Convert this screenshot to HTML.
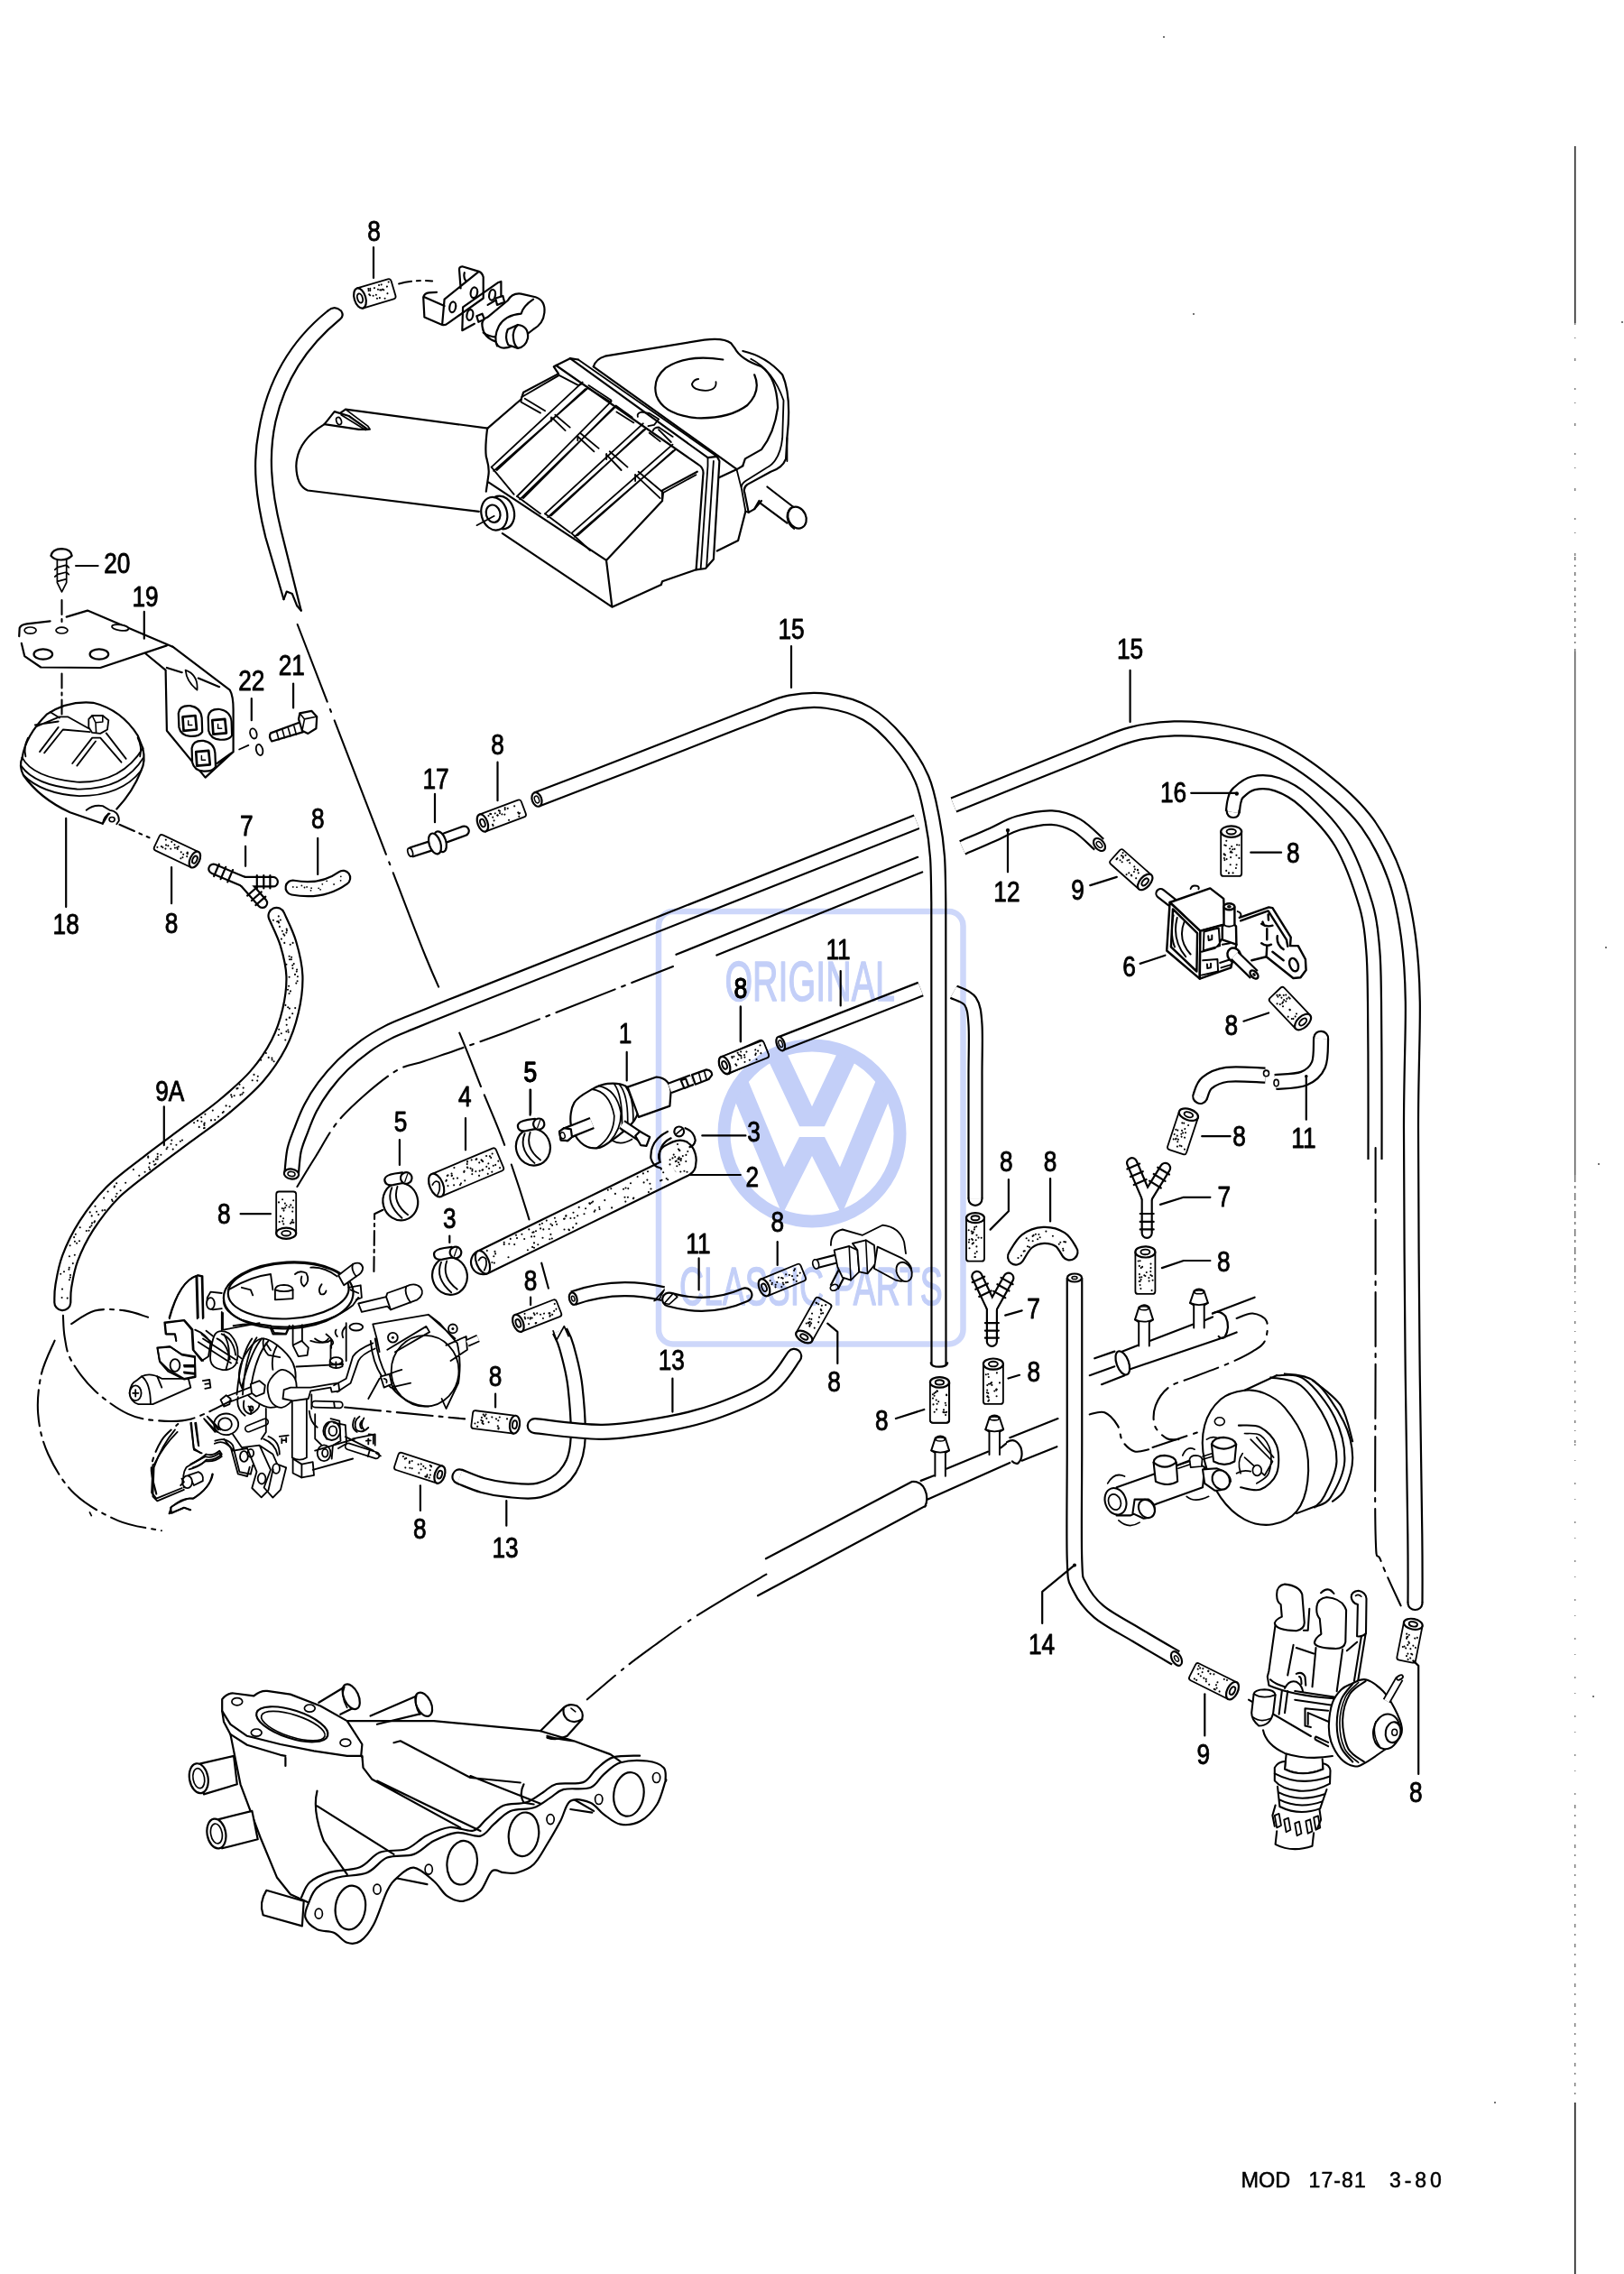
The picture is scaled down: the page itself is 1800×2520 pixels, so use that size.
<!DOCTYPE html>
<html><head><meta charset="utf-8"><title>diagram</title>
<style>
html,body{margin:0;padding:0;background:#fff;}
body{width:1800px;height:2520px;overflow:hidden;font-family:"Liberation Sans",sans-serif;}
svg{display:block;}
svg text{font-family:"Liberation Sans",sans-serif;fill:#000;}
</style></head><body>
<svg width="1800" height="2520" viewBox="0 0 1800 2520" stroke-linecap="round" stroke-linejoin="round">
<text transform="translate(414.5 267) scale(0.82 1)" font-size="32" text-anchor="middle" stroke="#000" stroke-width="0.9">8</text>
<path d="M414 274 L414 308" fill="none" stroke="#000" stroke-width="2.20" />
<g transform="translate(399 330.5) rotate(-16.6)">
<path d="M0 -11.5 L35.600518131237564 -11.5 Q38.600518131237564 -11.5 38.600518131237564 -8.5 L38.600518131237564 8.5 Q38.600518131237564 11.5 35.600518131237564 11.5 L0 11.5 Z" fill="#fff" stroke="#000" stroke-width="1.8"/>
<circle cx="18.5" cy="-6.3" r="1.05" fill="#000"/>
<circle cx="27.0" cy="-7.7" r="1.05" fill="#000"/>
<circle cx="24.0" cy="-2.4" r="1.05" fill="#000"/>
<circle cx="11.6" cy="0.1" r="1.05" fill="#000"/>
<circle cx="11.0" cy="-1.2" r="1.05" fill="#000"/>
<circle cx="11.9" cy="-7.4" r="1.05" fill="#000"/>
<circle cx="21.1" cy="5.9" r="1.05" fill="#000"/>
<circle cx="13.3" cy="-5.0" r="1.05" fill="#000"/>
<circle cx="26.4" cy="8.1" r="1.05" fill="#000"/>
<circle cx="25.1" cy="-1.9" r="1.05" fill="#000"/>
<circle cx="35.5" cy="-8.2" r="1.05" fill="#000"/>
<circle cx="32.4" cy="-3.8" r="1.05" fill="#000"/>
<circle cx="13.8" cy="-6.9" r="1.05" fill="#000"/>
<circle cx="18.1" cy="5.7" r="1.05" fill="#000"/>
<circle cx="14.8" cy="1.5" r="1.05" fill="#000"/>
<circle cx="26.7" cy="-2.3" r="1.05" fill="#000"/>
<circle cx="24.3" cy="-7.9" r="1.05" fill="#000"/>
<circle cx="11.6" cy="-5.3" r="1.05" fill="#000"/>
<circle cx="27.8" cy="-1.3" r="1.05" fill="#000"/>
<circle cx="18.2" cy="1.5" r="1.05" fill="#000"/>
<circle cx="21.9" cy="-3.6" r="1.05" fill="#000"/>
<circle cx="30.7" cy="3.6" r="1.05" fill="#000"/>
<ellipse cx="0" cy="0" rx="6.3" ry="11.5" fill="#fff" stroke="#000" stroke-width="2.20"/>
<ellipse cx="0" cy="0" rx="2.9" ry="5.2" fill="none" stroke="#000" stroke-width="1.9"/>
</g>
<path d="M 442.1 314.5 Q 461.8 309.6 479.1 311.5" fill="none" stroke="#000" stroke-width="2.07" stroke-dasharray="14 6 4 6"/>
<path d="M 363.3 344.5 Q 370.7 337.9 378.1 344.5 Q 381.8 350.2 376.8 353.9 C 343.6 381.0 316.5 417.9 305.4 467.2 C 298.0 501.7 299.3 538.6 311.6 587.9 L 333.7 676.6" fill="none" stroke="#000" stroke-width="2.20" />
<path d="M 363.3 344.5 C 323.9 376.1 296.8 417.9 286.9 477.0 C 279.6 514.0 283.3 550.9 294.3 595.3 L 314.5 664.2" fill="none" stroke="#000" stroke-width="2.20" />
<path d="M 314.5 664.2 L 317.7 655.6 L 323.9 658.1 L 329.3 671.6 L 333.7 676.6" fill="none" stroke="#000" stroke-width="2.20" />
<path d="M 470.4 351.4 L 469.2 329.3 Q 470.4 324.8 475.4 324.3 L 484.0 323.8 M 470.4 351.4 L 490.1 360.0 Q 493.8 360.8 496.3 358.3 L 535.7 330.5 L 535.7 307.1 Q 534.5 302.2 530.8 300.9 L 512.3 295.3 Q 508.6 295.3 509.1 299.7 L 510.6 319.4 M 530.8 300.9 L 492.6 331.7 L 490.1 360.0 M 470.4 329.3 L 492.6 339.1 M 514.8 302.2 Q 513.5 307.1 516.0 310.8" fill="none" stroke="#000" stroke-width="2.20" />
<ellipse cx="501.7" cy="340.3" rx="3.4" ry="5.9" transform="rotate(10 501.7 340.3)" fill="#fff" stroke="#000" stroke-width="2.20"/>
<ellipse cx="525.4" cy="324.3" rx="3.7" ry="5.9" transform="rotate(10 525.4 324.3)" fill="#fff" stroke="#000" stroke-width="2.20"/>
<path d="M 512.3 366.2 L 513.1 340.3 L 551.7 313.3 L 555.4 312.0 L 555.4 329.3 L 540.6 337.9 M 512.3 366.2 L 525.9 358.8" fill="none" stroke="#000" stroke-width="2.20" />
<ellipse cx="520.9" cy="349.0" rx="3.4" ry="5.9" transform="rotate(10 520.9 349.0)" fill="#fff" stroke="#000" stroke-width="2.20"/>
<ellipse cx="545.6" cy="326.8" rx="3.4" ry="5.9" transform="rotate(10 545.6 326.8)" fill="#fff" stroke="#000" stroke-width="2.20"/>
<path d="M 528.3 350.2 L 534.5 347.7 L 536.9 353.9 L 530.3 356.8 Z" fill="#fff" stroke="#000" stroke-width="2.20" />
<path d="M 549.3 330.5 L 557.4 328.0 L 559.1 334.7 L 551.0 337.9 Z" fill="#fff" stroke="#000" stroke-width="2.20" />
<path d="M 534.5 361.3 Q 533.3 353.9 540.6 351.4 L 562.8 333.0 Q 567.7 324.3 577.6 325.6 L 593.6 329.3 Q 604.7 333.0 603.4 346.5 Q 602.2 358.8 591.1 365.0 L 567.7 383.4 Q 553.0 389.6 549.3 378.5 Q 535.7 373.6 534.5 361.3 Z" fill="#fff" stroke="#000" stroke-width="2.20" />
<path d="M 591.1 331.7 Q 580.0 339.1 577.6 347.7 Q 560.3 349.0 553.0 361.3 Q 546.8 373.6 551.0 383.4 M 549.3 373.6 Q 541.9 373.1 535.7 368.7" fill="none" stroke="#000" stroke-width="2.20" />
<path d="M 562.8 365.0 L 573.9 360.0 Q 586.2 361.3 585.0 374.8 Q 582.5 384.7 573.9 385.9 L 563.3 382.2 Q 559.1 373.6 562.8 365.0 Z" fill="#fff" stroke="#000" stroke-width="2.20" />
<path d="M 573.9 360.0 Q 567.7 366.2 569.0 374.8 Q 569.7 382.2 573.9 385.9" fill="none" stroke="#000" stroke-width="2.20" />
<path d="M 540.6 474.6 L 383.0 453.6 L 358.4 470.9 Q 328.8 489.4 328.3 516.5 Q 328.8 538.6 341.1 543.5 L 530.8 566.9" fill="none" stroke="#000" stroke-width="2.20" />
<path d="M 359.6 470.1 L 370.7 456.1 L 386.7 461.0 L 407.6 475.8 L 397.8 475.8 Z" fill="#fff" stroke="#000" stroke-width="2.20" />
<path d="M 383.0 453.6 L 407.6 472.1 L 410.1 475.8 L 407.6 475.8 M 378.1 459.8 L 405.2 476.6" fill="none" stroke="#000" stroke-width="1.71" />
<ellipse cx="375.6" cy="466.5" rx="2.7" ry="4.2" transform="rotate(-20 375.6 466.5)" fill="#fff" stroke="#000" stroke-width="1.71"/>
<ellipse cx="555.6" cy="567.9" rx="14.2" ry="18.6" transform="rotate(-15 555.6 567.9)" fill="#fff" stroke="#000" stroke-width="2.20"/>
<ellipse cx="547.8" cy="569.2" rx="14.2" ry="18.6" transform="rotate(-15 547.8 569.2)" fill="#fff" stroke="#000" stroke-width="2.20"/>
<ellipse cx="546.6" cy="569.2" rx="7.8" ry="9.8" transform="rotate(-15 546.6 569.2)" fill="#fff" stroke="#000" stroke-width="2.20"/>
<path d="M 528.4 582.2 L 547.8 571.8" fill="none" stroke="#000" stroke-width="1.71" />
<path d="M 540.1 474.8 L 577.6 442.5 L 580.2 434.7 L 619.0 414.1 L 613.8 406.3 L 631.9 397.2 L 640.9 398.5 M 540.1 474.8 Q 537.5 495.5 538.8 505.9 Q 542.7 518.8 541.4 526.6 L 538.8 544.7 M 556.9 591.2 L 678.4 672.7 L 732.8 648.1 L 734.1 644.2 L 771.6 631.3 M 678.4 672.7 L 672.0 620.9 L 734.1 555.0 L 734.1 543.4 L 772.8 522.7 M 541.4 534.3 L 672.0 620.9" fill="none" stroke="#000" stroke-width="2.20" />
<path d="M 645.5 423.6 L 544.7 517.6 M 651.6 430.0 L 547.2 521.9 M 649.0 431.0 L 550.7 521.0" fill="none" stroke="#000" stroke-width="1.83" />
<path d="M 677.4 444.8 L 573.1 550.0 M 682.6 450.3 L 576.2 553.4 M 680.0 451.7 L 580.0 552.1" fill="none" stroke="#000" stroke-width="1.83" />
<path d="M 712.8 469.3 L 604.1 569.3 M 716.2 474.8 L 607.2 573.1 M 713.6 476.2 L 611.0 571.4" fill="none" stroke="#000" stroke-width="1.83" />
<path d="M 745.5 492.6 L 633.4 590.9 M 748.6 498.3 L 636.9 594.8 M 746.4 499.5 L 640.3 593.4" fill="none" stroke="#000" stroke-width="1.83" />
<path d="M 619.7 415.9 L 640.3 426.6 Q 644.7 427.1 645.5 423.6 M 652.4 427.1 L 674.8 441.7 Q 678.3 443.4 677.4 444.8 M 682.6 449.5 L 700.7 462.4 M 683.4 456.4 L 702.4 468.4 M 719.7 479.7 L 731.7 489.1 M 730.0 476.2 L 743.8 490.0" fill="none" stroke="#000" stroke-width="1.83" />
<path d="M 578.3 440.0 L 619.7 415.9 M 578.3 440.0 L 577.4 445.5 L 599.0 457.6 M 581.7 441.7 L 604.1 455.2 M 651.6 430.0 L 676.6 445.2" fill="none" stroke="#000" stroke-width="1.83" />
<path d="M 612.4 463.3 L 626.6 477.1 M 615.3 459.8 L 631.7 473.6 M 640.7 484.0 L 658.4 500.3 M 643.8 480.5 L 663.6 496.9 M 672.2 503.8 L 688.6 521.0 M 675.7 500.3 L 695.5 517.6 M 704.1 526.2 L 731.7 552.1 M 707.6 522.8 L 735.2 546.0 L 771.4 526.2" fill="none" stroke="#000" stroke-width="1.83" />
<path d="M 544.7 517.6 L 569.7 547.8 M 573.1 550.0 L 599.0 569.3 M 604.1 569.3 L 631.7 590.0 M 633.4 590.9 L 654.1 610.0" fill="none" stroke="#000" stroke-width="1.83" />
<path d="M 611.0 462.4 L 611.0 466.7 M 640.3 484.0 L 640.3 488.3 M 672.2 502.9 L 672.2 509.0 M 704.1 526.2 L 704.1 533.1 M 735.2 546.0 L 734.3 552.9" fill="none" stroke="#000" stroke-width="1.83" />
<path d="M 631.9 397.2 L 784.5 507.2 L 794.8 505.9 L 797.4 511.0 L 790.9 619.7 L 781.9 630.0 L 771.6 631.3 L 779.3 526.6 Q 780.6 518.8 774.1 514.9 L 616.4 405.0" fill="none" stroke="#000" stroke-width="2.20" />
<path d="M 640.9 398.5 L 794.8 505.9 M 784.5 507.2 L 784.5 516.2 L 776.7 630.0 M 790.9 511.0 L 783.2 627.4" fill="none" stroke="#000" stroke-width="1.83" />
<path d="M 657.8 406.3 L 816.8 520.1 L 797.4 529.1 M 816.8 520.1 L 823.3 516.2" fill="none" stroke="#000" stroke-width="2.20" />
<path d="M 706.9 461.9 Q 705.6 458.0 710.8 456.7 L 719.8 458.0 L 730.2 464.5 L 725.0 470.9 L 718.5 472.2 M 723.7 477.4 Q 725.0 473.5 730.2 473.5 L 745.7 483.9" fill="none" stroke="#000" stroke-width="1.83" />
<path d="M 657.8 406.3 Q 660.3 397.8 670.7 394.7 L 780.6 376.6 Q 802.6 374.0 810.3 380.4 L 814.2 385.6 Q 820.7 398.5 844.0 406.3 Q 860.8 417.9 862.1 451.6 Q 858.2 480.0 844.0 498.1 L 825.9 508.4 L 823.3 516.2" fill="none" stroke="#000" stroke-width="2.20" />
<path d="M 823.3 389.0 Q 849.1 394.7 867.2 415.3 Q 877.6 438.6 872.4 485.2 L 871.1 508.4 Q 867.2 518.8 854.3 522.7 L 828.4 536.9 Q 823.3 540.8 825.3 545.9 L 829.7 567.9 L 836.2 564.1 L 841.4 555.0" fill="none" stroke="#000" stroke-width="2.20" />
<path d="M 832.3 397.8 Q 856.9 410.2 868.5 443.8 L 867.2 485.2 Q 864.7 511.0 849.1 518.8 L 826.4 533.0 Q 820.7 536.9 822.0 542.1 L 826.4 566.6 L 829.7 567.9 M 816.8 521.4 L 822.0 542.1 M 872.4 485.2 L 872.4 511.0" fill="none" stroke="#000" stroke-width="1.83" />
<path d="M 794.8 610.6 L 818.1 599.0 L 826.4 566.6 M 836.2 564.1 L 844.0 555.0" fill="none" stroke="#000" stroke-width="2.20" />
<path d="M 801.3 398.5 Q 761.2 392.1 737.9 407.6 Q 722.4 420.5 727.6 438.6 Q 735.3 459.3 771.6 463.2 Q 807.8 464.5 828.4 449.0 Q 844.0 433.4 836.2 415.3" fill="none" stroke="#000" stroke-width="2.20" />
<path d="M 793.5 423.1 Q 794.8 432.2 781.9 432.9 Q 767.7 432.2 766.9 425.7 Q 769.0 420.5 774.1 420.0" fill="none" stroke="#000" stroke-width="1.83" />
<path d="M 850.4 539.5 L 878.9 561.5 M 842.7 557.6 L 872.4 579.6" fill="none" stroke="#000" stroke-width="2.20" />
<ellipse cx="883.5" cy="573.6" rx="9.8" ry="12.4" transform="rotate(-25 883.5 573.6)" fill="#fff" stroke="#000" stroke-width="2.20"/>
<path d="M 878.9 561.5 Q 872.4 564.1 872.4 573.1 Q 873.7 582.2 880.2 586.0" fill="none" stroke="#000" stroke-width="1.83" />
<text transform="translate(877 708) scale(0.82 1)" font-size="32" text-anchor="middle" stroke="#000" stroke-width="0.9">15</text>
<path d="M877 716 L877 762" fill="none" stroke="#000" stroke-width="2.20" />
<text transform="translate(129.8 635.3) scale(0.82 1)" font-size="32" text-anchor="middle" stroke="#000" stroke-width="0.9">20</text>
<text transform="translate(161.1 672.2) scale(0.82 1)" font-size="32" text-anchor="middle" stroke="#000" stroke-width="0.9">19</text>
<text transform="translate(278.8 764.6) scale(0.82 1)" font-size="32" text-anchor="middle" stroke="#000" stroke-width="0.9">22</text>
<text transform="translate(323.3 747.8) scale(0.82 1)" font-size="32" text-anchor="middle" stroke="#000" stroke-width="0.9">21</text>
<text transform="translate(273.4 926.2) scale(0.82 1)" font-size="32" text-anchor="middle" stroke="#000" stroke-width="0.9">7</text>
<text transform="translate(352.2 918.4) scale(0.82 1)" font-size="32" text-anchor="middle" stroke="#000" stroke-width="0.9">8</text>
<text transform="translate(73.2 1034.8) scale(0.82 1)" font-size="32" text-anchor="middle" stroke="#000" stroke-width="0.9">18</text>
<text transform="translate(190.1 1033.5) scale(0.82 1)" font-size="32" text-anchor="middle" stroke="#000" stroke-width="0.9">8</text>
<path d="M 84.1 627.0 L 108.6 627.0 M 159.8 677.9 L 159.8 707.7 M 278.8 774.1 L 278.8 798.2 M 325.1 757.6 L 325.1 784.5 M 73.2 906.8 L 73.2 1005.1 M 190.1 961.1 L 190.1 1001.2 M 272.1 937.8 L 272.1 959.8 M 352.2 928.8 L 352.2 968.9" fill="none" stroke="#000" stroke-width="2.20" />
<path d="M 56.4 615.9 Q 58.2 608.1 68.5 608.1 Q 78.9 608.6 79.7 615.9 Q 75.0 620.5 67.8 620.5 Q 60.0 620.5 56.4 615.9 Z" fill="#fff" stroke="#000" stroke-width="2.20" />
<path d="M 63.4 620.5 L 63.4 645.6 L 68.5 655.9 L 73.7 645.6 L 73.7 620.5 M 63.4 628.8 L 73.7 626.2 M 63.4 636.6 L 73.7 634.0 M 63.4 644.3 L 73.7 641.7 M 60.8 631.4 L 63.4 628.8 M 73.7 626.2 L 76.3 628.8 M 60.8 639.1 L 63.4 636.6 M 73.7 634.0 L 76.3 636.6" fill="none" stroke="#000" stroke-width="1.71" />
<path d="M 68.5 665.0 L 68.5 693.4" fill="none" stroke="#000" stroke-width="2.07" stroke-dasharray="16 5 3 5"/>
<path d="M 68.5 746.5 L 68.5 794.3" fill="none" stroke="#000" stroke-width="2.07" stroke-dasharray="16 5 3 5"/>
<path d="M 21.2 705.1 L 21.7 696.0 Q 23.3 692.2 29.7 691.4 L 55.6 688.3 M 73.7 683.6 L 97.0 676.6 L 191.4 716.7 M 184.9 715.4 L 111.2 740.0 L 45.3 739.5 L 27.2 727.1 L 23.8 712.8" fill="none" stroke="#000" stroke-width="2.20" />
<ellipse cx="33.6" cy="698.6" rx="6.5" ry="3.6" transform="rotate(0 33.6 698.6)" fill="#fff" stroke="#000" stroke-width="1.71"/>
<ellipse cx="68.5" cy="698.6" rx="6.5" ry="3.4" transform="rotate(0 68.5 698.6)" fill="#fff" stroke="#000" stroke-width="1.71"/>
<ellipse cx="47.8" cy="725.0" rx="10.3" ry="5.7" transform="rotate(0 47.8 725.0)" fill="#fff" stroke="#000" stroke-width="2.20"/>
<ellipse cx="109.9" cy="725.0" rx="10.3" ry="5.7" transform="rotate(0 109.9 725.0)" fill="#fff" stroke="#000" stroke-width="2.20"/>
<ellipse cx="133.2" cy="695.5" rx="9.3" ry="3.1" transform="rotate(8 133.2 695.5)" fill="#fff" stroke="#000" stroke-width="1.71"/>
<path d="M 191.4 716.7 L 254.7 764.6 Q 258.6 771.0 258.6 786.6 L 258.6 833.1 L 227.6 861.6 L 184.9 809.8 L 183.6 742.6 L 161.6 724.5 M 184.9 740.0 L 201.7 745.2 M 219.8 751.6 L 243.1 761.2 M 240.5 846.0 L 258.6 833.1" fill="none" stroke="#000" stroke-width="2.20" />
<path d="M 205.6 742.6 Q 206.9 755.5 218.5 764.6 Q 219.8 747.8 205.6 742.6" fill="none" stroke="#000" stroke-width="1.71" />
<path d="M 197.8 790.4 Q 199.1 781.4 210.8 782.2 Q 222.4 784.0 223.7 795.6 L 224.2 811.1 Q 221.1 816.3 210.8 815.8 Q 200.4 815.0 198.4 805.9 Z" fill="#fff" stroke="#000" stroke-width="2.20" />
<path d="M 202.5 794.3 L 216.5 793.0 L 218.0 808.5 L 203.5 809.8 Z" fill="#fff" stroke="#000" stroke-width="2.68" />
<path d="M 208.7 798.7 L 208.7 803.4 L 212.8 803.4" fill="none" stroke="#000" stroke-width="1.46" />
<path d="M 230.7 794.3 Q 232.0 785.3 243.6 786.0 Q 255.3 787.8 256.6 799.5 L 257.1 815.0 Q 254.0 820.2 243.6 819.7 Q 233.3 818.9 231.2 809.8 Z" fill="#fff" stroke="#000" stroke-width="2.20" />
<path d="M 235.3 798.2 L 249.3 796.9 L 250.9 812.4 L 236.4 813.7 Z" fill="#fff" stroke="#000" stroke-width="2.68" />
<path d="M 241.6 802.6 L 241.6 807.2 L 245.7 807.2" fill="none" stroke="#000" stroke-width="1.46" />
<path d="M 212.6 829.2 Q 213.9 820.2 225.5 820.9 Q 237.2 822.8 238.4 834.4 L 239.0 849.9 Q 235.9 855.1 225.5 854.6 Q 215.2 853.8 213.1 844.7 Z" fill="#fff" stroke="#000" stroke-width="2.20" />
<path d="M 217.2 833.1 L 231.2 831.8 L 232.8 847.3 L 218.3 848.6 Z" fill="#fff" stroke="#000" stroke-width="2.68" />
<path d="M 223.4 837.5 L 223.4 842.2 L 227.6 842.2" fill="none" stroke="#000" stroke-width="1.46" />
<ellipse cx="280.9" cy="812.9" rx="3.6" ry="5.7" transform="rotate(-15 280.9 812.9)" fill="#fff" stroke="#000" stroke-width="1.83"/>
<ellipse cx="287.6" cy="831.0" rx="3.6" ry="6.2" transform="rotate(-15 287.6 831.0)" fill="#fff" stroke="#000" stroke-width="1.83"/>
<path d="M 265.1 830.5 L 275.4 825.9" fill="none" stroke="#000" stroke-width="1.71" />
<path d="M 300.0 812.4 Q 297.4 816.3 301.3 821.5 L 336.2 811.1 L 333.6 800.0 Z" fill="#fff" stroke="#000" stroke-width="2.20" />
<path d="M 306.5 810.3 L 309.1 819.7 M 312.9 808.5 L 315.5 817.6 M 319.4 806.7 L 322.0 815.8 M 325.9 804.7 L 328.4 814.0" fill="none" stroke="#000" stroke-width="1.59" />
<path d="M 332.3 790.4 L 345.3 787.8 L 351.2 794.3 L 350.4 807.2 L 341.4 812.9 L 334.9 809.8 L 331.0 796.9 Z" fill="#fff" stroke="#000" stroke-width="2.20" />
<path d="M 334.9 809.8 L 337.5 796.9 L 332.3 790.4 M 337.5 796.9 L 350.4 794.3" fill="none" stroke="#000" stroke-width="1.59" />
<path d="M 24.6 839.6 Q 28.4 815.0 51.7 791.7 Q 75.0 776.2 103.4 778.8 Q 134.5 786.6 152.6 815.0 L 158.3 829.2" fill="none" stroke="#000" stroke-width="2.20" />
<path d="M 24.6 839.6 Q 20.7 848.6 25.9 859.0 Q 44.0 884.8 77.6 900.3 L 113.8 912.8 L 120.3 901.6 M 158.3 829.2 Q 161.6 843.4 156.5 853.8 Q 147.4 877.1 129.3 896.5" fill="none" stroke="#000" stroke-width="2.20" />
<path d="M 24.6 839.6 Q 36.2 861.6 85.3 866.7 Q 134.5 868.0 158.3 829.2 M 23.3 848.6 Q 38.8 870.6 85.3 874.5 Q 137.1 875.8 159.1 839.6 M 31.0 817.6 Q 25.9 827.9 28.4 838.3 M 152.6 817.6 Q 157.8 827.9 155.2 838.3" fill="none" stroke="#000" stroke-width="1.83" />
<path d="M 25.9 859.0 Q 46.6 879.7 87.9 882.2 Q 134.5 882.2 156.5 853.8" fill="none" stroke="#000" stroke-width="1.83" />
<path d="M 41.4 804.7 L 65.9 794.3 L 75.0 794.3 L 98.3 807.2 M 44.0 833.1 L 64.7 805.9 M 49.1 834.4 L 69.8 808.5 L 99.6 811.1 M 80.2 846.0 L 102.2 817.6 L 111.2 817.6 L 134.5 844.7 M 85.3 848.6 L 106.0 821.5 M 139.7 840.9 L 117.7 812.4 M 38.8 803.4 L 64.7 799.5 M 55.6 789.1 L 65.9 795.6" fill="none" stroke="#000" stroke-width="1.83" />
<path d="M 98.3 796.9 L 102.2 793.0 L 113.8 793.0 L 120.3 798.2 L 119.0 808.5 L 111.2 812.9 L 102.2 811.9 L 98.3 805.9 Z" fill="#fff" stroke="#000" stroke-width="1.83" />
<path d="M 102.2 793.0 L 106.0 800.8 L 113.8 800.0 L 113.8 793.0 M 106.0 800.8 L 106.6 811.9" fill="none" stroke="#000" stroke-width="1.59" />
<path d="M 95.7 897.8 Q 103.4 891.3 113.8 893.1 L 121.6 897.8 Q 131.9 899.1 131.9 909.4 L 129.3 913.3 M 113.8 912.8 Q 115.1 904.2 121.6 901.6" fill="none" stroke="#000" stroke-width="1.83" />
<ellipse cx="124.1" cy="908.1" rx="3.1" ry="2.6" transform="rotate(0 124.1 908.1)" fill="#fff" stroke="#000" stroke-width="1.59"/>
<path d="M 132.4 913.8 L 165.5 928.3" fill="none" stroke="#000" stroke-width="2.07" stroke-dasharray="18 6 3 6"/>
<g transform="translate(215.9 952.6) rotate(-154.7)">
<path d="M0 -9.5 L43.566296825064356 -9.5 Q46.566296825064356 -9.5 46.566296825064356 -6.5 L46.566296825064356 6.5 Q46.566296825064356 9.5 43.566296825064356 9.5 L0 9.5 Z" fill="#fff" stroke="#000" stroke-width="1.8"/>
<circle cx="17.3" cy="1.0" r="1.05" fill="#000"/>
<circle cx="27.3" cy="5.3" r="1.05" fill="#000"/>
<circle cx="34.5" cy="-3.0" r="1.05" fill="#000"/>
<circle cx="43.4" cy="-5.3" r="1.05" fill="#000"/>
<circle cx="23.5" cy="3.6" r="1.05" fill="#000"/>
<circle cx="14.0" cy="-0.2" r="1.05" fill="#000"/>
<circle cx="10.0" cy="2.4" r="1.05" fill="#000"/>
<circle cx="35.7" cy="1.0" r="1.05" fill="#000"/>
<circle cx="39.7" cy="-2.6" r="1.05" fill="#000"/>
<circle cx="33.3" cy="1.3" r="1.05" fill="#000"/>
<circle cx="29.2" cy="-0.6" r="1.05" fill="#000"/>
<circle cx="38.4" cy="6.2" r="1.05" fill="#000"/>
<circle cx="25.4" cy="2.3" r="1.05" fill="#000"/>
<circle cx="10.8" cy="2.8" r="1.05" fill="#000"/>
<circle cx="31.6" cy="6.9" r="1.05" fill="#000"/>
<circle cx="37.8" cy="-3.0" r="1.05" fill="#000"/>
<circle cx="22.3" cy="2.4" r="1.05" fill="#000"/>
<circle cx="9.4" cy="-0.5" r="1.05" fill="#000"/>
<circle cx="14.6" cy="-5.4" r="1.05" fill="#000"/>
<circle cx="10.7" cy="3.8" r="1.05" fill="#000"/>
<circle cx="13.2" cy="-3.5" r="1.05" fill="#000"/>
<circle cx="22.5" cy="5.2" r="1.05" fill="#000"/>
<ellipse cx="0" cy="0" rx="5.2" ry="9.5" fill="#fff" stroke="#000" stroke-width="2.20"/>
<ellipse cx="0" cy="0" rx="2.4" ry="4.3" fill="none" stroke="#000" stroke-width="1.9"/>
</g>
<path d="M270.3 977.2 L236.6 962.9" fill="none" stroke="#000" stroke-width="12.7" stroke-linecap="round"/>
<path d="M270.3 977.2 L302.6 977.2" fill="none" stroke="#000" stroke-width="12.7" stroke-linecap="round"/>
<path d="M270.3 977.2 L290.9 1000.7" fill="none" stroke="#000" stroke-width="12.7" stroke-linecap="round"/>
<path d="M270.3 977.2 L236.6 962.9" fill="none" stroke="#fff" stroke-width="8.33" stroke-linecap="round"/>
<path d="M270.3 977.2 L302.6 977.2" fill="none" stroke="#fff" stroke-width="8.33" stroke-linecap="round"/>
<path d="M270.3 977.2 L290.9 1000.7" fill="none" stroke="#fff" stroke-width="8.33" stroke-linecap="round"/>
<path d="M258.0 964.1 L252.3 977.4" stroke="#000" stroke-width="2.1849999999999996" fill="none"/>
<path d="M250.2 960.8 L244.6 974.2" stroke="#000" stroke-width="2.1849999999999996" fill="none"/>
<path d="M242.8 957.7 L237.1 971.0" stroke="#000" stroke-width="2.1849999999999996" fill="none"/>
<path d="M284.8 984.5 L284.8 970.0" stroke="#000" stroke-width="2.1849999999999996" fill="none"/>
<path d="M292.3 984.5 L292.3 970.0" stroke="#000" stroke-width="2.1849999999999996" fill="none"/>
<path d="M299.4 984.5 L299.4 970.0" stroke="#000" stroke-width="2.1849999999999996" fill="none"/>
<path d="M274.1 992.6 L285.0 983.0" stroke="#000" stroke-width="2.1849999999999996" fill="none"/>
<path d="M278.9 998.0 L289.8 988.4" stroke="#000" stroke-width="2.1849999999999996" fill="none"/>
<path d="M283.4 1003.1 L294.3 993.6" stroke="#000" stroke-width="2.1849999999999996" fill="none"/>
<path d="M 324.6 983.6 Q 356.9 989.6 380.2 972.8" fill="none" stroke="#000" stroke-width="18.20" stroke-linecap="round" stroke-linejoin="round"/>
<path d="M 324.6 983.6 Q 356.9 989.6 380.2 972.8" fill="none" stroke="#fff" stroke-width="13.80" stroke-linecap="round" stroke-linejoin="round"/>
<circle cx="329.0" cy="983.2" r="0.9"/>
<circle cx="355.1" cy="985.8" r="0.9"/>
<circle cx="370.1" cy="980.0" r="0.9"/>
<circle cx="340.1" cy="982.9" r="0.9"/>
<circle cx="344.5" cy="986.8" r="0.9"/>
<circle cx="377.8" cy="971.3" r="0.9"/>
<circle cx="334.4" cy="981.4" r="0.9"/>
<circle cx="337.5" cy="983.5" r="0.9"/>
<circle cx="357.3" cy="979.8" r="0.9"/>
<circle cx="324.8" cy="982.9" r="0.9"/>
<circle cx="345.1" cy="984.2" r="0.9"/>
<circle cx="377.6" cy="975.8" r="0.9"/>
<circle cx="353.2" cy="984.3" r="0.9"/>
<circle cx="362.2" cy="976.3" r="0.9"/>
<path d="M329.7 692.0 C344.6 730.6 395.3 862.3 419.0 923.6 C442.7 984.9 456.8 1023.4 471.7 1060.0 C486.6 1096.6 498.1 1118.5 508.6 1143.1 C519.1 1167.7 526.2 1187.2 534.5 1207.8 C542.8 1228.4 550.2 1244.1 558.5 1266.9 C566.8 1289.7 576.1 1317.4 584.4 1344.5 C592.7 1371.6 603.0 1409.9 608.4 1429.5 C613.8 1449.1 615.6 1456.6 617.0 1462.0" fill="none" stroke="#000" stroke-width="2.07" stroke-dasharray="92 9 3 10 159 9 3 10 136 56 64 10 60 23 64 50 29 200"/>
<path d="M323.2 1300.0 C323.7 1295.8 324.4 1282.7 326.0 1275.0 C327.6 1267.3 330.1 1261.8 333.1 1254.0 C336.1 1246.2 339.7 1236.3 344.0 1228.0 C348.3 1219.7 353.0 1212.1 359.0 1204.1 C365.0 1196.1 372.3 1187.5 380.0 1180.0 C387.7 1172.5 396.9 1165.0 405.2 1159.0 C413.5 1153.0 421.7 1148.3 430.0 1144.0 C438.3 1139.7 443.3 1138.0 455.0 1133.2 C466.7 1128.4 492.5 1118.0 500.0 1115.0 L1016 910.8" fill="none" stroke="#000" stroke-width="17.70" stroke-linecap="butt" stroke-linejoin="round"/>
<path d="M323.2 1300.0 C323.7 1295.8 324.4 1282.7 326.0 1275.0 C327.6 1267.3 330.1 1261.8 333.1 1254.0 C336.1 1246.2 339.7 1236.3 344.0 1228.0 C348.3 1219.7 353.0 1212.1 359.0 1204.1 C365.0 1196.1 372.3 1187.5 380.0 1180.0 C387.7 1172.5 396.9 1165.0 405.2 1159.0 C413.5 1153.0 421.7 1148.3 430.0 1144.0 C438.3 1139.7 443.3 1138.0 455.0 1133.2 C466.7 1128.4 492.5 1118.0 500.0 1115.0 L1016 910.8" fill="none" stroke="#fff" stroke-width="13.30" stroke-linecap="butt" stroke-linejoin="round"/>
<ellipse cx="323" cy="1301" rx="8.2" ry="5.5" transform="rotate(8 323 1301)" fill="#fff" stroke="#000" stroke-width="2.20"/>
<ellipse cx="323" cy="1301" rx="4" ry="2.5" transform="rotate(8 323 1301)" fill="#fff" stroke="#000" stroke-width="1.59"/>
<path d="M1057.0 892.0 C1080.8 882.4 1167.2 847.5 1200.0 834.5 C1232.8 821.5 1237.0 818.4 1253.9 813.9 C1270.8 809.4 1285.4 807.9 1301.6 807.4 C1317.8 806.9 1332.4 807.5 1350.9 811.1 C1369.4 814.8 1392.4 819.8 1412.4 829.3 C1432.4 838.8 1453.7 853.9 1470.9 867.8 C1488.1 881.6 1503.0 895.0 1515.6 912.4 C1528.2 929.8 1538.9 951.6 1546.4 972.4 C1553.9 993.2 1557.6 1014.2 1560.8 1037.1 C1564.0 1060.0 1565.3 1074.5 1565.8 1110.0 C1566.3 1145.5 1564.0 1185.0 1564.0 1250.0 C1564.0 1315.0 1564.8 1425.0 1565.5 1500.0 C1566.2 1575.0 1567.8 1654.0 1568.3 1700.0 C1568.8 1746.0 1568.5 1763.3 1568.5 1776.0" fill="none" stroke="#000" stroke-width="18.20" stroke-linecap="butt" stroke-linejoin="round"/>
<path d="M1057.0 892.0 C1080.8 882.4 1167.2 847.5 1200.0 834.5 C1232.8 821.5 1237.0 818.4 1253.9 813.9 C1270.8 809.4 1285.4 807.9 1301.6 807.4 C1317.8 806.9 1332.4 807.5 1350.9 811.1 C1369.4 814.8 1392.4 819.8 1412.4 829.3 C1432.4 838.8 1453.7 853.9 1470.9 867.8 C1488.1 881.6 1503.0 895.0 1515.6 912.4 C1528.2 929.8 1538.9 951.6 1546.4 972.4 C1553.9 993.2 1557.6 1014.2 1560.8 1037.1 C1564.0 1060.0 1565.3 1074.5 1565.8 1110.0 C1566.3 1145.5 1564.0 1185.0 1564.0 1250.0 C1564.0 1315.0 1564.8 1425.0 1565.5 1500.0 C1566.2 1575.0 1567.8 1654.0 1568.3 1700.0 C1568.8 1746.0 1568.5 1763.3 1568.5 1776.0" fill="none" stroke="#fff" stroke-width="13.80" stroke-linecap="butt" stroke-linejoin="round"/>
<path d="M1560.5 1776.0 C1560.5 1786.7 1576.5 1786.6 1576.5 1776.0" fill="#fff" stroke="#000" stroke-width="2.196"/>
<path d="M 749.5 1057.8 L 1017.2 949.8 M 794.4 1058.5 L 1022.2 966.4" fill="none" stroke="#000" stroke-width="2.20" />
<path d="M329.4 1315.0 C332.8 1309.5 341.5 1294.7 349.8 1281.7 C358.1 1268.8 365.2 1252.7 379.3 1237.3 C393.4 1221.9 419.6 1199.5 434.7 1189.3 C449.8 1179.1 458.3 1180.2 470.0 1176.0 C481.7 1171.8 489.9 1169.3 504.9 1164.0 C519.9 1158.7 550.8 1147.6 560.0 1144.3 L746 1071" fill="none" stroke="#000" stroke-width="2.07" stroke-dasharray="70 8 4 8"/>
<path d="M1066.7 939.4 C1072.2 937.0 1089.7 929.6 1100.0 925.0 C1110.3 920.4 1117.8 915.1 1128.8 912.0 C1139.8 908.9 1155.0 905.7 1165.8 906.1 C1176.6 906.5 1184.8 909.7 1193.5 914.6 C1202.2 919.5 1214.1 932.2 1218.2 935.7" fill="none" stroke="#000" stroke-width="17.70" stroke-linecap="butt" stroke-linejoin="round"/>
<path d="M1066.7 939.4 C1072.2 937.0 1089.7 929.6 1100.0 925.0 C1110.3 920.4 1117.8 915.1 1128.8 912.0 C1139.8 908.9 1155.0 905.7 1165.8 906.1 C1176.6 906.5 1184.8 909.7 1193.5 914.6 C1202.2 919.5 1214.1 932.2 1218.2 935.7" fill="none" stroke="#fff" stroke-width="13.30" stroke-linecap="butt" stroke-linejoin="round"/>
<ellipse cx="1218.5" cy="936" rx="5.2" ry="8" transform="rotate(-40 1218.5 936)" fill="#fff" stroke="#000" stroke-width="2.20"/>
<ellipse cx="1218.5" cy="936" rx="2.4" ry="4" transform="rotate(-40 1218.5 936)" fill="#fff" stroke="#000" stroke-width="1.46"/>
<path d="M594.7 886.0 C612.2 879.2 665.8 858.8 700.0 845.5 C734.2 832.2 776.7 815.5 800.0 806.4 C823.3 797.3 827.4 795.6 840.0 791.0 C852.6 786.4 863.0 780.9 875.7 778.5 C888.4 776.1 902.2 774.8 916.4 776.8 C930.6 778.8 947.5 783.2 960.7 790.8 C973.9 798.4 985.6 810.2 995.8 822.2 C1006.0 834.2 1015.4 848.4 1021.7 862.9 C1028.0 877.4 1030.6 894.5 1033.5 909.0 C1036.4 923.5 1037.9 934.5 1039.0 949.7 C1040.1 964.9 1040.1 991.6 1040.3 1000.0 L1040.5 1512" fill="none" stroke="#000" stroke-width="18.20" stroke-linecap="butt" stroke-linejoin="round"/>
<path d="M594.7 886.0 C612.2 879.2 665.8 858.8 700.0 845.5 C734.2 832.2 776.7 815.5 800.0 806.4 C823.3 797.3 827.4 795.6 840.0 791.0 C852.6 786.4 863.0 780.9 875.7 778.5 C888.4 776.1 902.2 774.8 916.4 776.8 C930.6 778.8 947.5 783.2 960.7 790.8 C973.9 798.4 985.6 810.2 995.8 822.2 C1006.0 834.2 1015.4 848.4 1021.7 862.9 C1028.0 877.4 1030.6 894.5 1033.5 909.0 C1036.4 923.5 1037.9 934.5 1039.0 949.7 C1040.1 964.9 1040.1 991.6 1040.3 1000.0 L1040.5 1512" fill="none" stroke="#fff" stroke-width="13.80" stroke-linecap="butt" stroke-linejoin="round"/>
<ellipse cx="595" cy="886" rx="5.2" ry="8" transform="rotate(-20 595 886)" fill="#fff" stroke="#000" stroke-width="2.20"/>
<ellipse cx="595" cy="886" rx="2.4" ry="4" transform="rotate(-20 595 886)" fill="#fff" stroke="#000" stroke-width="1.46"/>
<path d="M1366.3 900.0 C1366.6 898.0 1367.0 891.6 1368.0 888.0 C1369.0 884.4 1368.9 881.9 1372.4 878.5 C1376.0 875.1 1382.1 869.3 1389.3 867.8 C1396.5 866.3 1406.0 866.0 1415.5 869.3 C1425.0 872.6 1434.5 877.0 1446.3 887.8 C1458.1 898.6 1475.0 914.8 1486.3 934.0 C1497.6 953.2 1508.1 983.5 1514.0 1003.2 C1519.9 1023.0 1520.1 1034.7 1521.7 1052.5 C1523.3 1070.3 1523.1 1085.4 1523.5 1110.0 C1523.9 1134.6 1523.9 1170.8 1524.0 1200.0 C1524.1 1229.2 1524.0 1270.8 1524.0 1285.0" fill="none" stroke="#000" stroke-width="17.20" stroke-linecap="butt" stroke-linejoin="round"/>
<path d="M1366.3 900.0 C1366.6 898.0 1367.0 891.6 1368.0 888.0 C1369.0 884.4 1368.9 881.9 1372.4 878.5 C1376.0 875.1 1382.1 869.3 1389.3 867.8 C1396.5 866.3 1406.0 866.0 1415.5 869.3 C1425.0 872.6 1434.5 877.0 1446.3 887.8 C1458.1 898.6 1475.0 914.8 1486.3 934.0 C1497.6 953.2 1508.1 983.5 1514.0 1003.2 C1519.9 1023.0 1520.1 1034.7 1521.7 1052.5 C1523.3 1070.3 1523.1 1085.4 1523.5 1110.0 C1523.9 1134.6 1523.9 1170.8 1524.0 1200.0 C1524.1 1229.2 1524.0 1270.8 1524.0 1285.0" fill="none" stroke="#fff" stroke-width="12.80" stroke-linecap="butt" stroke-linejoin="round"/>
<path d="M1359.5 898 Q1360 906 1367 906 Q1374 906 1373.5 898" fill="none" stroke="#000" stroke-width="2.20" />
<text transform="translate(483.1 874.3) scale(0.82 1)" font-size="32" text-anchor="middle" stroke="#000" stroke-width="0.9">17</text>
<text transform="translate(551.5 835.5) scale(0.82 1)" font-size="32" text-anchor="middle" stroke="#000" stroke-width="0.9">8</text>
<path d="M 482.0 879.8 L 482.0 911.2 M 551.5 844.7 L 551.5 887.2" fill="none" stroke="#000" stroke-width="2.20" />
<g transform="translate(534.9 912.0) rotate(-20.5)">
<path d="M0 -10.0 L45.47844882006847 -10.0 Q48.47844882006847 -10.0 48.47844882006847 -7.0 L48.47844882006847 7.0 Q48.47844882006847 10.0 45.47844882006847 10.0 L0 10.0 Z" fill="#fff" stroke="#000" stroke-width="1.8"/>
<circle cx="42.3" cy="4.2" r="1.05" fill="#000"/>
<circle cx="41.3" cy="4.5" r="1.05" fill="#000"/>
<circle cx="23.5" cy="-1.5" r="1.05" fill="#000"/>
<circle cx="12.8" cy="2.0" r="1.05" fill="#000"/>
<circle cx="11.3" cy="-6.5" r="1.05" fill="#000"/>
<circle cx="16.7" cy="-5.1" r="1.05" fill="#000"/>
<circle cx="21.6" cy="-6.7" r="1.05" fill="#000"/>
<circle cx="9.0" cy="-5.2" r="1.05" fill="#000"/>
<circle cx="12.8" cy="-2.0" r="1.05" fill="#000"/>
<circle cx="9.9" cy="5.6" r="1.05" fill="#000"/>
<circle cx="31.7" cy="-5.3" r="1.05" fill="#000"/>
<circle cx="18.3" cy="-2.3" r="1.05" fill="#000"/>
<circle cx="22.5" cy="-5.7" r="1.05" fill="#000"/>
<circle cx="40.4" cy="7.4" r="1.05" fill="#000"/>
<circle cx="26.2" cy="-0.2" r="1.05" fill="#000"/>
<circle cx="12.2" cy="-6.0" r="1.05" fill="#000"/>
<circle cx="21.7" cy="-3.5" r="1.05" fill="#000"/>
<circle cx="39.6" cy="-5.1" r="1.05" fill="#000"/>
<circle cx="9.9" cy="6.8" r="1.05" fill="#000"/>
<circle cx="28.5" cy="-5.3" r="1.05" fill="#000"/>
<circle cx="29.1" cy="-7.1" r="1.05" fill="#000"/>
<circle cx="28.5" cy="7.2" r="1.05" fill="#000"/>
<circle cx="40.9" cy="2.9" r="1.05" fill="#000"/>
<circle cx="18.7" cy="-2.0" r="1.05" fill="#000"/>
<ellipse cx="0" cy="0" rx="5.5" ry="10.0" fill="#fff" stroke="#000" stroke-width="2.20"/>
<ellipse cx="0" cy="0" rx="2.5" ry="4.5" fill="none" stroke="#000" stroke-width="1.9"/>
</g>
<path d="M 455.4 944.5 L 478.3 937.1" fill="none" stroke="#000" stroke-width="12.70" stroke-linecap="butt" stroke-linejoin="round"/>
<path d="M 455.4 944.5 L 478.3 937.1" fill="none" stroke="#fff" stroke-width="8.30" stroke-linecap="butt" stroke-linejoin="round"/>
<ellipse cx="454.7" cy="944.5" rx="2.6" ry="4.8" transform="rotate(-18 454.7 944.5)" fill="#fff" stroke="#000" stroke-width="1.71"/>
<path d="M 494.2 928.2 L 514.5 920.8" fill="none" stroke="#000" stroke-width="12.70" stroke-linecap="round" stroke-linejoin="round"/>
<path d="M 494.2 928.2 L 514.5 920.8" fill="none" stroke="#fff" stroke-width="8.30" stroke-linecap="round" stroke-linejoin="round"/>
<ellipse cx="487.9" cy="932.7" rx="6.3" ry="11.8" transform="rotate(-18 487.9 932.7)" fill="#fff" stroke="#000" stroke-width="2.20"/>
<ellipse cx="482.0" cy="934.9" rx="6.3" ry="11.8" transform="rotate(-18 482.0 934.9)" fill="#fff" stroke="#000" stroke-width="2.20"/>
<text transform="translate(1252.6 729.9) scale(0.82 1)" font-size="32" text-anchor="middle" stroke="#000" stroke-width="0.9">15</text>
<text transform="translate(1300.6 888.7) scale(0.82 1)" font-size="32" text-anchor="middle" stroke="#000" stroke-width="0.9">16</text>
<text transform="translate(1115.9 998.5) scale(0.82 1)" font-size="32" text-anchor="middle" stroke="#000" stroke-width="0.9">12</text>
<text transform="translate(1194.6 997.0) scale(0.82 1)" font-size="32" text-anchor="middle" stroke="#000" stroke-width="0.9">9</text>
<text transform="translate(1251.5 1081.6) scale(0.82 1)" font-size="32" text-anchor="middle" stroke="#000" stroke-width="0.9">6</text>
<path d="M 1252.6 742.8 L 1252.6 800.1 M 1320.2 878.8 L 1369.0 878.8 M 1117.0 922.0 L 1117.0 966.3 M 1208.3 981.1 L 1237.8 971.9 M 1263.7 1067.9 L 1291.4 1058.7" fill="none" stroke="#000" stroke-width="2.20" />
<circle cx="1370.8" cy="879.5" r="2.2" fill="#000"/>
<circle cx="1117.0" cy="920.1" r="2.2" fill="#000"/>
<g transform="translate(1269.2 977.4) rotate(-138.4)">
<path d="M0 -10.5 L41.41272340219639 -10.5 Q44.41272340219639 -10.5 44.41272340219639 -7.5 L44.41272340219639 7.5 Q44.41272340219639 10.5 41.41272340219639 10.5 L0 10.5 Z" fill="#fff" stroke="#000" stroke-width="1.8"/>
<circle cx="14.8" cy="4.4" r="1.05" fill="#000"/>
<circle cx="26.7" cy="4.5" r="1.05" fill="#000"/>
<circle cx="20.1" cy="-4.4" r="1.05" fill="#000"/>
<circle cx="35.8" cy="7.8" r="1.05" fill="#000"/>
<circle cx="37.1" cy="4.9" r="1.05" fill="#000"/>
<circle cx="36.0" cy="3.8" r="1.05" fill="#000"/>
<circle cx="16.7" cy="0.3" r="1.05" fill="#000"/>
<circle cx="20.9" cy="-7.5" r="1.05" fill="#000"/>
<circle cx="10.3" cy="-3.5" r="1.05" fill="#000"/>
<circle cx="17.8" cy="3.1" r="1.05" fill="#000"/>
<circle cx="40.5" cy="-0.8" r="1.05" fill="#000"/>
<circle cx="39.9" cy="7.8" r="1.05" fill="#000"/>
<circle cx="40.4" cy="-2.2" r="1.05" fill="#000"/>
<circle cx="16.5" cy="-4.4" r="1.05" fill="#000"/>
<circle cx="15.8" cy="-4.7" r="1.05" fill="#000"/>
<circle cx="29.7" cy="6.4" r="1.05" fill="#000"/>
<circle cx="36.7" cy="-0.3" r="1.05" fill="#000"/>
<circle cx="30.6" cy="4.8" r="1.05" fill="#000"/>
<circle cx="12.1" cy="2.6" r="1.05" fill="#000"/>
<circle cx="39.0" cy="4.5" r="1.05" fill="#000"/>
<circle cx="33.8" cy="-0.4" r="1.05" fill="#000"/>
<circle cx="15.2" cy="4.6" r="1.05" fill="#000"/>
<circle cx="20.2" cy="4.8" r="1.05" fill="#000"/>
<ellipse cx="0" cy="0" rx="5.8" ry="10.5" fill="#fff" stroke="#000" stroke-width="2.20"/>
<ellipse cx="0" cy="0" rx="2.6" ry="4.7" fill="none" stroke="#000" stroke-width="1.9"/>
</g>
<g transform="translate(1364.7 921.6) rotate(90.0)">
<path d="M0 -11.5 L46.299999999999955 -11.5 Q49.299999999999955 -11.5 49.299999999999955 -8.5 L49.299999999999955 8.5 Q49.299999999999955 11.5 46.299999999999955 11.5 L0 11.5 Z" fill="#fff" stroke="#000" stroke-width="1.8"/>
<circle cx="45.8" cy="-1.9" r="1.05" fill="#000"/>
<circle cx="24.8" cy="8.0" r="1.05" fill="#000"/>
<circle cx="36.7" cy="-5.9" r="1.05" fill="#000"/>
<circle cx="14.7" cy="-6.3" r="1.05" fill="#000"/>
<circle cx="43.3" cy="5.5" r="1.05" fill="#000"/>
<circle cx="15.4" cy="5.9" r="1.05" fill="#000"/>
<circle cx="46.1" cy="2.8" r="1.05" fill="#000"/>
<circle cx="22.9" cy="0.9" r="1.05" fill="#000"/>
<circle cx="14.9" cy="-8.7" r="1.05" fill="#000"/>
<circle cx="45.7" cy="2.7" r="1.05" fill="#000"/>
<circle cx="29.4" cy="7.8" r="1.05" fill="#000"/>
<circle cx="26.0" cy="6.7" r="1.05" fill="#000"/>
<circle cx="40.4" cy="-5.2" r="1.05" fill="#000"/>
<circle cx="19.3" cy="-3.7" r="1.05" fill="#000"/>
<circle cx="18.9" cy="1.6" r="1.05" fill="#000"/>
<circle cx="19.6" cy="-1.5" r="1.05" fill="#000"/>
<circle cx="14.9" cy="7.4" r="1.05" fill="#000"/>
<circle cx="23.1" cy="-0.8" r="1.05" fill="#000"/>
<circle cx="31.5" cy="7.3" r="1.05" fill="#000"/>
<circle cx="25.5" cy="7.5" r="1.05" fill="#000"/>
<circle cx="28.5" cy="0.6" r="1.05" fill="#000"/>
<circle cx="29.3" cy="-8.7" r="1.05" fill="#000"/>
<circle cx="26.2" cy="-5.7" r="1.05" fill="#000"/>
<circle cx="10.2" cy="5.4" r="1.05" fill="#000"/>
<circle cx="16.4" cy="-0.5" r="1.05" fill="#000"/>
<circle cx="36.7" cy="1.0" r="1.05" fill="#000"/>
<circle cx="22.0" cy="0.3" r="1.05" fill="#000"/>
<circle cx="30.5" cy="5.1" r="1.05" fill="#000"/>
<ellipse cx="0" cy="0" rx="6.3" ry="11.5" fill="#fff" stroke="#000" stroke-width="2.20"/>
<ellipse cx="0" cy="0" rx="2.9" ry="5.2" fill="none" stroke="#000" stroke-width="1.9"/>
</g>
<text transform="translate(1433.4 955.5) scale(0.82 1)" font-size="32" text-anchor="middle" stroke="#000" stroke-width="0.9">8</text>
<path d="M 1386.3 944.7 L 1420.1 944.7" fill="none" stroke="#000" stroke-width="2.20" />
<path d="M 865.2 1156.6 L 1020.5 1096.1" fill="none" stroke="#000" stroke-width="17.70" stroke-linecap="butt" stroke-linejoin="round"/>
<path d="M 865.2 1156.6 L 1020.5 1096.1" fill="none" stroke="#fff" stroke-width="13.30" stroke-linecap="butt" stroke-linejoin="round"/>
<ellipse cx="865.2" cy="1156.6" rx="4.3" ry="8.0" transform="rotate(-20 865.2 1156.6)" fill="#fff" stroke="#000" stroke-width="2.20"/>
<ellipse cx="865.2" cy="1156.6" rx="2.0" ry="4.0" transform="rotate(-20 865.2 1156.6)" fill="#fff" stroke="#000" stroke-width="1.46"/>
<text transform="translate(929.1 1062.8) scale(0.82 1)" font-size="32" text-anchor="middle" stroke="#000" stroke-width="0.9">11</text>
<text transform="translate(821.0 1106.1) scale(0.82 1)" font-size="32" text-anchor="middle" stroke="#000" stroke-width="0.9">8</text>
<text transform="translate(693.0 1155.9) scale(0.82 1)" font-size="32" text-anchor="middle" stroke="#000" stroke-width="0.9">1</text>
<text transform="translate(587.6 1199.2) scale(0.82 1)" font-size="32" text-anchor="middle" stroke="#000" stroke-width="0.9">5</text>
<path d="M 931.7 1076.1 L 931.7 1114.4 M 821.0 1116.0 L 821.0 1154.3 M 694.7 1165.9 L 694.7 1197.5 M 587.6 1207.5 L 587.6 1235.7" fill="none" stroke="#000" stroke-width="2.20" />
<g transform="translate(803.4 1180.9) rotate(-23.9)">
<path d="M0 -10.0 L46.42711806286104 -10.0 Q49.42711806286104 -10.0 49.42711806286104 -7.0 L49.42711806286104 7.0 Q49.42711806286104 10.0 46.42711806286104 10.0 L0 10.0 Z" fill="#fff" stroke="#000" stroke-width="1.8"/>
<circle cx="13.0" cy="0.9" r="1.05" fill="#000"/>
<circle cx="18.4" cy="-3.3" r="1.05" fill="#000"/>
<circle cx="38.3" cy="0.1" r="1.05" fill="#000"/>
<circle cx="30.3" cy="3.9" r="1.05" fill="#000"/>
<circle cx="43.6" cy="-0.9" r="1.05" fill="#000"/>
<circle cx="32.2" cy="0.1" r="1.05" fill="#000"/>
<circle cx="28.4" cy="2.9" r="1.05" fill="#000"/>
<circle cx="26.2" cy="0.5" r="1.05" fill="#000"/>
<circle cx="27.1" cy="6.6" r="1.05" fill="#000"/>
<circle cx="35.5" cy="5.6" r="1.05" fill="#000"/>
<circle cx="44.7" cy="-3.6" r="1.05" fill="#000"/>
<circle cx="30.2" cy="6.6" r="1.05" fill="#000"/>
<circle cx="40.9" cy="-5.4" r="1.05" fill="#000"/>
<circle cx="13.6" cy="-0.9" r="1.05" fill="#000"/>
<circle cx="11.8" cy="-3.9" r="1.05" fill="#000"/>
<circle cx="11.8" cy="2.5" r="1.05" fill="#000"/>
<circle cx="38.7" cy="6.0" r="1.05" fill="#000"/>
<circle cx="14.9" cy="3.2" r="1.05" fill="#000"/>
<circle cx="34.0" cy="-5.4" r="1.05" fill="#000"/>
<circle cx="42.5" cy="7.0" r="1.05" fill="#000"/>
<circle cx="17.3" cy="6.8" r="1.05" fill="#000"/>
<circle cx="24.1" cy="-0.2" r="1.05" fill="#000"/>
<circle cx="46.5" cy="5.0" r="1.05" fill="#000"/>
<circle cx="15.1" cy="-1.0" r="1.05" fill="#000"/>
<ellipse cx="0" cy="0" rx="5.5" ry="10.0" fill="#fff" stroke="#000" stroke-width="2.20"/>
<ellipse cx="0" cy="0" rx="2.5" ry="4.5" fill="none" stroke="#000" stroke-width="1.9"/>
</g>
<text transform="translate(444.0 1254.0) scale(0.82 1)" font-size="32" text-anchor="middle" stroke="#000" stroke-width="0.9">5</text>
<text transform="translate(515.3 1226.3) scale(0.82 1)" font-size="32" text-anchor="middle" stroke="#000" stroke-width="0.9">4</text>
<text transform="translate(588.1 1198.5) scale(0.82 1)" font-size="32" text-anchor="middle" stroke="#000" stroke-width="0.9">5</text>
<text transform="translate(820.8 1106.2) scale(0.82 1)" font-size="32" text-anchor="middle" stroke="#000" stroke-width="0.9">8</text>
<text transform="translate(835.6 1265.0) scale(0.82 1)" font-size="32" text-anchor="middle" stroke="#000" stroke-width="0.9">3</text>
<text transform="translate(833.7 1314.9) scale(0.82 1)" font-size="32" text-anchor="middle" stroke="#000" stroke-width="0.9">2</text>
<text transform="translate(498.3 1361.1) scale(0.82 1)" font-size="32" text-anchor="middle" stroke="#000" stroke-width="0.9">3</text>
<text transform="translate(773.9 1388.8) scale(0.82 1)" font-size="32" text-anchor="middle" stroke="#000" stroke-width="0.9">11</text>
<text transform="translate(588.1 1429.5) scale(0.82 1)" font-size="32" text-anchor="middle" stroke="#000" stroke-width="0.9">8</text>
<text transform="translate(248.2 1355.6) scale(0.82 1)" font-size="32" text-anchor="middle" stroke="#000" stroke-width="0.9">8</text>
<path d="M 442.9 1263.2 L 442.9 1290.9 M 516.0 1239.2 L 516.0 1274.3 M 588.1 1207.8 L 588.1 1233.6 M 820.8 1115.4 L 820.8 1154.2 M 778.3 1258.4 L 826.4 1258.4 M 761.7 1302.0 L 820.8 1302.0 M 498.3 1369.6 L 498.3 1377.0 M 774.6 1394.4 L 774.6 1429.5 M 588.1 1437.6 L 588.1 1446.1 M 266.6 1345.2 L 299.9 1345.2" fill="none" stroke="#000" stroke-width="2.20" />
<circle cx="761.0" cy="1302.0" r="2.2" fill="#000"/>
<g transform="translate(317.2 1366.7) rotate(-90.0)">
<path d="M0 -11.0 L43.200000000000045 -11.0 Q46.200000000000045 -11.0 46.200000000000045 -8.0 L46.200000000000045 8.0 Q46.200000000000045 11.0 43.200000000000045 11.0 L0 11.0 Z" fill="#fff" stroke="#000" stroke-width="1.8"/>
<circle cx="27.2" cy="-2.7" r="1.05" fill="#000"/>
<circle cx="16.4" cy="-3.1" r="1.05" fill="#000"/>
<circle cx="34.3" cy="-8.2" r="1.05" fill="#000"/>
<circle cx="28.5" cy="-1.0" r="1.05" fill="#000"/>
<circle cx="10.3" cy="-2.9" r="1.05" fill="#000"/>
<circle cx="30.9" cy="0.2" r="1.05" fill="#000"/>
<circle cx="11.9" cy="8.2" r="1.05" fill="#000"/>
<circle cx="36.5" cy="8.0" r="1.05" fill="#000"/>
<circle cx="13.3" cy="-4.0" r="1.05" fill="#000"/>
<circle cx="11.0" cy="4.7" r="1.05" fill="#000"/>
<circle cx="18.9" cy="-6.3" r="1.05" fill="#000"/>
<circle cx="24.1" cy="7.0" r="1.05" fill="#000"/>
<circle cx="37.5" cy="-4.1" r="1.05" fill="#000"/>
<circle cx="14.8" cy="7.1" r="1.05" fill="#000"/>
<circle cx="29.1" cy="3.4" r="1.05" fill="#000"/>
<circle cx="12.7" cy="-7.5" r="1.05" fill="#000"/>
<circle cx="33.1" cy="-1.3" r="1.05" fill="#000"/>
<circle cx="12.2" cy="7.5" r="1.05" fill="#000"/>
<circle cx="31.3" cy="5.1" r="1.05" fill="#000"/>
<circle cx="12.5" cy="6.1" r="1.05" fill="#000"/>
<circle cx="12.0" cy="6.2" r="1.05" fill="#000"/>
<circle cx="25.1" cy="-2.7" r="1.05" fill="#000"/>
<circle cx="28.5" cy="7.3" r="1.05" fill="#000"/>
<circle cx="18.8" cy="-6.3" r="1.05" fill="#000"/>
<circle cx="27.6" cy="-4.4" r="1.05" fill="#000"/>
<ellipse cx="0" cy="0" rx="6.1" ry="11.0" fill="#fff" stroke="#000" stroke-width="2.20"/>
<ellipse cx="0" cy="0" rx="2.8" ry="5.0" fill="none" stroke="#000" stroke-width="1.9"/>
</g>
<g transform="translate(803.1 1180.4) rotate(-21.7)">
<path d="M0 -10.0 L46.729267036625394 -10.0 Q49.729267036625394 -10.0 49.729267036625394 -7.0 L49.729267036625394 7.0 Q49.729267036625394 10.0 46.729267036625394 10.0 L0 10.0 Z" fill="#fff" stroke="#000" stroke-width="1.8"/>
<circle cx="13.2" cy="-5.1" r="1.05" fill="#000"/>
<circle cx="10.9" cy="-4.5" r="1.05" fill="#000"/>
<circle cx="20.9" cy="-2.9" r="1.05" fill="#000"/>
<circle cx="38.0" cy="-3.2" r="1.05" fill="#000"/>
<circle cx="28.1" cy="-4.8" r="1.05" fill="#000"/>
<circle cx="22.3" cy="-7.2" r="1.05" fill="#000"/>
<circle cx="18.6" cy="-7.3" r="1.05" fill="#000"/>
<circle cx="37.0" cy="0.8" r="1.05" fill="#000"/>
<circle cx="16.2" cy="-0.4" r="1.05" fill="#000"/>
<circle cx="44.7" cy="-5.9" r="1.05" fill="#000"/>
<circle cx="40.3" cy="-1.0" r="1.05" fill="#000"/>
<circle cx="27.9" cy="5.0" r="1.05" fill="#000"/>
<circle cx="24.0" cy="0.1" r="1.05" fill="#000"/>
<circle cx="35.3" cy="7.2" r="1.05" fill="#000"/>
<circle cx="22.1" cy="5.0" r="1.05" fill="#000"/>
<circle cx="36.0" cy="2.0" r="1.05" fill="#000"/>
<circle cx="24.5" cy="-2.3" r="1.05" fill="#000"/>
<circle cx="11.1" cy="-5.6" r="1.05" fill="#000"/>
<circle cx="11.7" cy="3.6" r="1.05" fill="#000"/>
<circle cx="18.8" cy="-5.1" r="1.05" fill="#000"/>
<circle cx="12.2" cy="5.1" r="1.05" fill="#000"/>
<circle cx="42.3" cy="2.6" r="1.05" fill="#000"/>
<circle cx="19.8" cy="-3.9" r="1.05" fill="#000"/>
<circle cx="20.2" cy="-0.6" r="1.05" fill="#000"/>
<ellipse cx="0" cy="0" rx="5.5" ry="10.0" fill="#fff" stroke="#000" stroke-width="2.20"/>
<ellipse cx="0" cy="0" rx="2.5" ry="4.5" fill="none" stroke="#000" stroke-width="1.9"/>
</g>
<g transform="translate(574.4 1466.4) rotate(-21.4)">
<path d="M0 -10.0 L45.44894219691493 -10.0 Q48.44894219691493 -10.0 48.44894219691493 -7.0 L48.44894219691493 7.0 Q48.44894219691493 10.0 45.44894219691493 10.0 L0 10.0 Z" fill="#fff" stroke="#000" stroke-width="1.8"/>
<circle cx="14.8" cy="-0.8" r="1.05" fill="#000"/>
<circle cx="18.7" cy="6.9" r="1.05" fill="#000"/>
<circle cx="44.9" cy="0.7" r="1.05" fill="#000"/>
<circle cx="18.0" cy="7.0" r="1.05" fill="#000"/>
<circle cx="20.4" cy="-2.2" r="1.05" fill="#000"/>
<circle cx="9.0" cy="-1.8" r="1.05" fill="#000"/>
<circle cx="26.5" cy="0.0" r="1.05" fill="#000"/>
<circle cx="16.4" cy="0.1" r="1.05" fill="#000"/>
<circle cx="9.2" cy="-3.5" r="1.05" fill="#000"/>
<circle cx="12.3" cy="-1.5" r="1.05" fill="#000"/>
<circle cx="10.5" cy="-7.2" r="1.05" fill="#000"/>
<circle cx="20.2" cy="-4.0" r="1.05" fill="#000"/>
<circle cx="30.6" cy="0.4" r="1.05" fill="#000"/>
<circle cx="36.7" cy="2.4" r="1.05" fill="#000"/>
<circle cx="35.5" cy="5.7" r="1.05" fill="#000"/>
<circle cx="23.4" cy="-2.6" r="1.05" fill="#000"/>
<circle cx="45.4" cy="-5.3" r="1.05" fill="#000"/>
<circle cx="35.8" cy="2.1" r="1.05" fill="#000"/>
<circle cx="10.6" cy="5.0" r="1.05" fill="#000"/>
<circle cx="42.0" cy="1.9" r="1.05" fill="#000"/>
<circle cx="36.1" cy="4.7" r="1.05" fill="#000"/>
<circle cx="14.1" cy="0.4" r="1.05" fill="#000"/>
<circle cx="27.6" cy="5.0" r="1.05" fill="#000"/>
<circle cx="38.7" cy="4.9" r="1.05" fill="#000"/>
<ellipse cx="0" cy="0" rx="5.5" ry="10.0" fill="#fff" stroke="#000" stroke-width="2.20"/>
<ellipse cx="0" cy="0" rx="2.5" ry="4.5" fill="none" stroke="#000" stroke-width="1.9"/>
</g>
<path d="M 424.4 1340.8 L 415.1 1345.2 L 414.4 1411.0" fill="none" stroke="#000" stroke-width="2.07" stroke-dasharray="16 5 3 5"/>
<g transform="translate(483.7 1313.5) rotate(-22.9)">
<path d="M0 -13.5 L73.18530041943782 -13.5 Q76.18530041943782 -13.5 76.18530041943782 -10.5 L76.18530041943782 10.5 Q76.18530041943782 13.5 73.18530041943782 13.5 L0 13.5 Z" fill="#fff" stroke="#000" stroke-width="1.8"/>
<circle cx="47.8" cy="8.6" r="1.05" fill="#000"/>
<circle cx="54.0" cy="4.3" r="1.05" fill="#000"/>
<circle cx="25.8" cy="-10.3" r="1.05" fill="#000"/>
<circle cx="19.7" cy="-3.1" r="1.05" fill="#000"/>
<circle cx="18.0" cy="7.4" r="1.05" fill="#000"/>
<circle cx="46.2" cy="2.8" r="1.05" fill="#000"/>
<circle cx="50.4" cy="4.0" r="1.05" fill="#000"/>
<circle cx="41.9" cy="-10.9" r="1.05" fill="#000"/>
<circle cx="61.1" cy="5.5" r="1.05" fill="#000"/>
<circle cx="42.8" cy="0.8" r="1.05" fill="#000"/>
<circle cx="52.5" cy="-9.5" r="1.05" fill="#000"/>
<circle cx="57.3" cy="-5.5" r="1.05" fill="#000"/>
<circle cx="16.1" cy="-5.2" r="1.05" fill="#000"/>
<circle cx="56.8" cy="-6.5" r="1.05" fill="#000"/>
<circle cx="57.5" cy="10.5" r="1.05" fill="#000"/>
<circle cx="42.2" cy="-2.6" r="1.05" fill="#000"/>
<circle cx="41.3" cy="4.0" r="1.05" fill="#000"/>
<circle cx="59.2" cy="2.6" r="1.05" fill="#000"/>
<circle cx="51.5" cy="-9.3" r="1.05" fill="#000"/>
<circle cx="20.6" cy="-5.4" r="1.05" fill="#000"/>
<circle cx="57.7" cy="-4.3" r="1.05" fill="#000"/>
<circle cx="46.8" cy="-10.7" r="1.05" fill="#000"/>
<circle cx="15.2" cy="-5.1" r="1.05" fill="#000"/>
<circle cx="53.3" cy="4.2" r="1.05" fill="#000"/>
<circle cx="53.5" cy="-4.6" r="1.05" fill="#000"/>
<circle cx="43.6" cy="-0.8" r="1.05" fill="#000"/>
<circle cx="40.5" cy="-8.4" r="1.05" fill="#000"/>
<circle cx="67.1" cy="-6.6" r="1.05" fill="#000"/>
<circle cx="72.3" cy="9.6" r="1.05" fill="#000"/>
<circle cx="12.5" cy="-0.9" r="1.05" fill="#000"/>
<circle cx="62.5" cy="10.3" r="1.05" fill="#000"/>
<circle cx="39.4" cy="-5.1" r="1.05" fill="#000"/>
<circle cx="24.5" cy="9.8" r="1.05" fill="#000"/>
<circle cx="24.6" cy="1.8" r="1.05" fill="#000"/>
<circle cx="20.3" cy="0.5" r="1.05" fill="#000"/>
<circle cx="70.7" cy="-8.1" r="1.05" fill="#000"/>
<circle cx="62.5" cy="0.2" r="1.05" fill="#000"/>
<circle cx="66.6" cy="4.5" r="1.05" fill="#000"/>
<circle cx="25.9" cy="8.7" r="1.05" fill="#000"/>
<circle cx="41.7" cy="-10.5" r="1.05" fill="#000"/>
<circle cx="11.7" cy="-0.2" r="1.05" fill="#000"/>
<circle cx="39.5" cy="-4.4" r="1.05" fill="#000"/>
<circle cx="20.2" cy="-3.4" r="1.05" fill="#000"/>
<circle cx="31.1" cy="7.5" r="1.05" fill="#000"/>
<circle cx="11.6" cy="5.5" r="1.05" fill="#000"/>
<circle cx="63.7" cy="-8.4" r="1.05" fill="#000"/>
<circle cx="69.1" cy="4.7" r="1.05" fill="#000"/>
<circle cx="67.6" cy="-4.6" r="1.05" fill="#000"/>
<circle cx="34.6" cy="-2.4" r="1.05" fill="#000"/>
<circle cx="73.6" cy="2.0" r="1.05" fill="#000"/>
<circle cx="33.9" cy="-1.6" r="1.05" fill="#000"/>
<ellipse cx="0" cy="0" rx="7.4" ry="13.5" fill="#fff" stroke="#000" stroke-width="2.20"/>
</g>
<path d="M 479.3 1313.0 Q 482.5 1306.8 486.7 1310.5 Q 488.7 1317.9 485.0 1324.1" fill="none" stroke="#000" stroke-width="1.71" />
<path d="M535.5 1398.7 C554.0 1389.7 611.4 1361.6 646.3 1344.5 C681.2 1327.4 726.2 1305.6 744.8 1296.3 C763.3 1287.0 756.0 1291.6 757.6 1288.4 C759.2 1285.2 757.0 1278.5 754.7 1277.3 C752.4 1276.1 745.5 1280.8 743.6 1281.5" fill="none" stroke="#000" stroke-width="29.20" stroke-linecap="round" stroke-linejoin="round"/>
<path d="M535.5 1398.7 C554.0 1389.7 611.4 1361.6 646.3 1344.5 C681.2 1327.4 726.2 1305.6 744.8 1296.3 C763.3 1287.0 756.0 1291.6 757.6 1288.4 C759.2 1285.2 757.0 1278.5 754.7 1277.3 C752.4 1276.1 745.5 1280.8 743.6 1281.5" fill="none" stroke="#fff" stroke-width="24.80" stroke-linecap="round" stroke-linejoin="round"/>
<circle cx="598.2" cy="1357.0" r="1.05" fill="#000"/>
<circle cx="563.5" cy="1393.2" r="1.05" fill="#000"/>
<circle cx="609.3" cy="1373.2" r="1.05" fill="#000"/>
<circle cx="594.0" cy="1364.3" r="1.05" fill="#000"/>
<circle cx="657.1" cy="1331.6" r="1.05" fill="#000"/>
<circle cx="630.9" cy="1363.2" r="1.05" fill="#000"/>
<circle cx="754.3" cy="1298.5" r="1.05" fill="#000"/>
<circle cx="693.3" cy="1331.6" r="1.05" fill="#000"/>
<circle cx="756.8" cy="1281.1" r="1.05" fill="#000"/>
<circle cx="706.6" cy="1304.0" r="1.05" fill="#000"/>
<circle cx="713.6" cy="1310.4" r="1.05" fill="#000"/>
<circle cx="720.4" cy="1311.8" r="1.05" fill="#000"/>
<circle cx="600.9" cy="1355.7" r="1.05" fill="#000"/>
<circle cx="748.8" cy="1287.1" r="1.05" fill="#000"/>
<circle cx="649.1" cy="1339.3" r="1.05" fill="#000"/>
<circle cx="610.4" cy="1367.9" r="1.05" fill="#000"/>
<circle cx="751.5" cy="1284.2" r="1.05" fill="#000"/>
<circle cx="693.5" cy="1316.5" r="1.05" fill="#000"/>
<circle cx="670.3" cy="1330.1" r="1.05" fill="#000"/>
<circle cx="573.0" cy="1372.1" r="1.05" fill="#000"/>
<circle cx="590.1" cy="1381.9" r="1.05" fill="#000"/>
<circle cx="654.0" cy="1333.9" r="1.05" fill="#000"/>
<circle cx="761.5" cy="1298.8" r="1.05" fill="#000"/>
<circle cx="641.7" cy="1337.9" r="1.05" fill="#000"/>
<circle cx="578.4" cy="1367.7" r="1.05" fill="#000"/>
<circle cx="614.9" cy="1349.8" r="1.05" fill="#000"/>
<circle cx="591.5" cy="1365.4" r="1.05" fill="#000"/>
<circle cx="678.1" cy="1338.4" r="1.05" fill="#000"/>
<circle cx="717.4" cy="1307.6" r="1.05" fill="#000"/>
<circle cx="636.6" cy="1349.8" r="1.05" fill="#000"/>
<circle cx="625.8" cy="1350.6" r="1.05" fill="#000"/>
<circle cx="548.5" cy="1386.9" r="1.05" fill="#000"/>
<circle cx="754.7" cy="1286.1" r="1.05" fill="#000"/>
<circle cx="659.5" cy="1341.2" r="1.05" fill="#000"/>
<circle cx="742.5" cy="1290.4" r="1.05" fill="#000"/>
<circle cx="599.1" cy="1361.4" r="1.05" fill="#000"/>
<circle cx="632.4" cy="1350.0" r="1.05" fill="#000"/>
<circle cx="762.3" cy="1276.0" r="1.05" fill="#000"/>
<circle cx="742.6" cy="1285.3" r="1.05" fill="#000"/>
<circle cx="545.4" cy="1399.0" r="1.05" fill="#000"/>
<circle cx="753.1" cy="1290.5" r="1.05" fill="#000"/>
<circle cx="673.8" cy="1318.8" r="1.05" fill="#000"/>
<circle cx="635.1" cy="1360.4" r="1.05" fill="#000"/>
<circle cx="740.2" cy="1307.3" r="1.05" fill="#000"/>
<circle cx="752.6" cy="1284.0" r="1.05" fill="#000"/>
<circle cx="558.7" cy="1378.9" r="1.05" fill="#000"/>
<circle cx="664.6" cy="1340.0" r="1.05" fill="#000"/>
<circle cx="760.4" cy="1279.9" r="1.05" fill="#000"/>
<circle cx="695.9" cy="1326.7" r="1.05" fill="#000"/>
<circle cx="647.5" cy="1345.2" r="1.05" fill="#000"/>
<circle cx="547.9" cy="1399.6" r="1.05" fill="#000"/>
<circle cx="596.3" cy="1379.3" r="1.05" fill="#000"/>
<circle cx="691.0" cy="1317.8" r="1.05" fill="#000"/>
<circle cx="564.3" cy="1378.5" r="1.05" fill="#000"/>
<circle cx="692.5" cy="1326.7" r="1.05" fill="#000"/>
<circle cx="558.7" cy="1376.8" r="1.05" fill="#000"/>
<circle cx="664.2" cy="1337.8" r="1.05" fill="#000"/>
<circle cx="627.4" cy="1347.0" r="1.05" fill="#000"/>
<circle cx="677.3" cy="1317.3" r="1.05" fill="#000"/>
<circle cx="608.6" cy="1362.0" r="1.05" fill="#000"/>
<circle cx="752.9" cy="1274.6" r="1.05" fill="#000"/>
<circle cx="750.3" cy="1292.2" r="1.05" fill="#000"/>
<circle cx="590.3" cy="1365.7" r="1.05" fill="#000"/>
<circle cx="752.0" cy="1273.5" r="1.05" fill="#000"/>
<circle cx="605.8" cy="1352.6" r="1.05" fill="#000"/>
<circle cx="658.7" cy="1342.7" r="1.05" fill="#000"/>
<circle cx="635.5" cy="1343.8" r="1.05" fill="#000"/>
<circle cx="702.3" cy="1327.5" r="1.05" fill="#000"/>
<circle cx="586.3" cy="1362.4" r="1.05" fill="#000"/>
<circle cx="617.1" cy="1356.8" r="1.05" fill="#000"/>
<circle cx="699.0" cy="1311.3" r="1.05" fill="#000"/>
<circle cx="732.1" cy="1308.4" r="1.05" fill="#000"/>
<circle cx="655.7" cy="1332.7" r="1.05" fill="#000"/>
<circle cx="752.7" cy="1282.5" r="1.05" fill="#000"/>
<circle cx="732.8" cy="1295.6" r="1.05" fill="#000"/>
<circle cx="592.0" cy="1377.4" r="1.05" fill="#000"/>
<circle cx="611.8" cy="1372.5" r="1.05" fill="#000"/>
<circle cx="653.3" cy="1333.4" r="1.05" fill="#000"/>
<circle cx="589.1" cy="1370.4" r="1.05" fill="#000"/>
<circle cx="702.0" cy="1328.2" r="1.05" fill="#000"/>
<circle cx="570.2" cy="1379.1" r="1.05" fill="#000"/>
<circle cx="592.0" cy="1382.7" r="1.05" fill="#000"/>
<circle cx="565.8" cy="1372.9" r="1.05" fill="#000"/>
<circle cx="549.1" cy="1389.4" r="1.05" fill="#000"/>
<circle cx="758.4" cy="1297.8" r="1.05" fill="#000"/>
<circle cx="718.9" cy="1321.1" r="1.05" fill="#000"/>
<circle cx="752.8" cy="1284.7" r="1.05" fill="#000"/>
<circle cx="584.9" cy="1385.2" r="1.05" fill="#000"/>
<circle cx="712.9" cy="1300.4" r="1.05" fill="#000"/>
<circle cx="696.3" cy="1317.1" r="1.05" fill="#000"/>
<circle cx="625.0" cy="1350.8" r="1.05" fill="#000"/>
<circle cx="572.0" cy="1368.7" r="1.05" fill="#000"/>
<circle cx="602.3" cy="1362.4" r="1.05" fill="#000"/>
<circle cx="746.7" cy="1279.6" r="1.05" fill="#000"/>
<circle cx="754.9" cy="1284.1" r="1.05" fill="#000"/>
<circle cx="625.5" cy="1362.5" r="1.05" fill="#000"/>
<circle cx="735.2" cy="1299.3" r="1.05" fill="#000"/>
<circle cx="547.3" cy="1392.3" r="1.05" fill="#000"/>
<circle cx="630.4" cy="1362.5" r="1.05" fill="#000"/>
<circle cx="581.2" cy="1373.0" r="1.05" fill="#000"/>
<circle cx="748.2" cy="1282.0" r="1.05" fill="#000"/>
<circle cx="638.7" cy="1355.9" r="1.05" fill="#000"/>
<circle cx="718.0" cy="1298.2" r="1.05" fill="#000"/>
<circle cx="539.8" cy="1385.9" r="1.05" fill="#000"/>
<circle cx="752.0" cy="1288.2" r="1.05" fill="#000"/>
<circle cx="721.5" cy="1317.5" r="1.05" fill="#000"/>
<circle cx="616.0" cy="1353.8" r="1.05" fill="#000"/>
<circle cx="753.4" cy="1275.0" r="1.05" fill="#000"/>
<circle cx="601.5" cy="1371.7" r="1.05" fill="#000"/>
<circle cx="610.5" cy="1356.5" r="1.05" fill="#000"/>
<circle cx="538.9" cy="1403.3" r="1.05" fill="#000"/>
<circle cx="760.3" cy="1287.0" r="1.05" fill="#000"/>
<circle cx="745.5" cy="1283.4" r="1.05" fill="#000"/>
<circle cx="592.3" cy="1370.3" r="1.05" fill="#000"/>
<circle cx="751.0" cy="1268.0" r="1.05" fill="#000"/>
<circle cx="627.3" cy="1347.7" r="1.05" fill="#000"/>
<circle cx="640.2" cy="1347.3" r="1.05" fill="#000"/>
<circle cx="749.9" cy="1286.5" r="1.05" fill="#000"/>
<circle cx="733.5" cy="1307.7" r="1.05" fill="#000"/>
<circle cx="738.7" cy="1306.0" r="1.05" fill="#000"/>
<circle cx="681.9" cy="1322.9" r="1.05" fill="#000"/>
<circle cx="612.1" cy="1357.9" r="1.05" fill="#000"/>
<ellipse cx="535.0" cy="1398.7" rx="6.9" ry="13.5" transform="rotate(-22 535.0 1398.7)" fill="#fff" stroke="#000" stroke-width="2.20"/>
<path d="M 530.5 1396.7 Q 534.2 1390.6 538.4 1394.8 Q 540.4 1401.7 536.7 1407.8" fill="none" stroke="#000" stroke-width="1.71" />
<g transform="translate(443.8 1331.5) rotate(-15)">
<ellipse cx="0" cy="0" rx="19.3" ry="21" fill="#fff" stroke="#000" stroke-width="2.2"/>
<path d="M-5.2 -17.2 Q-16.8 -2.1 -3.1 18.1 M1.1 -16.8 Q-9.5 -1.1 4.2 16.4" fill="none" stroke="#000" stroke-width="1.9"/>
<path d="M-3.1 -19.9 Q-12.6 -21.0 -10.5 -28.4 Q-8.4 -32.6 2.1 -31.5 L10.5 -30.4 L11.6 -18.9 Z" fill="#fff" stroke="#000" stroke-width="2.2"/>
<circle cx="13.0" cy="-23.5" r="6.3" fill="#fff" stroke="#000" stroke-width="2.2"/>
<path d="M10.5 -19.9 L15.5 -27.3" stroke="#000" stroke-width="1.3"/>
</g>
<g transform="translate(590.9 1271.1) rotate(-15)">
<ellipse cx="0" cy="0" rx="18.9" ry="20.5" fill="#fff" stroke="#000" stroke-width="2.2"/>
<path d="M-5.1 -16.8 Q-16.4 -2.1 -3.1 17.6 M1.0 -16.4 Q-9.2 -1.0 4.1 16.0" fill="none" stroke="#000" stroke-width="1.9"/>
<path d="M-3.1 -19.5 Q-12.3 -20.5 -10.2 -27.7 Q-8.2 -31.8 2.1 -30.8 L10.2 -29.7 L11.3 -18.4 Z" fill="#fff" stroke="#000" stroke-width="2.2"/>
<circle cx="12.7" cy="-23.0" r="6.1" fill="#fff" stroke="#000" stroke-width="2.2"/>
<path d="M10.2 -19.5 L15.2 -26.7" stroke="#000" stroke-width="1.3"/>
</g>
<g transform="translate(498.5 1414.0) rotate(-15)">
<ellipse cx="0" cy="0" rx="19.3" ry="21" fill="#fff" stroke="#000" stroke-width="2.2"/>
<path d="M-5.2 -17.2 Q-16.8 -2.1 -3.1 18.1 M1.1 -16.8 Q-9.5 -1.1 4.2 16.4" fill="none" stroke="#000" stroke-width="1.9"/>
<path d="M-3.1 -19.9 Q-12.6 -21.0 -10.5 -28.4 Q-8.4 -32.6 2.1 -31.5 L10.5 -30.4 L11.6 -18.9 Z" fill="#fff" stroke="#000" stroke-width="2.2"/>
<circle cx="13.0" cy="-23.5" r="6.3" fill="#fff" stroke="#000" stroke-width="2.2"/>
<path d="M10.5 -19.9 L15.5 -27.3" stroke="#000" stroke-width="1.3"/>
</g>
<path d="M 739.9 1253.9 Q 720.2 1263.7 721.4 1283.4 Q 723.9 1293.3 732.5 1294.5 M 743.6 1261.3 Q 728.8 1268.7 731.3 1285.9 M 759.6 1250.2 Q 769.5 1253.9 770.7 1263.7 Q 769.5 1269.9 764.5 1271.1" fill="none" stroke="#000" stroke-width="2.20" />
<ellipse cx="752.7" cy="1253.9" rx="5.4" ry="5.4" transform="rotate(0 752.7 1253.9)" fill="#fff" stroke="#000" stroke-width="2.20"/>
<path d="M 749.3 1256.8 L 756.4 1250.9" fill="none" stroke="#000" stroke-width="1.59" />
<path d="M 625.4 1256.8 L 656.2 1244.5" fill="none" stroke="#000" stroke-width="14.20" stroke-linecap="butt" stroke-linejoin="round"/>
<path d="M 625.4 1256.8 L 656.2 1244.5" fill="none" stroke="#fff" stroke-width="9.80" stroke-linecap="butt" stroke-linejoin="round"/>
<path d="M 620.0 1253.9 L 625.4 1250.2 L 632.8 1251.4 L 634.0 1260.0 L 629.1 1264.2 L 621.7 1263.3 Z" fill="#fff" stroke="#000" stroke-width="2.20" />
<ellipse cx="623.6" cy="1258.3" rx="2.5" ry="3.5" transform="rotate(-20 623.6 1258.3)" fill="#fff" stroke="#000" stroke-width="1.46"/>
<path d="M656.2 1207.1 C650.1 1210.6 640.4 1215.3 636.5 1221.9 C632.6 1228.5 631.6 1239.1 632.8 1246.5 C634.0 1253.9 639.1 1261.9 643.8 1266.2 C648.5 1270.5 655.4 1272.8 661.1 1272.4 C666.9 1272.0 671.3 1268.8 678.3 1263.7 C685.3 1258.6 698.1 1249.0 703.0 1241.6 C707.9 1234.2 709.5 1225.8 707.9 1219.4 C706.2 1213.0 698.9 1206.5 693.1 1203.4 C687.4 1200.3 679.5 1200.3 673.4 1200.9 C667.2 1201.5 662.4 1203.6 656.2 1207.1 Z" fill="#fff" stroke="#000" stroke-width="2.20" />
<path d="M 656.2 1207.1 Q 675.9 1209.6 680.8 1236.7 Q 680.8 1258.8 661.1 1272.4 M 663.5 1203.4 Q 683.3 1207.1 688.2 1233.0 Q 688.7 1251.4 675.9 1265.0 M 693.1 1203.4 Q 703.0 1216.9 701.7 1242.8 M 686.9 1202.2 Q 696.8 1214.5 695.6 1247.7 M 680.8 1201.2 Q 690.6 1214.5 689.4 1252.7" fill="none" stroke="#000" stroke-width="1.71" />
<path d="M 695.6 1204.6 L 727.6 1193.5 Q 742.4 1194.8 743.6 1209.6 L 742.4 1225.6 L 707.9 1237.9 Z" fill="#fff" stroke="#000" stroke-width="2.20" />
<path d="M 742.4 1205.9 L 767.0 1196.7" fill="none" stroke="#000" stroke-width="13.20" stroke-linecap="butt" stroke-linejoin="round"/>
<path d="M 742.4 1205.9 L 767.0 1196.7" fill="none" stroke="#fff" stroke-width="8.80" stroke-linecap="butt" stroke-linejoin="round"/>
<path d="M 754.7 1197.2 L 758.4 1205.9 L 763.3 1203.9 L 760.1 1195.3 Z" fill="#fff" stroke="#000" stroke-width="2.20" />
<path d="M 767.0 1191.1 L 783.0 1185.4 Q 789.2 1186.2 789.2 1191.1 L 785.5 1196.0 L 770.7 1201.7 Z" fill="#fff" stroke="#000" stroke-width="2.20" />
<path d="M 774.4 1188.6 L 777.3 1199.2 M 780.5 1186.7 L 783.3 1196.7" fill="none" stroke="#000" stroke-width="1.59" />
<path d="M 689.4 1246.0 L 717.7 1265.0" fill="none" stroke="#000" stroke-width="11.70" stroke-linecap="butt" stroke-linejoin="round"/>
<path d="M 689.4 1246.0 L 717.7 1265.0" fill="none" stroke="#fff" stroke-width="7.30" stroke-linecap="butt" stroke-linejoin="round"/>
<path d="M 704.2 1258.8 L 709.1 1253.9 L 720.2 1260.0 L 716.5 1269.9 L 710.3 1269.2 Z" fill="#fff" stroke="#000" stroke-width="2.20" />
<path d="M 678.3 1263.7 Q 688.2 1269.9 700.5 1262.5" fill="none" stroke="#000" stroke-width="1.71" />
<path d="M 625.4 1256.8 L 656.2 1244.5" fill="none" stroke="#000" stroke-width="14.20" stroke-linecap="butt" stroke-linejoin="round"/>
<path d="M 625.4 1256.8 L 656.2 1244.5" fill="none" stroke="#fff" stroke-width="9.80" stroke-linecap="butt" stroke-linejoin="round"/>
<path d="M 620.0 1253.9 L 625.4 1250.2 L 632.8 1251.4 L 634.0 1260.0 L 629.1 1264.2 L 621.7 1263.3 Z" fill="#fff" stroke="#000" stroke-width="2.20" />
<ellipse cx="623.6" cy="1258.3" rx="2.5" ry="3.5" transform="rotate(-20 623.6 1258.3)" fill="#fff" stroke="#000" stroke-width="1.46"/>
<path d="M 635.2 1438.6 Q 683.3 1421.4 735.0 1433.7" fill="none" stroke="#000" stroke-width="17.20" stroke-linecap="butt" stroke-linejoin="round"/>
<path d="M 635.2 1438.6 Q 683.3 1421.4 735.0 1433.7" fill="none" stroke="#fff" stroke-width="12.80" stroke-linecap="butt" stroke-linejoin="round"/>
<ellipse cx="635.2" cy="1439.1" rx="4.2" ry="6.9" transform="rotate(-15 635.2 1439.1)" fill="#fff" stroke="#000" stroke-width="2.20"/>
<ellipse cx="635.2" cy="1439.1" rx="1.7" ry="3.0" transform="rotate(-15 635.2 1439.1)" fill="#fff" stroke="#000" stroke-width="1.46"/>
<path d="M 736.2 1429.3 L 725.1 1441.6 L 731.3 1439.1 L 732.5 1436.2 Z" fill="#fff" stroke="#000" stroke-width="1.59" />
<ellipse cx="319.7" cy="1435.4" rx="71.9" ry="36.9" transform="rotate(-3 319.7 1435.4)" fill="#fff" stroke="#000" stroke-width="2.20"/>
<ellipse cx="319.7" cy="1430.5" rx="67.0" ry="30.8" transform="rotate(-3 319.7 1430.5)" fill="#fff" stroke="#000" stroke-width="2.20"/>
<path d="M 247.7 1441.6 Q 248.2 1453.9 267.9 1462.5 Q 297.5 1472.4 327.0 1469.9 Q 366.5 1466.2 391.1 1446.5 L 397.2 1437.9 M 253.2 1429.3 Q 277.8 1414.5 300.0 1412.0 L 302.4 1429.3 M 267.9 1426.8 L 277.8 1429.3 L 280.2 1435.4" fill="none" stroke="#000" stroke-width="1.83" />
<path d="M 304.9 1429.3 Q 305.4 1423.8 314.7 1423.8 Q 324.6 1424.3 324.6 1429.3 L 324.6 1439.1 L 304.9 1440.3 Z" fill="#fff" stroke="#000" stroke-width="1.83" />
<path d="M 304.9 1429.3 Q 314.7 1433.0 324.6 1429.3" fill="none" stroke="#000" stroke-width="1.83" />
<path d="M 327.0 1412.0 Q 332.0 1407.1 339.4 1410.8 Q 344.3 1419.4 336.9 1425.6 Q 332.0 1421.9 334.4 1414.5 M 356.6 1423.1 Q 351.7 1429.3 355.4 1434.2 Q 360.3 1435.4 361.5 1430.5 M 344.3 1404.6 Q 359.1 1403.4 373.8 1414.5" fill="none" stroke="#000" stroke-width="1.83" />
<path d="M 375.1 1413.3 L 391.1 1400.9 Q 399.7 1397.2 402.2 1404.6 Q 402.2 1410.8 394.8 1414.5 L 381.2 1424.3 Z" fill="#fff" stroke="#000" stroke-width="1.83" />
<path d="M 391.1 1400.9 Q 388.6 1407.1 394.8 1414.5" fill="none" stroke="#000" stroke-width="1.83" />
<path d="M 386.2 1426.8 L 399.7 1424.3 L 400.9 1437.9 L 394.8 1440.3 M 388.6 1429.3 L 397.2 1433.0 M 245.8 1433.0 L 233.4 1431.7 L 229.8 1437.9 Q 228.5 1449.0 235.9 1451.4 L 245.8 1450.2" fill="none" stroke="#000" stroke-width="1.83" />
<ellipse cx="233.4" cy="1444.5" rx="4.4" ry="6.4" transform="rotate(0 233.4 1444.5)" fill="#fff" stroke="#000" stroke-width="1.83"/>
<path d="M 245.8 1453.9 L 245.8 1474.8 M 300.0 1472.4 L 302.4 1478.5 L 317.2 1478.5 L 320.9 1469.9 M 324.6 1468.7 L 324.6 1489.6 M 334.9 1468.2 L 334.9 1489.6 M 247.7 1473.6 L 287.6 1466.2 M 361.5 1478.5 Q 373.8 1488.4 366.5 1490.8 L 366.5 1508.1 M 344.3 1485.9 Q 359.1 1490.8 364.0 1483.4 M 383.7 1466.2 L 383.7 1508.1" fill="none" stroke="#000" stroke-width="1.83" />
<path d="M 324.6 1490.8 L 334.4 1485.9 L 341.8 1493.3 L 340.6 1501.9 L 330.7 1503.2 Z" fill="#fff" stroke="#000" stroke-width="1.83" />
<ellipse cx="394.8" cy="1470.6" rx="7.4" ry="3.9" transform="rotate(0 394.8 1470.6)" fill="#fff" stroke="#000" stroke-width="1.83"/>
<ellipse cx="372.6" cy="1508.1" rx="6.9" ry="3.9" transform="rotate(0 372.6 1508.1)" fill="#fff" stroke="#000" stroke-width="1.83"/>
<path d="M 365.7 1508.1 L 365.7 1514.2 Q 372.6 1517.9 379.5 1514.2 L 379.5 1508.1 M 372.6 1473.6 Q 370.1 1477.3 373.8 1481.0" fill="none" stroke="#000" stroke-width="1.83" />
<path d="M 183.0 1466.2 L 203.9 1463.3 L 212.5 1473.6 L 213.7 1495.8 L 223.6 1508.1 L 231.0 1503.2 L 233.4 1488.4 Q 228.5 1478.5 216.2 1473.6 M 183.0 1466.2 L 184.2 1478.5 L 194.0 1478.5 L 195.3 1485.9 M 174.3 1493.3 L 187.9 1492.1 L 201.4 1500.7 L 216.2 1503.2 L 216.2 1525.3 L 203.9 1527.8 L 186.7 1517.9 L 176.8 1508.1 Z M 203.9 1513.0 L 215.0 1513.0 M 203.9 1520.4 L 215.0 1521.6 M 223.6 1478.5 L 263.0 1510.5 M 228.5 1474.8 L 267.9 1505.6" fill="none" stroke="#000" stroke-width="1.83" />
<ellipse cx="194.0" cy="1513.0" rx="5.4" ry="6.9" transform="rotate(0 194.0 1513.0)" fill="#fff" stroke="#000" stroke-width="1.83"/>
<path d="M 187.9 1461.3 Q 199.0 1419.4 218.7 1413.3 L 223.6 1414.5 L 224.8 1461.3 M 217.4 1414.5 L 218.7 1461.3" fill="none" stroke="#000" stroke-width="1.83" />
<path d="M238.4 1478.5 C241.7 1473.4 249.1 1474.8 253.2 1477.3 C257.3 1479.8 261.8 1487.3 263.0 1493.3 C264.2 1499.2 263.4 1508.9 260.5 1513.0 C257.6 1517.1 250.3 1518.7 245.8 1517.9 C241.3 1517.1 234.6 1514.7 233.4 1508.1 C232.2 1501.5 235.1 1483.6 238.4 1478.5 Z" fill="#fff" stroke="#000" stroke-width="1.83" />
<path d="M 248.2 1478.5 Q 258.1 1495.8 250.7 1516.7" fill="none" stroke="#000" stroke-width="1.83" />
<path d="M 150.9 1530.2 Q 144.8 1532.7 143.5 1543.8 Q 144.8 1553.6 153.4 1556.1 L 169.4 1556.1 L 211.3 1537.6 L 208.8 1527.8 L 179.3 1527.8 Q 166.9 1520.4 157.1 1525.3 Z" fill="#fff" stroke="#000" stroke-width="1.83" />
<ellipse cx="150.2" cy="1543.8" rx="6.4" ry="8.4" transform="rotate(0 150.2 1543.8)" fill="#fff" stroke="#000" stroke-width="1.83"/>
<path d="M 147.2 1543.8 L 153.4 1543.8 M 150.2 1540.1 L 150.2 1547.5 M 174.3 1525.3 L 179.3 1537.6 M 157.1 1525.3 Q 166.9 1532.7 166.9 1556.1" fill="none" stroke="#000" stroke-width="1.83" />
<path d="M 224.8 1530.2 L 232.2 1529.0 L 233.4 1537.6 L 227.3 1538.9 M 227.3 1533.9 L 232.2 1533.2" fill="none" stroke="#000" stroke-width="1.83" />
<path d="M290.1 1483.4 C295.4 1482.6 301.6 1486.3 307.3 1490.8 C313.1 1495.3 321.3 1503.5 324.6 1510.5 C327.9 1517.5 328.2 1525.7 327.0 1532.7 C325.8 1539.7 321.7 1547.9 317.2 1552.4 C312.7 1556.9 305.8 1559.8 300.0 1559.8 C294.2 1559.8 288.1 1556.1 282.7 1552.4 C277.3 1548.7 270.8 1543.3 267.9 1537.6 C265.0 1531.8 264.3 1524.9 265.5 1517.9 C266.7 1510.9 271.2 1501.5 275.3 1495.8 C279.4 1490.0 284.8 1484.2 290.1 1483.4 Z" fill="#fff" stroke="#000" stroke-width="1.83" />
<path d="M 290.1 1483.4 Q 277.8 1498.2 267.9 1537.6 M 297.5 1485.9 Q 282.7 1503.2 277.8 1540.1 M 307.3 1490.8 Q 300.0 1503.2 302.4 1517.9" fill="none" stroke="#000" stroke-width="1.83" />
<path d="M312.3 1517.9 C317.2 1517.1 324.6 1522.9 327.0 1527.8 C329.4 1532.7 329.4 1542.2 327.0 1547.5 C324.6 1552.8 316.8 1559.0 312.3 1559.8 C307.8 1560.6 302.5 1556.9 300.0 1552.4 C297.5 1547.9 295.4 1538.5 297.5 1532.7 C299.6 1527.0 307.4 1518.7 312.3 1517.9 Z" fill="#fff" stroke="#000" stroke-width="1.83" />
<path d="M 270.4 1552.4 Q 267.9 1564.7 277.8 1567.2 Q 287.6 1562.3 287.6 1556.1" fill="none" stroke="#000" stroke-width="1.83" />
<ellipse cx="278.5" cy="1561.0" rx="2.0" ry="2.5" transform="rotate(0 278.5 1561.0)" fill="#fff" stroke="#000" stroke-width="1.83"/>
<path d="M 248.2 1552.4 L 287.6 1537.1" fill="none" stroke="#000" stroke-width="8.71" stroke-linecap="butt" stroke-linejoin="round"/>
<path d="M 248.2 1552.4 L 287.6 1537.1" fill="none" stroke="#fff" stroke-width="5.29" stroke-linecap="butt" stroke-linejoin="round"/>
<path d="M 244.5 1551.2 L 250.7 1546.3 L 255.6 1550.0 L 254.4 1556.1 L 248.2 1558.6 Z" fill="#fff" stroke="#000" stroke-width="1.83" />
<path d="M 277.8 1533.9 L 287.6 1530.2 L 293.8 1535.2 L 292.6 1543.8 L 283.9 1547.5 L 279.0 1543.8 Z" fill="#fff" stroke="#000" stroke-width="1.83" />
<path d="M 323.8 1542.6 L 323.8 1615.2 Q 332.0 1620.1 339.9 1615.2 L 339.9 1542.6 Z" fill="#fff" stroke="#000" stroke-width="1.83" />
<path d="M 314.7 1540.1 L 313.5 1550.0 L 324.6 1552.4 L 341.8 1550.0 L 344.3 1541.3 L 366.5 1537.6 L 367.7 1542.6 L 376.3 1541.3 L 375.1 1532.7 L 366.5 1533.9 L 344.3 1537.6 L 322.1 1537.6 Z" fill="#fff" stroke="#000" stroke-width="1.83" />
<path d="M 324.6 1616.5 L 334.4 1622.6 L 346.7 1620.1 L 348.0 1634.9 L 334.4 1637.4 L 324.6 1632.5 Z" fill="#fff" stroke="#000" stroke-width="1.83" />
<path d="M 334.4 1622.6 L 334.4 1637.4" fill="none" stroke="#000" stroke-width="1.83" />
<path d="M 370.1 1535.2 L 383.7 1527.8 L 391.1 1503.2 Q 396.0 1495.8 413.3 1488.4 M 373.8 1542.6 L 388.6 1532.7 L 397.2 1508.1 Q 400.9 1500.7 415.7 1494.5" fill="none" stroke="#000" stroke-width="1.83" />
<path d="M 349.2 1556.1 L 376.3 1556.8" fill="none" stroke="#000" stroke-width="8.71" stroke-linecap="round" stroke-linejoin="round"/>
<path d="M 349.2 1556.1 L 376.3 1556.8" fill="none" stroke="#fff" stroke-width="5.29" stroke-linecap="round" stroke-linejoin="round"/>
<path d="M 370.1 1553.6 L 370.9 1559.8" fill="none" stroke="#000" stroke-width="1.83" />
<path d="M 386.2 1602.9 L 416.9 1612.8" fill="none" stroke="#000" stroke-width="8.71" stroke-linecap="round" stroke-linejoin="round"/>
<path d="M 386.2 1602.9 L 416.9 1612.8" fill="none" stroke="#fff" stroke-width="5.29" stroke-linecap="round" stroke-linejoin="round"/>
<path d="M 409.6 1607.8 L 407.8 1614.0 M 416.9 1610.3 L 421.9 1613.5" fill="none" stroke="#000" stroke-width="1.83" />
<path d="M 275.3 1583.2 L 293.8 1575.8" fill="none" stroke="#000" stroke-width="8.71" stroke-linecap="round" stroke-linejoin="round"/>
<path d="M 275.3 1583.2 L 293.8 1575.8" fill="none" stroke="#fff" stroke-width="5.29" stroke-linecap="round" stroke-linejoin="round"/>
<ellipse cx="367.7" cy="1585.7" rx="9.4" ry="10.3" transform="rotate(0 367.7 1585.7)" fill="#fff" stroke="#000" stroke-width="1.83"/>
<ellipse cx="368.9" cy="1585.7" rx="4.4" ry="5.4" transform="rotate(0 368.9 1585.7)" fill="#fff" stroke="#000" stroke-width="1.83"/>
<ellipse cx="359.1" cy="1610.3" rx="7.4" ry="8.9" transform="rotate(0 359.1 1610.3)" fill="#fff" stroke="#000" stroke-width="1.83"/>
<ellipse cx="360.3" cy="1610.3" rx="3.2" ry="4.4" transform="rotate(0 360.3 1610.3)" fill="#fff" stroke="#000" stroke-width="1.83"/>
<path d="M 398.5 1569.7 Q 391.1 1574.6 394.8 1584.4 Q 400.9 1589.4 408.3 1582.0 M 400.9 1574.6 Q 397.2 1579.5 400.9 1583.2 M 349.2 1567.2 L 349.2 1594.3 L 356.6 1601.7 M 366.5 1572.1 L 376.3 1574.6 L 377.5 1596.7 L 368.9 1601.7 L 367.7 1616.5 M 391.1 1594.3 L 415.7 1589.4 L 415.7 1601.7 M 405.9 1596.7 L 410.8 1596.3 M 408.3 1594.3 L 408.3 1600.4 M 346.7 1628.8 L 391.1 1616.5" fill="none" stroke="#000" stroke-width="1.83" />
<ellipse cx="250.7" cy="1578.3" rx="13.5" ry="11.8" transform="rotate(0 250.7 1578.3)" fill="#fff" stroke="#000" stroke-width="1.83"/>
<ellipse cx="249.5" cy="1578.3" rx="7.4" ry="6.9" transform="rotate(0 249.5 1578.3)" fill="#fff" stroke="#000" stroke-width="1.83"/>
<path d="M 226.1 1572.1 L 238.4 1586.9 M 229.8 1569.7 L 242.1 1584.4 M 211.3 1577.0 L 215.0 1606.6 L 223.6 1610.3 M 216.2 1577.0 L 219.9 1601.7 M 258.1 1589.4 L 267.9 1604.1 L 287.6 1601.7 L 300.0 1628.8 L 292.6 1648.5 L 302.4 1659.6 L 311.0 1650.9 L 317.2 1626.3 L 307.3 1622.6 L 302.4 1611.5 L 287.6 1601.7 M 238.4 1596.7 Q 250.7 1591.8 258.1 1601.7 L 265.5 1631.2 L 277.8 1633.7 L 280.2 1623.8 M 309.8 1591.8 L 319.7 1590.6 M 312.3 1594.3 L 312.3 1599.2 M 317.2 1593.1 L 317.2 1598.0 M 312.3 1596.3 L 317.2 1595.8 M 297.5 1591.8 Q 309.8 1596.7 309.8 1611.5" fill="none" stroke="#000" stroke-width="1.83" />
<ellipse cx="270.4" cy="1614.0" rx="4.4" ry="5.9" transform="rotate(0 270.4 1614.0)" fill="#fff" stroke="#000" stroke-width="1.83"/>
<ellipse cx="277.8" cy="1610.3" rx="3.4" ry="4.4" transform="rotate(0 277.8 1610.3)" fill="#fff" stroke="#000" stroke-width="1.83"/>
<ellipse cx="290.1" cy="1638.6" rx="4.4" ry="5.9" transform="rotate(0 290.1 1638.6)" fill="#fff" stroke="#000" stroke-width="1.83"/>
<ellipse cx="306.1" cy="1627.5" rx="3.9" ry="5.4" transform="rotate(0 306.1 1627.5)" fill="#fff" stroke="#000" stroke-width="1.83"/>
<path d="M 211.3 1622.6 Q 223.6 1616.5 228.5 1611.5 Q 235.9 1614.0 243.3 1607.8 L 245.8 1611.5 Q 238.4 1618.9 228.5 1617.7 Q 223.6 1623.8 213.7 1626.3 M 206.4 1626.3 Q 201.4 1633.7 203.9 1648.5 M 189.1 1670.6 Q 203.9 1658.3 213.7 1660.8 Q 233.4 1648.5 235.9 1633.7 M 189.1 1670.6 L 190.3 1676.8 L 203.9 1670.6 L 211.3 1673.1" fill="none" stroke="#000" stroke-width="1.83" />
<path d="M 208.8 1634.9 L 219.9 1631.2 Q 226.1 1633.7 224.8 1641.1 L 215.0 1646.0 Z" fill="#fff" stroke="#000" stroke-width="1.83" />
<ellipse cx="207.6" cy="1642.3" rx="5.4" ry="6.9" transform="rotate(0 207.6 1642.3)" fill="#fff" stroke="#000" stroke-width="1.83"/>
<path d="M 201.4 1638.6 L 203.9 1642.3 L 200.2 1646.0 M 170.6 1626.3 Q 179.3 1601.7 194.0 1584.4 M 170.6 1626.3 L 169.4 1658.3 L 174.3 1663.3 L 203.9 1650.9" fill="none" stroke="#000" stroke-width="1.83" />
<ellipse cx="471.1" cy="1519.2" rx="37.4" ry="39.4" transform="rotate(0 471.1 1519.2)" fill="#fff" stroke="#000" stroke-width="1.83"/>
<path d="M 413.3 1467.4 L 474.8 1456.8 L 487.1 1466.2 L 506.8 1488.4 Q 511.8 1508.1 508.1 1532.7 L 494.5 1561.0 L 489.6 1550.0 M 413.3 1467.4 Q 418.2 1483.4 420.6 1498.2 M 408.3 1550.0 L 420.6 1527.8 Q 435.4 1520.4 445.3 1517.9 M 410.8 1485.9 Q 413.3 1517.9 433.0 1537.6 L 455.1 1532.7 M 415.7 1483.4 Q 420.6 1517.9 437.9 1540.1 M 429.3 1495.8 L 472.4 1469.9 L 476.1 1476.1 L 437.9 1498.2 M 494.5 1490.8 L 516.7 1481.0 L 517.9 1495.8 L 499.5 1508.1 M 474.8 1456.8 L 479.8 1461.3 L 504.4 1483.4" fill="none" stroke="#000" stroke-width="1.83" />
<ellipse cx="435.4" cy="1482.2" rx="5.4" ry="5.4" transform="rotate(0 435.4 1482.2)" fill="#fff" stroke="#000" stroke-width="1.83"/>
<circle cx="435.4" cy="1482.2" r="1.5" fill="#000"/>
<ellipse cx="501.9" cy="1472.4" rx="4.9" ry="4.9" transform="rotate(0 501.9 1472.4)" fill="#fff" stroke="#000" stroke-width="1.83"/>
<circle cx="501.9" cy="1472.4" r="1.5" fill="#000"/>
<path d="M 421.9 1525.3 L 431.7 1522.9 L 434.2 1533.9 L 425.6 1537.6 Z" fill="#fff" stroke="#000" stroke-width="1.83" />
<path d="M 425.6 1527.8 Q 429.3 1527.8 428.5 1532.2 M 434.2 1537.6 Q 450.2 1557.3 474.8 1558.6" fill="none" stroke="#000" stroke-width="1.83" />
<path d="M 397.2 1444.5 L 428.0 1437.1 L 429.3 1433.0 L 450.2 1425.6 Q 460.0 1420.6 466.2 1426.8 Q 471.1 1434.2 462.5 1440.3 L 433.0 1451.4 L 429.3 1447.7 L 400.9 1453.9 Z" fill="#fff" stroke="#000" stroke-width="1.83" />
<path d="M 450.2 1425.6 Q 447.7 1434.2 455.1 1443.5 M 428.0 1437.1 L 433.0 1451.4" fill="none" stroke="#000" stroke-width="1.83" />
<path d="M 517.9 1488.4 L 530.0 1483.0" fill="none" stroke="#000" stroke-width="8.71" stroke-linecap="butt" stroke-linejoin="round"/>
<path d="M 517.9 1488.4 L 530.0 1483.0" fill="none" stroke="#fff" stroke-width="5.29" stroke-linecap="butt" stroke-linejoin="round"/>
<path d="M 247.0 1455.0 L 247.0 1473.1 M 258.6 1469.2 Q 279.3 1465.3 300.0 1469.2 M 300.0 1469.2 L 303.9 1477.0 L 316.8 1477.8 L 320.7 1469.2 M 225.0 1483.4 L 261.2 1506.7 M 219.8 1487.3 L 256.0 1510.6 M 245.7 1478.3 Q 258.6 1483.4 261.2 1501.6 M 240.5 1483.4 Q 252.2 1488.6 254.7 1506.7 M 279.3 1483.4 Q 266.4 1501.6 262.5 1545.5 M 284.5 1482.2 Q 271.6 1501.6 269.0 1545.5 M 292.2 1483.4 Q 289.7 1493.8 297.4 1501.6 L 310.3 1504.1 M 294.8 1488.6 L 300.0 1496.4 M 328.4 1514.5 L 380.2 1511.9 M 345.3 1545.5 L 345.3 1561.0 M 342.7 1563.6 Q 344.0 1576.6 351.7 1581.7 M 294.8 1561.0 L 294.8 1586.9 L 289.7 1594.7 M 263.8 1548.1 Q 261.2 1561.0 271.6 1568.8 M 275.4 1558.4 Q 279.3 1561.0 278.0 1566.2" fill="none" stroke="#000" stroke-width="1.83" />
<path d="M 349.1 1483.4 Q 359.5 1491.2 367.2 1484.7 L 367.2 1493.8 M 382.8 1470.5 Q 377.6 1475.7 380.2 1482.2 M 372.4 1509.3 L 372.4 1515.8 M 364.7 1576.6 Q 356.9 1584.3 362.1 1594.7 M 369.8 1576.6 L 382.8 1579.1 L 384.1 1599.8 L 375.0 1605.0 M 393.1 1571.4 Q 387.9 1581.7 395.7 1586.9 M 403.4 1571.4 Q 398.3 1579.1 403.4 1584.3 M 349.1 1607.6 L 393.1 1594.7 M 382.8 1592.1 L 413.8 1607.6 M 408.6 1589.5 L 413.8 1590.0 L 413.8 1599.8" fill="none" stroke="#000" stroke-width="1.83" />
<path d="M 227.6 1574.0 L 240.5 1586.9 M 231.5 1571.4 L 244.4 1584.3 M 212.1 1576.6 L 214.7 1605.0 L 222.4 1610.2 M 217.2 1576.6 L 220.3 1602.4 M 248.3 1594.7 L 258.6 1607.6 L 274.1 1605.0 L 284.5 1630.9 L 279.3 1649.0 L 289.7 1659.3 L 297.4 1651.6 L 302.6 1628.3 M 237.9 1599.8 Q 248.3 1594.7 256.0 1605.0 L 263.8 1633.4 L 274.1 1636.0 L 276.7 1625.7 M 292.2 1594.7 Q 305.2 1599.8 307.8 1612.8 M 170.7 1623.1 Q 181.0 1602.4 196.6 1586.9 M 169.4 1623.1 L 168.1 1654.1 L 173.3 1660.6 L 201.7 1649.0 M 187.5 1677.4 L 190.1 1669.7 Q 206.9 1659.3 214.7 1660.6 Q 232.8 1649.0 235.3 1633.4 M 187.5 1677.4 L 204.3 1670.9 L 210.8 1673.5 M 206.9 1625.7 Q 219.8 1617.9 227.6 1614.1 Q 235.3 1616.6 243.1 1610.2 L 245.7 1614.1 Q 237.9 1620.5 227.6 1619.2 Q 219.8 1625.7 209.5 1628.3" fill="none" stroke="#000" stroke-width="1.83" />
<path d="M 182.3 1465.3 L 204.3 1462.8 L 213.4 1473.1 L 214.7 1496.4 L 225.0 1508.0 M 182.3 1465.3 L 183.6 1478.3 L 194.0 1478.3 L 195.3 1486.0 M 174.6 1493.8 L 188.8 1492.5 L 201.7 1501.6 L 215.9 1504.1 L 216.7 1526.1 L 204.3 1528.7 L 186.2 1519.7 L 177.2 1509.3 Z M 204.3 1514.5 L 215.9 1514.5 M 204.3 1521.7 L 215.9 1522.8 M 187.5 1460.2 Q 199.1 1418.8 219.8 1413.1 L 224.5 1414.1 L 225.5 1460.2 M 218.5 1414.9 L 219.8 1460.2" fill="none" stroke="#000" stroke-width="1.83" />
<path d="M306.5 1014.8 C308.6 1019.9 316.1 1034.2 319.4 1045.3 C322.7 1056.4 326.0 1069.1 326.4 1081.6 C326.8 1094.1 324.9 1107.8 322.0 1120.3 C319.1 1132.8 315.4 1144.5 309.1 1156.6 C302.9 1168.7 294.6 1181.2 284.5 1192.8 C274.4 1204.4 261.2 1215.6 248.3 1226.4 C235.4 1237.2 220.7 1247.1 206.9 1257.4 C193.1 1267.7 179.3 1277.6 165.5 1288.4 C151.7 1299.2 135.7 1310.4 124.1 1322.1 C112.5 1333.8 103.5 1346.2 95.7 1358.3 C88.0 1370.4 81.8 1383.3 77.6 1394.5 C73.4 1405.7 71.7 1417.4 70.3 1425.5 C68.9 1433.6 69.5 1440.2 69.3 1443.1" fill="none" stroke="#000" stroke-width="20.20" stroke-linecap="round" stroke-linejoin="round"/>
<path d="M306.5 1014.8 C308.6 1019.9 316.1 1034.2 319.4 1045.3 C322.7 1056.4 326.0 1069.1 326.4 1081.6 C326.8 1094.1 324.9 1107.8 322.0 1120.3 C319.1 1132.8 315.4 1144.5 309.1 1156.6 C302.9 1168.7 294.6 1181.2 284.5 1192.8 C274.4 1204.4 261.2 1215.6 248.3 1226.4 C235.4 1237.2 220.7 1247.1 206.9 1257.4 C193.1 1267.7 179.3 1277.6 165.5 1288.4 C151.7 1299.2 135.7 1310.4 124.1 1322.1 C112.5 1333.8 103.5 1346.2 95.7 1358.3 C88.0 1370.4 81.8 1383.3 77.6 1394.5 C73.4 1405.7 71.7 1417.4 70.3 1425.5 C68.9 1433.6 69.5 1440.2 69.3 1443.1" fill="none" stroke="#fff" stroke-width="15.80" stroke-linecap="round" stroke-linejoin="round"/>
<circle cx="116.2" cy="1341.0" r="1.05" fill="#000"/>
<circle cx="319.2" cy="1116.2" r="1.05" fill="#000"/>
<circle cx="319.7" cy="1143.8" r="1.05" fill="#000"/>
<circle cx="312.9" cy="1031.7" r="1.05" fill="#000"/>
<circle cx="289.2" cy="1174.8" r="1.05" fill="#000"/>
<circle cx="77.6" cy="1380.3" r="1.05" fill="#000"/>
<circle cx="316.3" cy="1152.5" r="1.05" fill="#000"/>
<circle cx="322.9" cy="1063.3" r="1.05" fill="#000"/>
<circle cx="139.2" cy="1310.7" r="1.05" fill="#000"/>
<circle cx="317.7" cy="1135.7" r="1.05" fill="#000"/>
<circle cx="174.7" cy="1278.7" r="1.05" fill="#000"/>
<circle cx="119.6" cy="1320.5" r="1.05" fill="#000"/>
<circle cx="160.6" cy="1298.7" r="1.05" fill="#000"/>
<circle cx="95.8" cy="1364.0" r="1.05" fill="#000"/>
<circle cx="199.9" cy="1264.7" r="1.05" fill="#000"/>
<circle cx="129.5" cy="1322.7" r="1.05" fill="#000"/>
<circle cx="317.4" cy="1143.1" r="1.05" fill="#000"/>
<circle cx="320.1" cy="1092.7" r="1.05" fill="#000"/>
<circle cx="195.4" cy="1268.8" r="1.05" fill="#000"/>
<circle cx="265.5" cy="1201.7" r="1.05" fill="#000"/>
<circle cx="226.4" cy="1247.1" r="1.05" fill="#000"/>
<circle cx="101.7" cy="1347.4" r="1.05" fill="#000"/>
<circle cx="74.7" cy="1438.6" r="1.05" fill="#000"/>
<circle cx="235.8" cy="1230.6" r="1.05" fill="#000"/>
<circle cx="88.7" cy="1360.3" r="1.05" fill="#000"/>
<circle cx="317.4" cy="1033.6" r="1.05" fill="#000"/>
<circle cx="329.1" cy="1074.5" r="1.05" fill="#000"/>
<circle cx="69.0" cy="1428.6" r="1.05" fill="#000"/>
<circle cx="76.4" cy="1406.8" r="1.05" fill="#000"/>
<circle cx="88.0" cy="1375.2" r="1.05" fill="#000"/>
<circle cx="308.7" cy="1147.0" r="1.05" fill="#000"/>
<circle cx="77.9" cy="1415.6" r="1.05" fill="#000"/>
<circle cx="185.5" cy="1271.5" r="1.05" fill="#000"/>
<circle cx="321.2" cy="1127.5" r="1.05" fill="#000"/>
<circle cx="329.6" cy="1087.3" r="1.05" fill="#000"/>
<circle cx="311.8" cy="1145.3" r="1.05" fill="#000"/>
<circle cx="165.2" cy="1293.6" r="1.05" fill="#000"/>
<circle cx="310.9" cy="1019.5" r="1.05" fill="#000"/>
<circle cx="154.3" cy="1302.8" r="1.05" fill="#000"/>
<circle cx="301.6" cy="1174.5" r="1.05" fill="#000"/>
<circle cx="107.1" cy="1342.8" r="1.05" fill="#000"/>
<circle cx="324.6" cy="1044.9" r="1.05" fill="#000"/>
<circle cx="269.7" cy="1205.6" r="1.05" fill="#000"/>
<circle cx="171.2" cy="1290.8" r="1.05" fill="#000"/>
<circle cx="321.9" cy="1098.4" r="1.05" fill="#000"/>
<circle cx="266.4" cy="1213.4" r="1.05" fill="#000"/>
<circle cx="294.9" cy="1167.0" r="1.05" fill="#000"/>
<circle cx="297.7" cy="1171.9" r="1.05" fill="#000"/>
<circle cx="285.8" cy="1192.8" r="1.05" fill="#000"/>
<circle cx="82.1" cy="1371.1" r="1.05" fill="#000"/>
<circle cx="285.2" cy="1197.6" r="1.05" fill="#000"/>
<circle cx="133.6" cy="1319.3" r="1.05" fill="#000"/>
<circle cx="302.9" cy="1019.7" r="1.05" fill="#000"/>
<circle cx="256.2" cy="1213.4" r="1.05" fill="#000"/>
<circle cx="262.5" cy="1206.4" r="1.05" fill="#000"/>
<circle cx="246.8" cy="1233.0" r="1.05" fill="#000"/>
<circle cx="309.0" cy="1022.4" r="1.05" fill="#000"/>
<circle cx="164.2" cy="1282.7" r="1.05" fill="#000"/>
<circle cx="320.6" cy="1059.7" r="1.05" fill="#000"/>
<circle cx="279.7" cy="1197.2" r="1.05" fill="#000"/>
<circle cx="328.3" cy="1089.6" r="1.05" fill="#000"/>
<circle cx="215.1" cy="1244.3" r="1.05" fill="#000"/>
<circle cx="324.2" cy="1069.8" r="1.05" fill="#000"/>
<circle cx="99.7" cy="1343.4" r="1.05" fill="#000"/>
<circle cx="327.2" cy="1117.1" r="1.05" fill="#000"/>
<circle cx="67.2" cy="1411.7" r="1.05" fill="#000"/>
<circle cx="238.3" cy="1241.1" r="1.05" fill="#000"/>
<circle cx="76.7" cy="1404.7" r="1.05" fill="#000"/>
<circle cx="76.9" cy="1392.3" r="1.05" fill="#000"/>
<circle cx="101.4" cy="1358.2" r="1.05" fill="#000"/>
<circle cx="113.5" cy="1341.4" r="1.05" fill="#000"/>
<circle cx="263.5" cy="1206.1" r="1.05" fill="#000"/>
<circle cx="99.7" cy="1359.9" r="1.05" fill="#000"/>
<circle cx="320.8" cy="1127.7" r="1.05" fill="#000"/>
<circle cx="220.7" cy="1248.9" r="1.05" fill="#000"/>
<circle cx="328.8" cy="1076.6" r="1.05" fill="#000"/>
<circle cx="129.2" cy="1311.3" r="1.05" fill="#000"/>
<circle cx="314.3" cy="1035.3" r="1.05" fill="#000"/>
<circle cx="124.8" cy="1331.0" r="1.05" fill="#000"/>
<circle cx="98.5" cy="1363.8" r="1.05" fill="#000"/>
<circle cx="184.6" cy="1273.3" r="1.05" fill="#000"/>
<circle cx="174.7" cy="1284.6" r="1.05" fill="#000"/>
<circle cx="259.7" cy="1214.3" r="1.05" fill="#000"/>
<circle cx="256.9" cy="1215.6" r="1.05" fill="#000"/>
<circle cx="250.6" cy="1225.4" r="1.05" fill="#000"/>
<circle cx="309.9" cy="1026.9" r="1.05" fill="#000"/>
<circle cx="234.0" cy="1241.4" r="1.05" fill="#000"/>
<circle cx="115.2" cy="1327.6" r="1.05" fill="#000"/>
<circle cx="247.8" cy="1232.0" r="1.05" fill="#000"/>
<circle cx="242.0" cy="1237.5" r="1.05" fill="#000"/>
<circle cx="327.0" cy="1079.9" r="1.05" fill="#000"/>
<circle cx="323.1" cy="1060.7" r="1.05" fill="#000"/>
<circle cx="226.7" cy="1250.0" r="1.05" fill="#000"/>
<circle cx="172.5" cy="1290.0" r="1.05" fill="#000"/>
<circle cx="126.7" cy="1315.4" r="1.05" fill="#000"/>
<circle cx="226.0" cy="1250.3" r="1.05" fill="#000"/>
<circle cx="226.7" cy="1244.5" r="1.05" fill="#000"/>
<circle cx="76.9" cy="1418.2" r="1.05" fill="#000"/>
<circle cx="83.8" cy="1367.7" r="1.05" fill="#000"/>
<circle cx="126.9" cy="1314.5" r="1.05" fill="#000"/>
<circle cx="316.4" cy="1113.9" r="1.05" fill="#000"/>
<circle cx="227.4" cy="1234.7" r="1.05" fill="#000"/>
<circle cx="80.8" cy="1400.1" r="1.05" fill="#000"/>
<circle cx="105.5" cy="1336.8" r="1.05" fill="#000"/>
<circle cx="321.7" cy="1046.7" r="1.05" fill="#000"/>
<circle cx="124.0" cy="1329.5" r="1.05" fill="#000"/>
<circle cx="82.8" cy="1390.7" r="1.05" fill="#000"/>
<circle cx="104.5" cy="1354.5" r="1.05" fill="#000"/>
<circle cx="223.2" cy="1238.3" r="1.05" fill="#000"/>
<circle cx="324.2" cy="1123.3" r="1.05" fill="#000"/>
<circle cx="226.3" cy="1245.8" r="1.05" fill="#000"/>
<circle cx="318.0" cy="1031.3" r="1.05" fill="#000"/>
<circle cx="319.0" cy="1096.8" r="1.05" fill="#000"/>
<circle cx="147.9" cy="1296.1" r="1.05" fill="#000"/>
<circle cx="320.5" cy="1101.0" r="1.05" fill="#000"/>
<circle cx="324.4" cy="1073.1" r="1.05" fill="#000"/>
<circle cx="170.3" cy="1287.1" r="1.05" fill="#000"/>
<circle cx="85.1" cy="1377.8" r="1.05" fill="#000"/>
<circle cx="190.3" cy="1263.6" r="1.05" fill="#000"/>
<circle cx="317.4" cy="1068.8" r="1.05" fill="#000"/>
<circle cx="172.9" cy="1284.6" r="1.05" fill="#000"/>
<circle cx="109.2" cy="1346.0" r="1.05" fill="#000"/>
<circle cx="68.6" cy="1438.0" r="1.05" fill="#000"/>
<circle cx="281.5" cy="1190.9" r="1.05" fill="#000"/>
<circle cx="254.6" cy="1226.2" r="1.05" fill="#000"/>
<circle cx="128.5" cy="1326.1" r="1.05" fill="#000"/>
<circle cx="102.0" cy="1355.4" r="1.05" fill="#000"/>
<circle cx="164.2" cy="1281.5" r="1.05" fill="#000"/>
<circle cx="189.5" cy="1267.8" r="1.05" fill="#000"/>
<circle cx="303.6" cy="1176.2" r="1.05" fill="#000"/>
<circle cx="317.7" cy="1029.6" r="1.05" fill="#000"/>
<circle cx="178.4" cy="1279.8" r="1.05" fill="#000"/>
<circle cx="219.0" cy="1241.9" r="1.05" fill="#000"/>
<circle cx="329.9" cy="1082.3" r="1.05" fill="#000"/>
<circle cx="166.1" cy="1295.9" r="1.05" fill="#000"/>
<circle cx="308.8" cy="1015.4" r="1.05" fill="#000"/>
<circle cx="325.7" cy="1068.1" r="1.05" fill="#000"/>
<circle cx="317.4" cy="1129.9" r="1.05" fill="#000"/>
<circle cx="191.7" cy="1273.6" r="1.05" fill="#000"/>
<circle cx="174.7" cy="1281.9" r="1.05" fill="#000"/>
<circle cx="320.6" cy="1082.8" r="1.05" fill="#000"/>
<circle cx="319.3" cy="1141.5" r="1.05" fill="#000"/>
<circle cx="321.0" cy="1063.3" r="1.05" fill="#000"/>
<circle cx="82.9" cy="1375.7" r="1.05" fill="#000"/>
<circle cx="269.6" cy="1210.8" r="1.05" fill="#000"/>
<circle cx="307.2" cy="1021.2" r="1.05" fill="#000"/>
<circle cx="202.0" cy="1263.5" r="1.05" fill="#000"/>
<circle cx="165.8" cy="1289.1" r="1.05" fill="#000"/>
<circle cx="71.0" cy="1409.3" r="1.05" fill="#000"/>
<circle cx="309.2" cy="1140.7" r="1.05" fill="#000"/>
<circle cx="315.3" cy="1036.6" r="1.05" fill="#000"/>
<circle cx="268.3" cy="1212.5" r="1.05" fill="#000"/>
<circle cx="315.3" cy="1044.9" r="1.05" fill="#000"/>
<circle cx="308.5" cy="1021.1" r="1.05" fill="#000"/>
<circle cx="78.0" cy="1413.0" r="1.05" fill="#000"/>
<circle cx="320.9" cy="1117.6" r="1.05" fill="#000"/>
<circle cx="223.4" cy="1242.8" r="1.05" fill="#000"/>
<circle cx="105.0" cy="1353.3" r="1.05" fill="#000"/>
<circle cx="301.4" cy="1172.5" r="1.05" fill="#000"/>
<circle cx="311.9" cy="1040.6" r="1.05" fill="#000"/>
<text transform="translate(188.3 1219.9) scale(0.82 1)" font-size="32" text-anchor="middle" stroke="#000" stroke-width="0.9">9A</text>
<path d="M 181.8 1226.4 L 181.8 1269.1" fill="none" stroke="#000" stroke-width="2.20" />
<path d="M69.9 1457.9 C70.2 1461.9 70.2 1473.6 71.7 1481.9 C73.2 1490.2 73.5 1498.0 79.1 1507.8 C84.6 1517.6 94.5 1531.2 105.0 1541.0 C115.5 1550.8 130.2 1561.4 141.9 1566.9 C153.6 1572.5 163.5 1573.4 175.2 1574.3 C186.9 1575.2 198.5 1576.1 212.1 1572.4 C225.7 1568.7 249.1 1555.5 256.5 1552.1" fill="none" stroke="#000" stroke-width="2.07" stroke-dasharray="40 7 4 7"/>
<path d="M60.6 1485.6 C58.1 1491.8 49.0 1509.0 45.9 1522.6 C42.8 1536.1 41.0 1552.1 42.2 1566.9 C43.4 1581.7 46.5 1596.4 53.3 1611.2 C60.1 1626.0 69.9 1643.3 82.8 1655.6 C95.7 1667.9 114.8 1678.3 130.8 1685.1 C146.8 1691.9 170.9 1694.3 178.9 1696.2" fill="none" stroke="#000" stroke-width="2.07" stroke-dasharray="40 7 4 7"/>
<path d="M79.1 1467.1 C83.4 1464.6 95.2 1454.9 105.0 1452.4 C114.8 1450.0 128.3 1451.2 138.2 1452.4 C148.0 1453.6 159.8 1458.6 164.1 1459.8" fill="none" stroke="#000" stroke-width="2.07" stroke-dasharray="40 7 4 7"/>
<path d="M173.3 1655.6 C172.4 1650.7 166.9 1635.8 167.8 1626.0 C168.7 1616.2 174.0 1604.5 178.9 1596.5 C183.8 1588.5 194.2 1581.1 197.3 1578.0" fill="none" stroke="#000" stroke-width="2.07" stroke-dasharray="30 7 4 7"/>
<path d="M 382.1 1559.5 L 515.1 1572.4" fill="none" stroke="#000" stroke-width="2.07" stroke-dasharray="40 7 4 7"/>
<path d="M 99.4 1675.9 L 101.3 1679.6" fill="none" stroke="#000" stroke-width="1.71" />
<g transform="translate(570.5 1578.7) rotate(-172.9)">
<path d="M0 -10.0 L44.66655011640759 -10.0 Q47.66655011640759 -10.0 47.66655011640759 -7.0 L47.66655011640759 7.0 Q47.66655011640759 10.0 44.66655011640759 10.0 L0 10.0 Z" fill="#fff" stroke="#000" stroke-width="1.8"/>
<circle cx="37.3" cy="3.2" r="1.05" fill="#000"/>
<circle cx="9.2" cy="5.2" r="1.05" fill="#000"/>
<circle cx="36.0" cy="-0.5" r="1.05" fill="#000"/>
<circle cx="35.8" cy="-0.7" r="1.05" fill="#000"/>
<circle cx="17.2" cy="-5.9" r="1.05" fill="#000"/>
<circle cx="17.4" cy="-6.9" r="1.05" fill="#000"/>
<circle cx="21.1" cy="3.7" r="1.05" fill="#000"/>
<circle cx="34.1" cy="5.2" r="1.05" fill="#000"/>
<circle cx="34.7" cy="-3.5" r="1.05" fill="#000"/>
<circle cx="29.0" cy="-1.0" r="1.05" fill="#000"/>
<circle cx="37.5" cy="0.3" r="1.05" fill="#000"/>
<circle cx="18.6" cy="2.1" r="1.05" fill="#000"/>
<circle cx="43.9" cy="-4.2" r="1.05" fill="#000"/>
<circle cx="40.8" cy="-7.3" r="1.05" fill="#000"/>
<circle cx="18.4" cy="-4.0" r="1.05" fill="#000"/>
<circle cx="35.9" cy="6.7" r="1.05" fill="#000"/>
<circle cx="36.0" cy="-2.6" r="1.05" fill="#000"/>
<circle cx="40.8" cy="-2.6" r="1.05" fill="#000"/>
<circle cx="17.6" cy="6.1" r="1.05" fill="#000"/>
<circle cx="31.8" cy="2.9" r="1.05" fill="#000"/>
<circle cx="33.1" cy="7.2" r="1.05" fill="#000"/>
<circle cx="26.0" cy="5.1" r="1.05" fill="#000"/>
<circle cx="34.2" cy="5.4" r="1.05" fill="#000"/>
<ellipse cx="0" cy="0" rx="5.5" ry="10.0" fill="#fff" stroke="#000" stroke-width="2.20"/>
<ellipse cx="0" cy="0" rx="2.5" ry="4.5" fill="none" stroke="#000" stroke-width="1.9"/>
</g>
<text transform="translate(549.1 1535.5) scale(0.82 1)" font-size="32" text-anchor="middle" stroke="#000" stroke-width="0.9">8</text>
<path d="M 549.1 1544.7 L 549.1 1559.5" fill="none" stroke="#000" stroke-width="2.20" />
<g transform="translate(487.4 1634.1) rotate(-162.1)">
<path d="M0 -10.0 L47.535729934374125 -10.0 Q50.535729934374125 -10.0 50.535729934374125 -7.0 L50.535729934374125 7.0 Q50.535729934374125 10.0 47.535729934374125 10.0 L0 10.0 Z" fill="#fff" stroke="#000" stroke-width="1.8"/>
<circle cx="26.1" cy="3.4" r="1.05" fill="#000"/>
<circle cx="31.3" cy="-2.9" r="1.05" fill="#000"/>
<circle cx="17.3" cy="1.8" r="1.05" fill="#000"/>
<circle cx="12.0" cy="6.2" r="1.05" fill="#000"/>
<circle cx="14.6" cy="-7.1" r="1.05" fill="#000"/>
<circle cx="13.2" cy="6.4" r="1.05" fill="#000"/>
<circle cx="22.5" cy="-5.4" r="1.05" fill="#000"/>
<circle cx="10.1" cy="-6.9" r="1.05" fill="#000"/>
<circle cx="36.0" cy="2.0" r="1.05" fill="#000"/>
<circle cx="36.2" cy="3.6" r="1.05" fill="#000"/>
<circle cx="11.6" cy="1.4" r="1.05" fill="#000"/>
<circle cx="23.2" cy="4.8" r="1.05" fill="#000"/>
<circle cx="41.0" cy="5.9" r="1.05" fill="#000"/>
<circle cx="11.6" cy="5.5" r="1.05" fill="#000"/>
<circle cx="44.7" cy="6.7" r="1.05" fill="#000"/>
<circle cx="13.2" cy="-4.4" r="1.05" fill="#000"/>
<circle cx="13.4" cy="-7.0" r="1.05" fill="#000"/>
<circle cx="42.1" cy="4.7" r="1.05" fill="#000"/>
<circle cx="33.8" cy="4.9" r="1.05" fill="#000"/>
<circle cx="33.7" cy="-3.2" r="1.05" fill="#000"/>
<circle cx="12.9" cy="-6.0" r="1.05" fill="#000"/>
<circle cx="38.6" cy="-4.4" r="1.05" fill="#000"/>
<circle cx="21.5" cy="-1.1" r="1.05" fill="#000"/>
<circle cx="9.8" cy="-3.6" r="1.05" fill="#000"/>
<circle cx="20.0" cy="3.2" r="1.05" fill="#000"/>
<ellipse cx="0" cy="0" rx="5.5" ry="10.0" fill="#fff" stroke="#000" stroke-width="2.20"/>
<ellipse cx="0" cy="0" rx="2.5" ry="4.5" fill="none" stroke="#000" stroke-width="1.9"/>
</g>
<text transform="translate(465.2 1705.4) scale(0.82 1)" font-size="32" text-anchor="middle" stroke="#000" stroke-width="0.9">8</text>
<path d="M 465.9 1646.3 L 465.9 1674.0" fill="none" stroke="#000" stroke-width="2.20" />
<text transform="translate(560.1 1725.8) scale(0.82 1)" font-size="32" text-anchor="middle" stroke="#000" stroke-width="0.9">13</text>
<path d="M 561.3 1663.0 L 561.3 1690.7" fill="none" stroke="#000" stroke-width="2.20" />
<path d="M509.5 1636.4 C513.8 1638.0 526.2 1643.6 535.0 1646.0 C543.8 1648.4 552.1 1650.1 562.5 1651.0 C572.9 1651.9 587.0 1654.1 597.6 1651.4 C608.2 1648.7 619.3 1643.1 626.4 1634.8 C633.5 1626.5 638.1 1617.8 640.0 1601.5 C641.9 1585.2 639.5 1555.1 637.5 1536.9 C635.5 1518.8 630.7 1502.9 627.9 1492.6 C625.1 1482.2 621.7 1477.8 620.5 1474.8" fill="none" stroke="#000" stroke-width="18.20" stroke-linecap="butt" stroke-linejoin="round"/>
<path d="M509.5 1636.4 C513.8 1638.0 526.2 1643.6 535.0 1646.0 C543.8 1648.4 552.1 1650.1 562.5 1651.0 C572.9 1651.9 587.0 1654.1 597.6 1651.4 C608.2 1648.7 619.3 1643.1 626.4 1634.8 C633.5 1626.5 638.1 1617.8 640.0 1601.5 C641.9 1585.2 639.5 1555.1 637.5 1536.9 C635.5 1518.8 630.7 1502.9 627.9 1492.6 C625.1 1482.2 621.7 1477.8 620.5 1474.8" fill="none" stroke="#fff" stroke-width="13.80" stroke-linecap="butt" stroke-linejoin="round"/>
<path d="M512.3 1628.9 C502.4 1625.2 496.7 1640.1 506.7 1643.9" fill="#fff" stroke="#000" stroke-width="2.196"/>
<path d="M 613.1 1474.8 L 616.8 1485.2 L 625.3 1469.7 L 630.1 1480.7" fill="none" stroke="#000" stroke-width="1.71" />
<path d="M880.2 1502.9 C875.6 1508.6 866.4 1526.9 852.5 1536.9 C838.6 1546.9 815.6 1556.0 797.1 1562.8 C778.6 1569.6 763.2 1573.5 741.7 1577.5 C720.2 1581.5 692.6 1586.4 667.8 1586.8 C643.0 1587.2 605.3 1581.2 592.8 1580.1" fill="none" stroke="#000" stroke-width="18.20" stroke-linecap="round" stroke-linejoin="round"/>
<path d="M880.2 1502.9 C875.6 1508.6 866.4 1526.9 852.5 1536.9 C838.6 1546.9 815.6 1556.0 797.1 1562.8 C778.6 1569.6 763.2 1573.5 741.7 1577.5 C720.2 1581.5 692.6 1586.4 667.8 1586.8 C643.0 1587.2 605.3 1581.2 592.8 1580.1" fill="none" stroke="#fff" stroke-width="13.80" stroke-linecap="round" stroke-linejoin="round"/>
<text transform="translate(744.3 1518.4) scale(0.82 1)" font-size="32" text-anchor="middle" stroke="#000" stroke-width="0.9">13</text>
<path d="M 745.4 1527.7 L 745.4 1564.6" fill="none" stroke="#000" stroke-width="2.20" />
<path d="M 741.7 1440.1 Q 786.0 1452.7 825.9 1434.9" fill="none" stroke="#000" stroke-width="17.20" stroke-linecap="round" stroke-linejoin="round"/>
<path d="M 741.7 1440.1 Q 786.0 1452.7 825.9 1434.9" fill="none" stroke="#fff" stroke-width="12.80" stroke-linecap="round" stroke-linejoin="round"/>
<path d="M 746.1 1433.4 L 736.1 1444.5 L 741.7 1445.3 L 750.9 1437.1 Z" fill="#fff" stroke="#000" stroke-width="1.59" />
<text transform="translate(861.7 1365.1) scale(0.82 1)" font-size="32" text-anchor="middle" stroke="#000" stroke-width="0.9">8</text>
<path d="M 861.7 1376.2 L 861.7 1402.0" fill="none" stroke="#000" stroke-width="2.20" />
<g transform="translate(847.0 1426.8) rotate(-22.3)">
<path d="M0 -10.0 L43.685436701395496 -10.0 Q46.685436701395496 -10.0 46.685436701395496 -7.0 L46.685436701395496 7.0 Q46.685436701395496 10.0 43.685436701395496 10.0 L0 10.0 Z" fill="#fff" stroke="#000" stroke-width="1.8"/>
<circle cx="21.9" cy="-2.7" r="1.05" fill="#000"/>
<circle cx="42.9" cy="0.1" r="1.05" fill="#000"/>
<circle cx="39.0" cy="1.8" r="1.05" fill="#000"/>
<circle cx="10.1" cy="-1.3" r="1.05" fill="#000"/>
<circle cx="24.4" cy="4.1" r="1.05" fill="#000"/>
<circle cx="21.2" cy="3.1" r="1.05" fill="#000"/>
<circle cx="27.9" cy="-4.3" r="1.05" fill="#000"/>
<circle cx="39.3" cy="-6.1" r="1.05" fill="#000"/>
<circle cx="37.8" cy="-4.9" r="1.05" fill="#000"/>
<circle cx="9.0" cy="-4.5" r="1.05" fill="#000"/>
<circle cx="35.8" cy="7.2" r="1.05" fill="#000"/>
<circle cx="9.2" cy="-0.1" r="1.05" fill="#000"/>
<circle cx="26.3" cy="4.5" r="1.05" fill="#000"/>
<circle cx="15.5" cy="-0.1" r="1.05" fill="#000"/>
<circle cx="21.2" cy="5.0" r="1.05" fill="#000"/>
<circle cx="18.2" cy="6.7" r="1.05" fill="#000"/>
<circle cx="19.0" cy="-4.3" r="1.05" fill="#000"/>
<circle cx="33.6" cy="-0.0" r="1.05" fill="#000"/>
<circle cx="12.9" cy="2.0" r="1.05" fill="#000"/>
<circle cx="11.8" cy="4.3" r="1.05" fill="#000"/>
<circle cx="33.5" cy="4.3" r="1.05" fill="#000"/>
<circle cx="31.1" cy="-2.2" r="1.05" fill="#000"/>
<circle cx="23.1" cy="-1.6" r="1.05" fill="#000"/>
<ellipse cx="0" cy="0" rx="5.5" ry="10.0" fill="#fff" stroke="#000" stroke-width="2.20"/>
<ellipse cx="0" cy="0" rx="2.5" ry="4.5" fill="none" stroke="#000" stroke-width="1.9"/>
</g>
<g transform="translate(891.3 1481.5) rotate(-60.6)">
<path d="M0 -10.0 L42.80676805887976 -10.0 Q45.80676805887976 -10.0 45.80676805887976 -7.0 L45.80676805887976 7.0 Q45.80676805887976 10.0 42.80676805887976 10.0 L0 10.0 Z" fill="#fff" stroke="#000" stroke-width="1.8"/>
<circle cx="39.5" cy="-6.2" r="1.05" fill="#000"/>
<circle cx="39.5" cy="-7.1" r="1.05" fill="#000"/>
<circle cx="16.1" cy="-3.6" r="1.05" fill="#000"/>
<circle cx="39.9" cy="0.0" r="1.05" fill="#000"/>
<circle cx="22.0" cy="5.8" r="1.05" fill="#000"/>
<circle cx="17.0" cy="-0.6" r="1.05" fill="#000"/>
<circle cx="27.2" cy="3.8" r="1.05" fill="#000"/>
<circle cx="34.8" cy="2.2" r="1.05" fill="#000"/>
<circle cx="21.0" cy="-2.6" r="1.05" fill="#000"/>
<circle cx="14.3" cy="5.1" r="1.05" fill="#000"/>
<circle cx="31.7" cy="3.6" r="1.05" fill="#000"/>
<circle cx="14.8" cy="-0.9" r="1.05" fill="#000"/>
<circle cx="35.5" cy="1.2" r="1.05" fill="#000"/>
<circle cx="13.3" cy="-0.6" r="1.05" fill="#000"/>
<circle cx="39.4" cy="-3.9" r="1.05" fill="#000"/>
<circle cx="15.6" cy="-3.0" r="1.05" fill="#000"/>
<circle cx="33.1" cy="5.2" r="1.05" fill="#000"/>
<circle cx="14.3" cy="-5.2" r="1.05" fill="#000"/>
<circle cx="17.5" cy="-2.6" r="1.05" fill="#000"/>
<circle cx="26.9" cy="-5.1" r="1.05" fill="#000"/>
<circle cx="20.3" cy="-4.7" r="1.05" fill="#000"/>
<circle cx="42.5" cy="3.4" r="1.05" fill="#000"/>
<ellipse cx="0" cy="0" rx="5.5" ry="10.0" fill="#fff" stroke="#000" stroke-width="2.20"/>
<ellipse cx="0" cy="0" rx="2.5" ry="4.5" fill="none" stroke="#000" stroke-width="1.9"/>
</g>
<text transform="translate(924.6 1542.4) scale(0.82 1)" font-size="32" text-anchor="middle" stroke="#000" stroke-width="0.9">8</text>
<path d="M 917.2 1466.7 L 928.3 1475.9 L 928.3 1511.0" fill="none" stroke="#000" stroke-width="2.20" />
<path d="M 920.9 1379.9 Q 920.9 1365.1 933.8 1362.5 L 956.0 1368.8 L 978.1 1357.7 Q 996.6 1359.6 1002.1 1376.2 L 1004.0 1389.1" fill="none" stroke="#000" stroke-width="1.83" />
<path d="M 904.2 1400.9 L 928.3 1394.7" fill="none" stroke="#000" stroke-width="11.20" stroke-linecap="butt" stroke-linejoin="round"/>
<path d="M 904.2 1400.9 L 928.3 1394.7" fill="none" stroke="#fff" stroke-width="6.80" stroke-linecap="butt" stroke-linejoin="round"/>
<ellipse cx="904.2" cy="1400.9" rx="3.3" ry="5.2" transform="rotate(-15 904.2 1400.9)" fill="#fff" stroke="#000" stroke-width="1.71"/>
<path d="M 934.5 1407.6 L 924.6 1426.8" fill="none" stroke="#000" stroke-width="11.20" stroke-linecap="butt" stroke-linejoin="round"/>
<path d="M 934.5 1407.6 L 924.6 1426.8" fill="none" stroke="#fff" stroke-width="6.80" stroke-linecap="butt" stroke-linejoin="round"/>
<ellipse cx="924.6" cy="1426.8" rx="4.4" ry="3.3" transform="rotate(-20 924.6 1426.8)" fill="#fff" stroke="#000" stroke-width="1.71"/>
<path d="M 924.6 1385.4 L 941.2 1381.0 L 950.4 1385.4 L 952.3 1409.4 L 943.0 1418.7 L 933.8 1415.7 L 928.3 1403.9 Z" fill="#fff" stroke="#000" stroke-width="1.83" />
<path d="M 941.2 1381.0 L 943.0 1418.7" fill="none" stroke="#000" stroke-width="1.59" />
<path d="M 944.9 1378.0 L 959.7 1374.3 L 968.9 1379.9 L 970.7 1400.2 L 961.5 1411.3 L 952.3 1409.4 L 950.4 1385.4 Z" fill="#fff" stroke="#000" stroke-width="1.83" />
<path d="M 959.7 1374.3 L 961.5 1411.3" fill="none" stroke="#000" stroke-width="1.59" />
<path d="M 972.6 1381.7 L 1000.3 1394.7 Q 1013.2 1402.0 1009.5 1413.1 Q 1004.0 1422.4 992.9 1418.7 L 968.9 1405.7 Z" fill="#fff" stroke="#000" stroke-width="1.83" />
<ellipse cx="1002.1" cy="1409.4" rx="8.1" ry="11.1" transform="rotate(-25 1002.1 1409.4)" fill="#fff" stroke="#000" stroke-width="1.83"/>
<path d="M 1031.7 1510.3 Q 1032.4 1514.7 1040.9 1514.7 Q 1049.4 1514.7 1050.2 1510.3" fill="none" stroke="#000" stroke-width="2.20" />
<g transform="translate(1041.7 1532.5) rotate(90.0)">
<path d="M0 -10.5 L41.299999999999955 -10.5 Q44.299999999999955 -10.5 44.299999999999955 -7.5 L44.299999999999955 7.5 Q44.299999999999955 10.5 41.299999999999955 10.5 L0 10.5 Z" fill="#fff" stroke="#000" stroke-width="1.8"/>
<circle cx="12.7" cy="7.4" r="1.05" fill="#000"/>
<circle cx="12.6" cy="-1.9" r="1.05" fill="#000"/>
<circle cx="41.3" cy="4.7" r="1.05" fill="#000"/>
<circle cx="33.1" cy="-1.0" r="1.05" fill="#000"/>
<circle cx="15.7" cy="2.2" r="1.05" fill="#000"/>
<circle cx="12.8" cy="-4.7" r="1.05" fill="#000"/>
<circle cx="22.0" cy="-7.5" r="1.05" fill="#000"/>
<circle cx="22.3" cy="4.7" r="1.05" fill="#000"/>
<circle cx="31.9" cy="0.0" r="1.05" fill="#000"/>
<circle cx="29.9" cy="-0.6" r="1.05" fill="#000"/>
<circle cx="14.0" cy="1.7" r="1.05" fill="#000"/>
<circle cx="22.5" cy="3.9" r="1.05" fill="#000"/>
<circle cx="38.8" cy="-1.1" r="1.05" fill="#000"/>
<circle cx="28.0" cy="4.0" r="1.05" fill="#000"/>
<circle cx="23.0" cy="-4.3" r="1.05" fill="#000"/>
<circle cx="32.8" cy="6.1" r="1.05" fill="#000"/>
<circle cx="34.5" cy="3.2" r="1.05" fill="#000"/>
<circle cx="37.0" cy="2.9" r="1.05" fill="#000"/>
<circle cx="30.2" cy="-0.7" r="1.05" fill="#000"/>
<circle cx="19.5" cy="2.1" r="1.05" fill="#000"/>
<circle cx="12.5" cy="-1.3" r="1.05" fill="#000"/>
<circle cx="34.7" cy="3.4" r="1.05" fill="#000"/>
<circle cx="29.8" cy="-4.0" r="1.05" fill="#000"/>
<ellipse cx="0" cy="0" rx="5.8" ry="10.5" fill="#fff" stroke="#000" stroke-width="2.20"/>
<ellipse cx="0" cy="0" rx="2.6" ry="4.7" fill="none" stroke="#000" stroke-width="1.9"/>
</g>
<text transform="translate(977.4 1584.9) scale(0.82 1)" font-size="32" text-anchor="middle" stroke="#000" stroke-width="0.9">8</text>
<path d="M 992.9 1572.0 L 1024.3 1562.0" fill="none" stroke="#000" stroke-width="2.20" />
<path d="M 1286.4 990.1 L 1300.6 1001.3" fill="none" stroke="#000" stroke-width="12.20" stroke-linecap="round" stroke-linejoin="round"/>
<path d="M 1286.4 990.1 L 1300.6 1001.3" fill="none" stroke="#fff" stroke-width="7.80" stroke-linecap="round" stroke-linejoin="round"/>
<path d="M 1296.6 1000.0 L 1341.3 984.4 L 1356.2 995.9 L 1357.5 1025.0 L 1330.4 1031.8 Z" fill="#fff" stroke="#000" stroke-width="2.44" />
<path d="M 1296.6 1000.0 L 1330.4 1031.8 L 1329.8 1084.6 L 1293.2 1053.5 Z" fill="#fff" stroke="#000" stroke-width="2.44" />
<path d="M 1300.0 1007.4 L 1327.1 1034.2 L 1326.4 1076.5 L 1297.9 1049.4 Z" fill="#fff" stroke="#000" stroke-width="2.44" />
<path d="M 1304.7 1016.9 Q 1298.6 1041.3 1314.2 1060.2 M 1312.8 1021.0 Q 1304.7 1041.3 1319.6 1057.5 M 1300.6 1014.2 Q 1296.6 1035.9 1302.0 1049.4" fill="none" stroke="#000" stroke-width="1.95" />
<path d="M 1330.4 1031.8 L 1354.8 1025.0 L 1370.4 1046.7 L 1364.3 1072.4 L 1329.8 1084.6 Z" fill="#fff" stroke="#000" stroke-width="2.44" />
<path d="M 1331.8 1054.8 L 1346.7 1050.8 Q 1352.1 1046.7 1353.5 1041.3 M 1354.8 1046.7 L 1363.0 1045.3 M 1334.5 1032.5 L 1350.8 1028.4 L 1352.1 1048.1 L 1333.8 1053.5 Z M 1333.2 1064.3 L 1349.4 1063.0 L 1350.1 1076.5 L 1331.8 1080.6 M 1339.2 1037.2 L 1339.7 1042.0 L 1343.3 1041.0 L 1343.3 1036.5 M 1337.9 1068.4 L 1338.3 1073.1 L 1342.0 1072.2 L 1342.0 1067.7 M 1352.1 1067.0 L 1364.3 1063.0 M 1353.5 1072.4 L 1364.3 1069.1" fill="none" stroke="#000" stroke-width="1.95" />
<path d="M 1319.6 985.1 Q 1321.0 980.3 1326.4 981.7 Q 1329.8 983.0 1328.4 985.1" fill="none" stroke="#000" stroke-width="1.95" />
<path d="M 1354.8 1041.3 L 1354.8 1026.4 L 1356.5 1025.0 L 1356.5 1005.4 Q 1362.3 1000.0 1368.4 1005.4 L 1368.4 1025.0 L 1370.0 1026.4 L 1370.4 1046.7 Z" fill="#fff" stroke="#000" stroke-width="2.44" />
<ellipse cx="1362.4" cy="1004.7" rx="6.0" ry="3.5" transform="rotate(0 1362.4 1004.7)" fill="#fff" stroke="#000" stroke-width="2.44"/>
<ellipse cx="1362.4" cy="1004.7" rx="1.6" ry="0.9" transform="rotate(0 1362.4 1004.7)" fill="#fff" stroke="#000" stroke-width="1.59"/>
<path d="M 1356.5 1025.0 Q 1362.3 1028.4 1368.4 1025.0 M 1371.8 1010.1 Q 1376.5 1011.5 1375.1 1015.5" fill="none" stroke="#000" stroke-width="1.95" />
<ellipse cx="1367.7" cy="1058.2" rx="7.0" ry="7.9" transform="rotate(-35 1367.7 1058.2)" fill="#fff" stroke="#000" stroke-width="2.44"/>
<path d="M 1368.4 1058.9 L 1390.0 1079.9" fill="none" stroke="#000" stroke-width="13.20" stroke-linecap="butt" stroke-linejoin="round"/>
<path d="M 1368.4 1058.9 L 1390.0 1079.9" fill="none" stroke="#fff" stroke-width="8.80" stroke-linecap="butt" stroke-linejoin="round"/>
<ellipse cx="1390.0" cy="1080.0" rx="3.3" ry="5.4" transform="rotate(-45 1390.0 1080.0)" fill="#fff" stroke="#000" stroke-width="2.44"/>
<ellipse cx="1390.0" cy="1080.0" rx="0.8" ry="1.4" transform="rotate(-45 1390.0 1080.0)" fill="#fff" stroke="#000" stroke-width="1.46"/>
<path d="M 1373.8 1016.9 L 1406.3 1005.4 L 1410.4 1006.1 L 1430.7 1038.6 L 1430.0 1048.1 L 1438.8 1048.1 L 1446.9 1063.0 L 1447.6 1075.1 L 1441.5 1083.3 L 1433.4 1084.0 L 1403.6 1060.2 L 1387.3 1064.3 M 1375.1 1020.3 L 1405.6 1009.4 L 1425.9 1041.3 L 1427.3 1048.7 M 1403.6 1060.2 L 1404.3 1048.1 M 1398.2 1023.7 Q 1403.6 1027.7 1410.4 1025.7 M 1399.5 1021.6 L 1400.9 1025.0 M 1404.3 1029.1 L 1404.3 1041.3 M 1398.2 1045.3 Q 1403.6 1049.4 1409.0 1046.7 M 1415.8 1037.2 Q 1414.4 1046.7 1422.6 1052.1 M 1410.4 1054.8 L 1422.6 1064.3 M 1405.6 1013.5 L 1406.0 1019.6" fill="none" stroke="#000" stroke-width="2.44" />
<ellipse cx="1434.1" cy="1069.1" rx="4.6" ry="7.5" transform="rotate(-20 1434.1 1069.1)" fill="#fff" stroke="#000" stroke-width="2.44"/>
<path d="M1056.9 1099.2 C1060.0 1100.9 1071.4 1103.6 1075.4 1109.6 C1079.4 1115.6 1080.1 1121.9 1081.0 1135.4 C1081.9 1148.9 1081.0 1169.2 1081.0 1190.8 C1081.0 1212.3 1081.0 1241.8 1081.0 1264.7 C1081.0 1287.6 1081.0 1317.7 1081.0 1328.3" fill="none" stroke="#000" stroke-width="17.20" stroke-linecap="butt" stroke-linejoin="round"/>
<path d="M1056.9 1099.2 C1060.0 1100.9 1071.4 1103.6 1075.4 1109.6 C1079.4 1115.6 1080.1 1121.9 1081.0 1135.4 C1081.9 1148.9 1081.0 1169.2 1081.0 1190.8 C1081.0 1212.3 1081.0 1241.8 1081.0 1264.7 C1081.0 1287.6 1081.0 1317.7 1081.0 1328.3" fill="none" stroke="#fff" stroke-width="12.80" stroke-linecap="butt" stroke-linejoin="round"/>
<path d="M1073.5 1328.3 C1073.5 1338.3 1088.5 1338.3 1088.5 1328.3" fill="#fff" stroke="#000" stroke-width="2.196"/>
<g transform="translate(1081.0 1349.7) rotate(90.0)">
<path d="M0 -10.0 L45.0 -10.0 Q48.0 -10.0 48.0 -7.0 L48.0 7.0 Q48.0 10.0 45.0 10.0 L0 10.0 Z" fill="#fff" stroke="#000" stroke-width="1.8"/>
<circle cx="24.5" cy="-0.7" r="1.05" fill="#000"/>
<circle cx="31.7" cy="-1.4" r="1.05" fill="#000"/>
<circle cx="33.6" cy="6.5" r="1.05" fill="#000"/>
<circle cx="15.7" cy="2.3" r="1.05" fill="#000"/>
<circle cx="37.4" cy="-1.7" r="1.05" fill="#000"/>
<circle cx="26.9" cy="7.1" r="1.05" fill="#000"/>
<circle cx="10.4" cy="0.7" r="1.05" fill="#000"/>
<circle cx="14.9" cy="4.2" r="1.05" fill="#000"/>
<circle cx="43.3" cy="0.3" r="1.05" fill="#000"/>
<circle cx="12.7" cy="1.1" r="1.05" fill="#000"/>
<circle cx="28.7" cy="3.3" r="1.05" fill="#000"/>
<circle cx="27.7" cy="2.1" r="1.05" fill="#000"/>
<circle cx="39.3" cy="0.3" r="1.05" fill="#000"/>
<circle cx="24.0" cy="6.7" r="1.05" fill="#000"/>
<circle cx="16.7" cy="2.8" r="1.05" fill="#000"/>
<circle cx="23.3" cy="3.9" r="1.05" fill="#000"/>
<circle cx="13.5" cy="7.3" r="1.05" fill="#000"/>
<circle cx="22.0" cy="-6.7" r="1.05" fill="#000"/>
<circle cx="19.0" cy="-1.5" r="1.05" fill="#000"/>
<circle cx="9.5" cy="-1.2" r="1.05" fill="#000"/>
<circle cx="24.3" cy="3.0" r="1.05" fill="#000"/>
<circle cx="21.9" cy="-3.5" r="1.05" fill="#000"/>
<circle cx="17.2" cy="3.6" r="1.05" fill="#000"/>
<circle cx="43.3" cy="0.4" r="1.05" fill="#000"/>
<ellipse cx="0" cy="0" rx="5.5" ry="10.0" fill="#fff" stroke="#000" stroke-width="2.20"/>
<ellipse cx="0" cy="0" rx="2.5" ry="4.5" fill="none" stroke="#000" stroke-width="1.9"/>
</g>
<text transform="translate(1115.3 1298.0) scale(0.82 1)" font-size="32" text-anchor="middle" stroke="#000" stroke-width="0.9">8</text>
<path d="M 1117.9 1307.2 L 1117.9 1342.3 L 1097.6 1362.6" fill="none" stroke="#000" stroke-width="2.20" />
<text transform="translate(1164.1 1298.0) scale(0.82 1)" font-size="32" text-anchor="middle" stroke="#000" stroke-width="0.9">8</text>
<path d="M 1164.1 1306.1 L 1164.1 1353.4" fill="none" stroke="#000" stroke-width="2.20" />
<path d="M1126.0 1392.6 C1128.0 1389.8 1133.1 1379.5 1138.2 1375.6 C1143.3 1371.6 1150.5 1369.2 1156.7 1368.9 C1162.9 1368.6 1170.4 1370.6 1175.2 1373.7 C1180.0 1376.8 1183.8 1385.1 1185.5 1387.4" fill="none" stroke="#000" stroke-width="20.20" stroke-linecap="round" stroke-linejoin="round"/>
<path d="M1126.0 1392.6 C1128.0 1389.8 1133.1 1379.5 1138.2 1375.6 C1143.3 1371.6 1150.5 1369.2 1156.7 1368.9 C1162.9 1368.6 1170.4 1370.6 1175.2 1373.7 C1180.0 1376.8 1183.8 1385.1 1185.5 1387.4" fill="none" stroke="#fff" stroke-width="15.80" stroke-linecap="round" stroke-linejoin="round"/>
<circle cx="1139.0" cy="1381.2" r="1.05" fill="#000"/>
<circle cx="1145.6" cy="1368.9" r="1.05" fill="#000"/>
<circle cx="1134.7" cy="1386.6" r="1.05" fill="#000"/>
<circle cx="1175.3" cy="1376.8" r="1.05" fill="#000"/>
<circle cx="1152.7" cy="1371.2" r="1.05" fill="#000"/>
<circle cx="1141.0" cy="1382.0" r="1.05" fill="#000"/>
<circle cx="1144.7" cy="1375.2" r="1.05" fill="#000"/>
<circle cx="1173.8" cy="1378.7" r="1.05" fill="#000"/>
<circle cx="1151.4" cy="1368.0" r="1.05" fill="#000"/>
<circle cx="1159.4" cy="1364.6" r="1.05" fill="#000"/>
<circle cx="1179.3" cy="1376.1" r="1.05" fill="#000"/>
<circle cx="1181.0" cy="1376.4" r="1.05" fill="#000"/>
<circle cx="1144.6" cy="1369.9" r="1.05" fill="#000"/>
<circle cx="1147.9" cy="1367.7" r="1.05" fill="#000"/>
<circle cx="1128.5" cy="1394.1" r="1.05" fill="#000"/>
<circle cx="1137.7" cy="1372.2" r="1.05" fill="#000"/>
<circle cx="1140.2" cy="1374.6" r="1.05" fill="#000"/>
<circle cx="1150.1" cy="1373.2" r="1.05" fill="#000"/>
<circle cx="1166.9" cy="1369.7" r="1.05" fill="#000"/>
<circle cx="1178.5" cy="1385.8" r="1.05" fill="#000"/>
<circle cx="1132.0" cy="1391.5" r="1.05" fill="#000"/>
<circle cx="1178.2" cy="1383.8" r="1.05" fill="#000"/>
<circle cx="1135.8" cy="1386.3" r="1.05" fill="#000"/>
<path d="M1099.4 1449.5 L1082.8 1414.4" fill="none" stroke="#000" stroke-width="13.2" stroke-linecap="round"/>
<path d="M1099.4 1449.5 L1117.9 1416.2" fill="none" stroke="#000" stroke-width="13.2" stroke-linecap="round"/>
<path d="M1099.4 1449.5 L1099.4 1486.4" fill="none" stroke="#000" stroke-width="13.2" stroke-linecap="round"/>
<path d="M1099.4 1449.5 L1082.8 1414.4" fill="none" stroke="#fff" stroke-width="8.83" stroke-linecap="round"/>
<path d="M1099.4 1449.5 L1117.9 1416.2" fill="none" stroke="#fff" stroke-width="8.83" stroke-linecap="round"/>
<path d="M1099.4 1449.5 L1099.4 1486.4" fill="none" stroke="#fff" stroke-width="8.83" stroke-linecap="round"/>
<path d="M1098.7 1430.5 L1085.2 1436.9" stroke="#000" stroke-width="2.1849999999999996" fill="none"/>
<path d="M1094.9 1422.4 L1081.3 1428.8" stroke="#000" stroke-width="2.1849999999999996" fill="none"/>
<path d="M1091.2 1414.7 L1077.7 1421.1" stroke="#000" stroke-width="2.1849999999999996" fill="none"/>
<path d="M1114.3 1438.2 L1101.2 1430.9" stroke="#000" stroke-width="2.1849999999999996" fill="none"/>
<path d="M1118.5 1430.5 L1105.4 1423.2" stroke="#000" stroke-width="2.1849999999999996" fill="none"/>
<path d="M1122.6 1423.2 L1109.5 1415.9" stroke="#000" stroke-width="2.1849999999999996" fill="none"/>
<path d="M1091.9 1466.1 L1106.9 1466.1" stroke="#000" stroke-width="2.1849999999999996" fill="none"/>
<path d="M1091.9 1474.6 L1106.9 1474.6" stroke="#000" stroke-width="2.1849999999999996" fill="none"/>
<path d="M1091.9 1482.7 L1106.9 1482.7" stroke="#000" stroke-width="2.1849999999999996" fill="none"/>
<text transform="translate(1145.6 1460.5) scale(0.82 1)" font-size="32" text-anchor="middle" stroke="#000" stroke-width="0.9">7</text>
<path d="M 1114.2 1457.6 L 1132.7 1452.4" fill="none" stroke="#000" stroke-width="2.20" />
<path d="M1271.2 1327.5 L1254.6 1288.7" fill="none" stroke="#000" stroke-width="13.2" stroke-linecap="round"/>
<path d="M1271.2 1327.5 L1291.6 1294.3" fill="none" stroke="#000" stroke-width="13.2" stroke-linecap="round"/>
<path d="M1271.2 1327.5 L1271.2 1366.3" fill="none" stroke="#000" stroke-width="13.2" stroke-linecap="round"/>
<path d="M1271.2 1327.5 L1254.6 1288.7" fill="none" stroke="#fff" stroke-width="8.83" stroke-linecap="round"/>
<path d="M1271.2 1327.5 L1291.6 1294.3" fill="none" stroke="#fff" stroke-width="8.83" stroke-linecap="round"/>
<path d="M1271.2 1327.5 L1271.2 1366.3" fill="none" stroke="#fff" stroke-width="8.83" stroke-linecap="round"/>
<path d="M1270.6 1307.1 L1256.8 1313.0" stroke="#000" stroke-width="2.1849999999999996" fill="none"/>
<path d="M1266.8 1298.2 L1253.0 1304.1" stroke="#000" stroke-width="2.1849999999999996" fill="none"/>
<path d="M1263.2 1289.6 L1249.4 1295.5" stroke="#000" stroke-width="2.1849999999999996" fill="none"/>
<path d="M1286.8 1316.5 L1274.0 1308.6" stroke="#000" stroke-width="2.1849999999999996" fill="none"/>
<path d="M1291.5 1308.9 L1278.7 1301.0" stroke="#000" stroke-width="2.1849999999999996" fill="none"/>
<path d="M1296.0 1301.5 L1283.2 1293.7" stroke="#000" stroke-width="2.1849999999999996" fill="none"/>
<path d="M1263.7 1345.0 L1278.7 1345.0" stroke="#000" stroke-width="2.1849999999999996" fill="none"/>
<path d="M1263.7 1353.9 L1278.7 1353.9" stroke="#000" stroke-width="2.1849999999999996" fill="none"/>
<path d="M1263.7 1362.4 L1278.7 1362.4" stroke="#000" stroke-width="2.1849999999999996" fill="none"/>
<text transform="translate(1356.9 1336.8) scale(0.82 1)" font-size="32" text-anchor="middle" stroke="#000" stroke-width="0.9">7</text>
<path d="M 1286.0 1334.9 L 1311.9 1326.8 L 1341.4 1326.8" fill="none" stroke="#000" stroke-width="2.20" />
<g transform="translate(1269.4 1387.4) rotate(90.0)">
<path d="M0 -11.0 L43.5 -11.0 Q46.5 -11.0 46.5 -8.0 L46.5 8.0 Q46.5 11.0 43.5 11.0 L0 11.0 Z" fill="#fff" stroke="#000" stroke-width="1.8"/>
<circle cx="31.4" cy="-8.2" r="1.05" fill="#000"/>
<circle cx="10.1" cy="7.7" r="1.05" fill="#000"/>
<circle cx="32.2" cy="-4.2" r="1.05" fill="#000"/>
<circle cx="13.2" cy="-6.1" r="1.05" fill="#000"/>
<circle cx="17.7" cy="4.7" r="1.05" fill="#000"/>
<circle cx="21.6" cy="-5.9" r="1.05" fill="#000"/>
<circle cx="40.7" cy="5.0" r="1.05" fill="#000"/>
<circle cx="15.5" cy="6.6" r="1.05" fill="#000"/>
<circle cx="30.6" cy="4.8" r="1.05" fill="#000"/>
<circle cx="32.6" cy="6.7" r="1.05" fill="#000"/>
<circle cx="36.7" cy="5.8" r="1.05" fill="#000"/>
<circle cx="16.5" cy="3.3" r="1.05" fill="#000"/>
<circle cx="27.9" cy="4.1" r="1.05" fill="#000"/>
<circle cx="24.7" cy="6.5" r="1.05" fill="#000"/>
<circle cx="28.7" cy="-4.0" r="1.05" fill="#000"/>
<circle cx="17.7" cy="-6.1" r="1.05" fill="#000"/>
<circle cx="26.6" cy="-7.5" r="1.05" fill="#000"/>
<circle cx="25.7" cy="-6.0" r="1.05" fill="#000"/>
<circle cx="26.6" cy="-0.0" r="1.05" fill="#000"/>
<circle cx="28.2" cy="6.2" r="1.05" fill="#000"/>
<circle cx="9.9" cy="5.8" r="1.05" fill="#000"/>
<circle cx="25.8" cy="1.1" r="1.05" fill="#000"/>
<circle cx="32.5" cy="5.8" r="1.05" fill="#000"/>
<circle cx="22.6" cy="-1.4" r="1.05" fill="#000"/>
<circle cx="42.6" cy="-7.2" r="1.05" fill="#000"/>
<ellipse cx="0" cy="0" rx="6.1" ry="11.0" fill="#fff" stroke="#000" stroke-width="2.20"/>
<ellipse cx="0" cy="0" rx="2.8" ry="5.0" fill="none" stroke="#000" stroke-width="1.9"/>
</g>
<text transform="translate(1356.2 1408.8) scale(0.82 1)" font-size="32" text-anchor="middle" stroke="#000" stroke-width="0.9">8</text>
<path d="M 1287.9 1405.1 L 1311.9 1397.0 L 1341.4 1397.0" fill="none" stroke="#000" stroke-width="2.20" />
<g transform="translate(1317.4 1235.2) rotate(108.3)">
<path d="M0 -11.0 L40.60791212612672 -11.0 Q43.60791212612672 -11.0 43.60791212612672 -8.0 L43.60791212612672 8.0 Q43.60791212612672 11.0 40.60791212612672 11.0 L0 11.0 Z" fill="#fff" stroke="#000" stroke-width="1.8"/>
<circle cx="29.7" cy="2.3" r="1.05" fill="#000"/>
<circle cx="10.6" cy="1.9" r="1.05" fill="#000"/>
<circle cx="31.1" cy="7.3" r="1.05" fill="#000"/>
<circle cx="20.1" cy="8.2" r="1.05" fill="#000"/>
<circle cx="25.7" cy="-0.3" r="1.05" fill="#000"/>
<circle cx="37.9" cy="-7.9" r="1.05" fill="#000"/>
<circle cx="32.3" cy="2.1" r="1.05" fill="#000"/>
<circle cx="20.3" cy="6.1" r="1.05" fill="#000"/>
<circle cx="21.2" cy="-0.4" r="1.05" fill="#000"/>
<circle cx="26.2" cy="4.6" r="1.05" fill="#000"/>
<circle cx="16.3" cy="-1.1" r="1.05" fill="#000"/>
<circle cx="23.0" cy="0.9" r="1.05" fill="#000"/>
<circle cx="35.7" cy="-3.5" r="1.05" fill="#000"/>
<circle cx="35.7" cy="-1.6" r="1.05" fill="#000"/>
<circle cx="25.5" cy="-3.9" r="1.05" fill="#000"/>
<circle cx="25.6" cy="8.1" r="1.05" fill="#000"/>
<circle cx="30.3" cy="5.0" r="1.05" fill="#000"/>
<circle cx="20.1" cy="-3.1" r="1.05" fill="#000"/>
<circle cx="19.1" cy="1.5" r="1.05" fill="#000"/>
<circle cx="29.6" cy="4.8" r="1.05" fill="#000"/>
<circle cx="11.0" cy="3.8" r="1.05" fill="#000"/>
<circle cx="37.5" cy="0.8" r="1.05" fill="#000"/>
<circle cx="11.3" cy="-3.4" r="1.05" fill="#000"/>
<ellipse cx="0" cy="0" rx="6.1" ry="11.0" fill="#fff" stroke="#000" stroke-width="2.20"/>
<ellipse cx="0" cy="0" rx="2.8" ry="5.0" fill="none" stroke="#000" stroke-width="1.9"/>
</g>
<text transform="translate(1373.6 1270.3) scale(0.82 1)" font-size="32" text-anchor="middle" stroke="#000" stroke-width="0.9">8</text>
<path d="M 1332.2 1259.2 L 1363.6 1259.2" fill="none" stroke="#000" stroke-width="2.20" />
<path d="M1330.3 1214.9 C1331.5 1212.4 1332.8 1204.1 1337.7 1200.1 C1342.6 1196.1 1349.1 1192.2 1359.9 1190.8 C1370.7 1189.4 1395.3 1191.5 1402.4 1191.6" fill="none" stroke="#000" stroke-width="18.20" stroke-linecap="butt" stroke-linejoin="round"/>
<path d="M1330.3 1214.9 C1331.5 1212.4 1332.8 1204.1 1337.7 1200.1 C1342.6 1196.1 1349.1 1192.2 1359.9 1190.8 C1370.7 1189.4 1395.3 1191.5 1402.4 1191.6" fill="none" stroke="#fff" stroke-width="13.80" stroke-linecap="butt" stroke-linejoin="round"/>
<path d="M1323.1 1211.3 C1318.4 1220.8 1332.7 1228.0 1337.5 1218.5" fill="#fff" stroke="#000" stroke-width="2.196"/>
<ellipse cx="1403.5" cy="1189.4" rx="3.0" ry="3.3" transform="rotate(0 1403.5 1189.4)" fill="#fff" stroke="#000" stroke-width="1.59"/>
<path d="M1413.5 1199.0 C1418.7 1198.4 1436.9 1198.5 1444.9 1195.3 C1452.9 1192.1 1458.3 1187.2 1461.5 1179.8 C1464.7 1172.4 1463.7 1155.7 1464.1 1150.9" fill="none" stroke="#000" stroke-width="18.20" stroke-linecap="butt" stroke-linejoin="round"/>
<path d="M1413.5 1199.0 C1418.7 1198.4 1436.9 1198.5 1444.9 1195.3 C1452.9 1192.1 1458.3 1187.2 1461.5 1179.8 C1464.7 1172.4 1463.7 1155.7 1464.1 1150.9" fill="none" stroke="#fff" stroke-width="13.80" stroke-linecap="butt" stroke-linejoin="round"/>
<path d="M1472.1 1151.6 C1473.0 1141.0 1457.1 1139.6 1456.1 1150.2" fill="#fff" stroke="#000" stroke-width="2.196"/>
<ellipse cx="1414.6" cy="1200.1" rx="2.6" ry="3.7" transform="rotate(0 1414.6 1200.1)" fill="#fff" stroke="#000" stroke-width="1.59"/>
<text transform="translate(1444.9 1272.1) scale(0.82 1)" font-size="32" text-anchor="middle" stroke="#000" stroke-width="0.9">11</text>
<path d="M 1447.8 1194.5 L 1447.8 1240.7" fill="none" stroke="#000" stroke-width="2.20" />
<circle cx="1447.8" cy="1192.7" r="1.8" fill="#000"/>
<g transform="translate(1444.1 1132.5) rotate(-133.5)">
<path d="M0 -11.0 L41.42071588797278 -11.0 Q44.42071588797278 -11.0 44.42071588797278 -8.0 L44.42071588797278 8.0 Q44.42071588797278 11.0 41.42071588797278 11.0 L0 11.0 Z" fill="#fff" stroke="#000" stroke-width="1.8"/>
<circle cx="9.9" cy="-5.3" r="1.05" fill="#000"/>
<circle cx="39.4" cy="1.8" r="1.05" fill="#000"/>
<circle cx="30.9" cy="4.9" r="1.05" fill="#000"/>
<circle cx="39.0" cy="1.9" r="1.05" fill="#000"/>
<circle cx="29.6" cy="2.2" r="1.05" fill="#000"/>
<circle cx="32.1" cy="1.6" r="1.05" fill="#000"/>
<circle cx="31.6" cy="-4.9" r="1.05" fill="#000"/>
<circle cx="31.2" cy="-0.7" r="1.05" fill="#000"/>
<circle cx="34.3" cy="-6.8" r="1.05" fill="#000"/>
<circle cx="15.5" cy="-7.9" r="1.05" fill="#000"/>
<circle cx="34.7" cy="7.0" r="1.05" fill="#000"/>
<circle cx="30.8" cy="-2.2" r="1.05" fill="#000"/>
<circle cx="36.2" cy="4.9" r="1.05" fill="#000"/>
<circle cx="27.8" cy="-4.1" r="1.05" fill="#000"/>
<circle cx="19.4" cy="-1.3" r="1.05" fill="#000"/>
<circle cx="20.0" cy="-1.2" r="1.05" fill="#000"/>
<circle cx="30.4" cy="7.4" r="1.05" fill="#000"/>
<circle cx="11.5" cy="1.1" r="1.05" fill="#000"/>
<circle cx="11.0" cy="-6.5" r="1.05" fill="#000"/>
<circle cx="35.8" cy="1.3" r="1.05" fill="#000"/>
<circle cx="39.3" cy="-0.9" r="1.05" fill="#000"/>
<circle cx="10.2" cy="-1.9" r="1.05" fill="#000"/>
<circle cx="28.8" cy="7.4" r="1.05" fill="#000"/>
<circle cx="41.3" cy="-0.4" r="1.05" fill="#000"/>
<ellipse cx="0" cy="0" rx="6.1" ry="11.0" fill="#fff" stroke="#000" stroke-width="2.20"/>
<ellipse cx="0" cy="0" rx="2.8" ry="5.0" fill="none" stroke="#000" stroke-width="1.9"/>
</g>
<text transform="translate(1364.7 1146.5) scale(0.82 1)" font-size="32" text-anchor="middle" stroke="#000" stroke-width="0.9">8</text>
<path d="M 1378.4 1131.7 L 1406.1 1122.5" fill="none" stroke="#000" stroke-width="2.20" />
<path d="M1191.0 1416.0 C1191.0 1446.7 1191.0 1547.9 1191.0 1600.0 C1191.0 1652.1 1190.1 1702.4 1191.0 1728.8 C1191.9 1755.2 1192.0 1748.9 1196.5 1758.4 C1201.0 1767.9 1207.4 1777.1 1218.0 1786.0 C1228.6 1794.9 1245.8 1803.4 1260.0 1812.0 C1274.2 1820.6 1296.0 1833.2 1303.2 1837.4" fill="none" stroke="#000" stroke-width="18.70" stroke-linecap="butt" stroke-linejoin="round"/>
<path d="M1191.0 1416.0 C1191.0 1446.7 1191.0 1547.9 1191.0 1600.0 C1191.0 1652.1 1190.1 1702.4 1191.0 1728.8 C1191.9 1755.2 1192.0 1748.9 1196.5 1758.4 C1201.0 1767.9 1207.4 1777.1 1218.0 1786.0 C1228.6 1794.9 1245.8 1803.4 1260.0 1812.0 C1274.2 1820.6 1296.0 1833.2 1303.2 1837.4" fill="none" stroke="#fff" stroke-width="14.30" stroke-linecap="butt" stroke-linejoin="round"/>
<ellipse cx="1191" cy="1416" rx="8" ry="4.5" transform="rotate(0 1191 1416)" fill="#fff" stroke="#000" stroke-width="2.20"/>
<ellipse cx="1191" cy="1416" rx="3" ry="1.6" transform="rotate(0 1191 1416)" fill="#fff" stroke="#000" stroke-width="1.46"/>
<ellipse cx="1304" cy="1838" rx="5" ry="8.5" transform="rotate(-30 1304 1838)" fill="#fff" stroke="#000" stroke-width="2.20"/>
<ellipse cx="1304" cy="1838" rx="2" ry="3.5" transform="rotate(-30 1304 1838)" fill="#fff" stroke="#000" stroke-width="1.46"/>
<circle cx="1191.0" cy="1734.4" r="2" fill="#000"/>
<path d="M 1191.0 1734.4 L 1155.2 1763.9 L 1155.2 1799.0" fill="none" stroke="#000" stroke-width="2.20" />
<text transform="translate(1154.5 1833) scale(0.82 1)" font-size="32" text-anchor="middle" stroke="#000" stroke-width="0.9">14</text>
<g transform="translate(1041.4 1531.9) rotate(90.0)">
<path d="M0 -10.5 L41.69999999999982 -10.5 Q44.69999999999982 -10.5 44.69999999999982 -7.5 L44.69999999999982 7.5 Q44.69999999999982 10.5 41.69999999999982 10.5 L0 10.5 Z" fill="#fff" stroke="#000" stroke-width="1.8"/>
<circle cx="22.9" cy="-6.4" r="1.05" fill="#000"/>
<circle cx="30.5" cy="-4.6" r="1.05" fill="#000"/>
<circle cx="14.3" cy="-7.8" r="1.05" fill="#000"/>
<circle cx="9.5" cy="2.9" r="1.05" fill="#000"/>
<circle cx="13.3" cy="7.5" r="1.05" fill="#000"/>
<circle cx="12.2" cy="5.9" r="1.05" fill="#000"/>
<circle cx="13.6" cy="-7.7" r="1.05" fill="#000"/>
<circle cx="33.0" cy="-4.1" r="1.05" fill="#000"/>
<circle cx="33.4" cy="-5.0" r="1.05" fill="#000"/>
<circle cx="11.0" cy="4.4" r="1.05" fill="#000"/>
<circle cx="32.8" cy="5.7" r="1.05" fill="#000"/>
<circle cx="33.3" cy="-6.7" r="1.05" fill="#000"/>
<circle cx="30.0" cy="3.3" r="1.05" fill="#000"/>
<circle cx="24.5" cy="6.9" r="1.05" fill="#000"/>
<circle cx="17.7" cy="7.4" r="1.05" fill="#000"/>
<circle cx="32.9" cy="-7.8" r="1.05" fill="#000"/>
<circle cx="9.8" cy="2.4" r="1.05" fill="#000"/>
<circle cx="36.2" cy="-6.7" r="1.05" fill="#000"/>
<circle cx="19.6" cy="3.7" r="1.05" fill="#000"/>
<circle cx="14.8" cy="5.8" r="1.05" fill="#000"/>
<circle cx="25.3" cy="-7.0" r="1.05" fill="#000"/>
<circle cx="21.4" cy="1.2" r="1.05" fill="#000"/>
<circle cx="23.8" cy="2.8" r="1.05" fill="#000"/>
<ellipse cx="0" cy="0" rx="5.8" ry="10.5" fill="#fff" stroke="#000" stroke-width="2.20"/>
<ellipse cx="0" cy="0" rx="2.6" ry="4.7" fill="none" stroke="#000" stroke-width="1.9"/>
</g>
<g transform="translate(1100.9 1511.6) rotate(90.0)">
<path d="M0 -11.0 L41.30000000000018 -11.0 Q44.30000000000018 -11.0 44.30000000000018 -8.0 L44.30000000000018 8.0 Q44.30000000000018 11.0 41.30000000000018 11.0 L0 11.0 Z" fill="#fff" stroke="#000" stroke-width="1.8"/>
<circle cx="14.4" cy="5.1" r="1.05" fill="#000"/>
<circle cx="21.4" cy="2.5" r="1.05" fill="#000"/>
<circle cx="29.9" cy="-1.4" r="1.05" fill="#000"/>
<circle cx="22.1" cy="4.9" r="1.05" fill="#000"/>
<circle cx="40.0" cy="4.8" r="1.05" fill="#000"/>
<circle cx="27.9" cy="-3.5" r="1.05" fill="#000"/>
<circle cx="11.6" cy="8.1" r="1.05" fill="#000"/>
<circle cx="32.3" cy="5.6" r="1.05" fill="#000"/>
<circle cx="20.4" cy="1.8" r="1.05" fill="#000"/>
<circle cx="41.1" cy="5.6" r="1.05" fill="#000"/>
<circle cx="29.0" cy="-3.3" r="1.05" fill="#000"/>
<circle cx="23.5" cy="6.6" r="1.05" fill="#000"/>
<circle cx="21.8" cy="3.1" r="1.05" fill="#000"/>
<circle cx="29.0" cy="6.7" r="1.05" fill="#000"/>
<circle cx="35.6" cy="-3.7" r="1.05" fill="#000"/>
<circle cx="9.8" cy="-4.0" r="1.05" fill="#000"/>
<circle cx="23.3" cy="1.5" r="1.05" fill="#000"/>
<circle cx="35.9" cy="6.6" r="1.05" fill="#000"/>
<circle cx="11.1" cy="5.7" r="1.05" fill="#000"/>
<circle cx="35.8" cy="6.2" r="1.05" fill="#000"/>
<circle cx="28.1" cy="-3.8" r="1.05" fill="#000"/>
<circle cx="37.0" cy="5.2" r="1.05" fill="#000"/>
<circle cx="31.7" cy="7.0" r="1.05" fill="#000"/>
<circle cx="20.8" cy="-7.1" r="1.05" fill="#000"/>
<ellipse cx="0" cy="0" rx="6.1" ry="11.0" fill="#fff" stroke="#000" stroke-width="2.20"/>
<ellipse cx="0" cy="0" rx="2.8" ry="5.0" fill="none" stroke="#000" stroke-width="1.9"/>
</g>
<text transform="translate(1145.9 1531.2) scale(0.82 1)" font-size="32" text-anchor="middle" stroke="#000" stroke-width="0.9">8</text>
<path d="M 1117.5 1527.5 L 1130.0 1523.8" fill="none" stroke="#000" stroke-width="2.20" />
<path d="M 848.9 1727.3 L 1010.7 1642.0 M 840.0 1768.3 L 1026.2 1668.6 M 1010.7 1642.0 Q 1022.9 1640.9 1026.7 1655.3 Q 1028.4 1664.1 1025.1 1669.7 M 1020.7 1640.9 L 1035.1 1635.3 M 1049.5 1627.6 L 1094.9 1608.7 M 1109.3 1604.3 L 1114.9 1599.9 M 1027.3 1661.9 L 1119.3 1620.9 M 1116.0 1598.1 Q 1126.0 1592.1 1131.5 1604.3 Q 1134.8 1615.4 1128.2 1621.6 Q 1124.9 1622.5 1122.0 1619.4 M 1119.3 1593.2 L 1172.5 1572.1 M 1132.6 1618.7 L 1171.4 1603.2" fill="none" stroke="#000" stroke-width="2.20" />
<path d="M 1036.4 1635.8 L 1036.4 1610.0 L 1032.2 1607.4 L 1036.7 1593.6 Q 1042.2 1589.2 1047.7 1593.6 L 1052.1 1607.4 L 1047.9 1610.0 L 1047.9 1635.8" fill="#fff" stroke="#000" stroke-width="1.95" />
<path d="M 1032.2 1607.4 Q 1042.2 1611.8 1052.1 1607.4" fill="none" stroke="#000" stroke-width="1.71" />
<ellipse cx="1042.2" cy="1595.0" rx="5.0" ry="2.0" transform="rotate(0 1042.2 1595.0)" fill="#fff" stroke="#000" stroke-width="1.59"/>
<path d="M 1096.5 1612.0 L 1096.5 1586.7 L 1092.3 1584.1 L 1096.8 1570.6 Q 1102.2 1566.2 1107.7 1570.6 L 1112.2 1584.1 L 1108.0 1586.7 L 1108.0 1612.0" fill="#fff" stroke="#000" stroke-width="1.95" />
<path d="M 1092.3 1584.1 Q 1102.2 1588.5 1112.2 1584.1" fill="none" stroke="#000" stroke-width="1.71" />
<ellipse cx="1102.2" cy="1571.9" rx="5.0" ry="2.0" transform="rotate(0 1102.2 1571.9)" fill="#fff" stroke="#000" stroke-width="1.59"/>
<path d="M 1213.3 1505.3 L 1235.4 1497.6 M 1221.0 1534.2 L 1246.5 1524.2 M 1244.3 1497.6 L 1260.9 1490.9 M 1273.1 1486.5 L 1321.9 1467.7 M 1335.2 1463.2 L 1344.0 1459.5 M 1344.0 1455.5 L 1390.6 1437.7 M 1252.0 1517.5 L 1355.1 1482.5 L 1370.6 1476.5" fill="none" stroke="#000" stroke-width="2.20" />
<ellipse cx="1244.3" cy="1510.4" rx="6.7" ry="13.7" transform="rotate(-20 1244.3 1510.4)" fill="#fff" stroke="#000" stroke-width="2.20"/>
<path d="M 1344.0 1455.5 Q 1351.8 1451.0 1358.4 1458.8 Q 1364.0 1471.0 1357.3 1482.1 Q 1352.9 1484.3 1350.7 1481.0" fill="none" stroke="#000" stroke-width="2.20" />
<path d="M 1262.2 1491.4 L 1262.2 1465.2 L 1258.0 1462.4 L 1262.5 1448.4 Q 1268.0 1443.9 1273.5 1448.4 L 1278.0 1462.4 L 1273.8 1465.2 L 1273.8 1491.4" fill="#fff" stroke="#000" stroke-width="1.95" />
<path d="M 1258.0 1462.4 Q 1268.0 1467.0 1278.0 1462.4" fill="none" stroke="#000" stroke-width="1.71" />
<ellipse cx="1268.0" cy="1449.8" rx="5.0" ry="2.0" transform="rotate(0 1268.0 1449.8)" fill="#fff" stroke="#000" stroke-width="1.59"/>
<path d="M 1323.2 1471.4 L 1323.2 1446.5 L 1319.0 1443.9 L 1323.5 1430.6 Q 1329.0 1426.3 1334.5 1430.6 L 1338.9 1443.9 L 1334.7 1446.5 L 1334.7 1471.4" fill="#fff" stroke="#000" stroke-width="1.95" />
<path d="M 1319.0 1443.9 Q 1329.0 1448.2 1338.9 1443.9" fill="none" stroke="#000" stroke-width="1.71" />
<ellipse cx="1329.0" cy="1431.9" rx="5.0" ry="1.9" transform="rotate(0 1329.0 1431.9)" fill="#fff" stroke="#000" stroke-width="1.59"/>
<path d="M 1207.7 1524.2 L 1235.4 1514.2" fill="none" stroke="#000" stroke-width="2.07" stroke-dasharray="30 7 4 7"/>
<path d="M1370.6 1461.0 C1373.6 1460.1 1382.9 1455.0 1388.4 1455.5 C1394.0 1456.0 1401.7 1459.1 1403.9 1464.3 C1406.1 1469.5 1404.3 1481.0 1401.7 1486.5 C1399.1 1492.0 1395.1 1493.5 1388.4 1497.6 C1381.8 1501.7 1372.9 1506.1 1361.8 1510.9 C1350.7 1515.7 1333.0 1522.0 1321.9 1526.4 C1310.8 1530.8 1302.1 1532.3 1295.3 1537.5 C1288.5 1542.7 1283.5 1550.4 1280.9 1557.4 C1278.3 1564.4 1277.8 1573.5 1279.8 1579.6 C1281.8 1585.7 1288.7 1591.4 1293.1 1594.0 C1297.5 1596.6 1304.2 1594.9 1306.4 1595.1" fill="none" stroke="#000" stroke-width="2.07" stroke-dasharray="40 8 4 8"/>
<path d="M 1277.5 1604.0 L 1350.7 1579.6" fill="none" stroke="#000" stroke-width="2.07" stroke-dasharray="40 8 4 8"/>
<path d="M1207.7 1567.4 C1210.5 1567.0 1219.1 1563.2 1224.3 1565.2 C1229.5 1567.2 1235.4 1574.2 1238.7 1579.6 C1242.0 1584.9 1241.2 1592.5 1244.3 1597.3 C1247.4 1602.1 1252.8 1606.9 1257.6 1608.4 C1262.4 1609.9 1270.5 1606.6 1273.1 1606.2" fill="none" stroke="#000" stroke-width="2.07" stroke-dasharray="40 8 4 8"/>
<path d="M1415.0 1524.2 C1420.2 1524.9 1435.3 1520.8 1446.0 1528.6 C1456.7 1536.3 1471.9 1555.5 1479.3 1570.7 C1486.7 1585.9 1491.0 1604.7 1490.3 1619.5 C1489.5 1634.3 1480.0 1651.1 1474.8 1659.4 C1469.6 1667.7 1461.9 1667.7 1459.3 1669.4" fill="none" stroke="#000" stroke-width="2.07" />
<path d="M1423.8 1522.4 C1429.3 1523.8 1446.2 1522.0 1457.1 1530.8 C1468.0 1539.6 1482.2 1561.2 1489.2 1575.2 C1496.2 1589.2 1499.0 1602.5 1499.2 1615.1 C1499.4 1627.6 1494.0 1642.4 1490.3 1650.5 C1486.6 1658.6 1479.2 1661.6 1477.0 1663.8" fill="none" stroke="#000" stroke-width="2.07" />
<path d="M1454.9 1529.7 C1460.1 1534.3 1478.5 1546.1 1485.9 1557.4 C1493.3 1568.7 1497.0 1590.7 1499.2 1597.3" fill="none" stroke="#000" stroke-width="2.07" />
<path d="M1408.3 1526.4 C1413.8 1527.9 1431.2 1527.2 1441.6 1535.3 C1451.9 1543.4 1463.8 1561.2 1470.4 1575.2 C1477.1 1589.2 1481.9 1605.8 1481.5 1619.5 C1481.1 1633.2 1472.3 1648.7 1468.2 1657.2 C1464.1 1665.7 1458.9 1668.3 1457.1 1670.5" fill="none" stroke="#000" stroke-width="2.07" />
<path d="M1379.5 1540.8 C1371.4 1541.9 1360.3 1544.3 1352.9 1550.8 C1345.5 1557.3 1338.2 1568.1 1335.2 1579.6 C1332.2 1591.0 1332.2 1606.2 1335.2 1619.5 C1338.2 1632.8 1345.5 1648.7 1352.9 1659.4 C1360.3 1670.1 1369.9 1678.8 1379.5 1683.8 C1389.1 1688.8 1400.9 1690.8 1410.5 1689.3 C1420.1 1687.8 1430.6 1682.8 1437.1 1674.9 C1443.6 1667.0 1447.8 1654.6 1449.3 1641.7 C1450.8 1628.8 1450.2 1611.0 1446.0 1597.3 C1441.8 1583.6 1431.2 1568.6 1423.8 1559.7 C1416.4 1550.8 1409.1 1547.2 1401.7 1544.1 C1394.3 1540.9 1387.6 1539.7 1379.5 1540.8 Z" fill="#fff" stroke="#000" stroke-width="2.07" />
<path d="M 1379.5 1540.8 L 1415.0 1524.2 M 1437.1 1677.1 L 1459.3 1668.7" fill="none" stroke="#000" stroke-width="2.07" />
<path d="M1372.9 1579.6 C1377.0 1580.0 1390.2 1578.1 1397.2 1581.8 C1404.2 1585.5 1412.0 1593.3 1415.0 1601.8 C1418.0 1610.3 1418.0 1624.7 1415.0 1632.8 C1412.0 1640.9 1403.9 1647.9 1397.2 1650.5 C1390.5 1653.1 1378.8 1648.7 1375.1 1648.3" fill="none" stroke="#000" stroke-width="2.07" />
<path d="M1379.5 1588.5 C1382.5 1588.9 1392.4 1587.4 1397.2 1590.7 C1402.0 1594.0 1406.8 1601.4 1408.3 1608.4 C1409.8 1615.4 1408.7 1626.9 1406.1 1632.8 C1403.5 1638.7 1395.0 1642.1 1392.8 1643.9" fill="none" stroke="#000" stroke-width="1.71" />
<path d="M 1386.2 1595.1 L 1410.5 1619.5 L 1401.7 1635.0 L 1379.5 1615.1 M 1392.8 1592.9 L 1411.7 1615.1 M 1377.3 1610.6 Q 1370.6 1619.5 1375.1 1632.8" fill="none" stroke="#000" stroke-width="1.71" />
<ellipse cx="1393.3" cy="1629.5" rx="4.9" ry="5.8" transform="rotate(0 1393.3 1629.5)" fill="#fff" stroke="#000" stroke-width="1.71"/>
<ellipse cx="1351.8" cy="1575.2" rx="5.5" ry="4.4" transform="rotate(0 1351.8 1575.2)" fill="#fff" stroke="#000" stroke-width="1.59"/>
<path d="M 1237.6 1648.3 L 1279.8 1633.3 L 1321.9 1617.3 L 1335.2 1626.2 L 1333.0 1648.3 L 1282.0 1666.5 L 1253.2 1679.4 L 1237.6 1679.4 Z" fill="#fff" stroke="#000" stroke-width="2.07" />
<ellipse cx="1236.5" cy="1663.8" rx="11.5" ry="15.1" transform="rotate(-20 1236.5 1663.8)" fill="#fff" stroke="#000" stroke-width="2.07"/>
<ellipse cx="1235.4" cy="1664.5" rx="6.7" ry="8.9" transform="rotate(-20 1235.4 1664.5)" fill="#fff" stroke="#000" stroke-width="1.71"/>
<path d="M 1278.6 1620.6 Q 1279.8 1612.9 1290.8 1612.9 Q 1303.0 1614.0 1303.7 1620.6 L 1305.2 1641.7 Q 1295.3 1648.3 1280.9 1641.7 Z" fill="#fff" stroke="#000" stroke-width="2.07" />
<path d="M 1278.6 1620.6 Q 1290.8 1630.6 1303.7 1620.6" fill="none" stroke="#000" stroke-width="2.07" />
<path d="M 1342.9 1600.7 Q 1345.1 1592.9 1356.2 1592.9 Q 1368.4 1594.0 1370.2 1600.7 L 1368.4 1619.5 Q 1357.3 1626.2 1345.1 1619.5 Z" fill="#fff" stroke="#000" stroke-width="2.07" />
<path d="M 1342.9 1600.7 Q 1356.2 1610.6 1370.2 1600.7" fill="none" stroke="#000" stroke-width="2.07" />
<path d="M 1318.5 1617.3 Q 1319.7 1612.9 1325.2 1612.9 Q 1331.8 1613.3 1332.5 1617.3 L 1331.8 1625.0 L 1319.7 1626.2 Z" fill="#fff" stroke="#000" stroke-width="1.71" />
<path d="M 1305.2 1623.9 L 1318.5 1619.5 M 1305.9 1627.3 L 1319.2 1622.8 M 1333.0 1614.0 L 1344.0 1610.6 M 1333.0 1617.3 L 1344.0 1614.0" fill="none" stroke="#000" stroke-width="1.59" />
<path d="M 1333.0 1628.4 L 1348.5 1627.3 Q 1364.0 1632.8 1364.0 1641.7 Q 1357.3 1652.8 1346.3 1651.7 L 1335.2 1643.9 Z" fill="#fff" stroke="#000" stroke-width="2.07" />
<ellipse cx="1353.3" cy="1639.9" rx="9.3" ry="11.1" transform="rotate(-30 1353.3 1639.9)" fill="#fff" stroke="#000" stroke-width="2.07"/>
<path d="M 1257.6 1661.6 L 1273.1 1661.6 Q 1280.9 1666.1 1279.8 1674.9 Q 1275.3 1682.7 1267.6 1682.7 L 1255.4 1677.1 Z" fill="#fff" stroke="#000" stroke-width="2.07" />
<ellipse cx="1270.9" cy="1672.0" rx="8.4" ry="10.6" transform="rotate(-30 1270.9 1672.0)" fill="#fff" stroke="#000" stroke-width="2.07"/>
<path d="M 1227.7 1643.9 Q 1235.4 1630.6 1246.5 1636.1 M 1310.8 1612.9 Q 1315.2 1601.8 1324.1 1606.2 M 1315.2 1658.3 Q 1324.1 1666.1 1339.6 1658.3 M 1239.9 1684.9 Q 1250.9 1694.9 1263.1 1687.1 M 1337.4 1595.1 Q 1344.0 1590.7 1350.7 1594.0 M 1370.6 1632.8 Q 1377.3 1628.4 1386.2 1630.6" fill="none" stroke="#000" stroke-width="1.71" />
<path d="M 1413.6 1800.4 L 1406.4 1851.7 L 1404.8 1858.1 L 1406.4 1867.7 M 1458.5 1826.1 L 1454.5 1869.3 M 1488.1 1827.7 L 1481.7 1874.1 M 1508.9 1813.3 L 1500.9 1862.9 M 1513.7 1810.0 L 1504.9 1864.5 M 1433.6 1822.9 L 1427.2 1856.5 M 1436.8 1826.1 L 1456.1 1832.5 M 1492.9 1829.3 L 1504.1 1819.7 M 1406.4 1867.7 Q 1432.0 1878.9 1478.5 1882.1 M 1408.0 1861.3 Q 1412.8 1866.1 1424.0 1869.3 M 1444.9 1806.8 L 1449.7 1806.8 L 1451.3 1782.8 M 1464.1 1765.2 Q 1472.1 1757.2 1478.5 1766.0" fill="none" stroke="#000" stroke-width="2.07" />
<path d="M 1415.2 1768.4 Q 1414.4 1757.2 1424.0 1755.6 Q 1440.0 1757.2 1443.3 1766.8 L 1445.7 1797.2 Q 1446.5 1805.2 1436.8 1807.2 Q 1414.4 1806.8 1412.8 1798.8 Q 1413.6 1794.8 1420.8 1791.6 L 1419.6 1778.0 Q 1415.2 1774.8 1415.2 1768.4 Z" fill="#fff" stroke="#000" stroke-width="2.07" />
<path d="M 1459.3 1782.8 Q 1459.3 1771.6 1470.5 1770.0 Q 1488.1 1771.6 1492.1 1784.4 L 1491.3 1819.7 Q 1489.7 1827.7 1478.5 1826.9 Q 1457.7 1826.1 1456.9 1820.5 Q 1457.7 1814.9 1464.4 1810.8 L 1462.8 1794.0 Q 1458.9 1789.2 1459.3 1782.8 Z" fill="#fff" stroke="#000" stroke-width="2.07" />
<path d="M 1497.7 1770.0 Q 1497.7 1763.6 1505.7 1762.8 Q 1513.7 1764.4 1514.5 1771.6 L 1514.0 1810.0 Q 1510.5 1814.1 1504.1 1813.3 L 1504.9 1778.0 Q 1498.5 1776.4 1497.7 1770.0 Z" fill="#fff" stroke="#000" stroke-width="2.07" />
<path d="M 1502.5 1768.4 Q 1505.7 1766.0 1508.9 1769.2" fill="none" stroke="#000" stroke-width="1.59" />
<path d="M 1424.0 1870.9 Q 1428.8 1861.3 1436.8 1863.7 Q 1443.3 1867.7 1444.1 1874.9 M 1420.8 1874.1 L 1417.6 1899.7 M 1427.2 1874.1 L 1424.0 1898.1 M 1436.8 1854.9 Q 1443.3 1851.7 1446.5 1858.1 L 1447.3 1867.7 M 1440.0 1858.1 Q 1442.5 1858.1 1442.5 1866.1" fill="none" stroke="#000" stroke-width="2.07" />
<path d="M 1435.2 1874.1 L 1478.5 1880.5 M 1435.2 1883.7 L 1478.5 1890.1 M 1446.5 1893.3 L 1446.5 1912.5 L 1452.9 1914.1 M 1446.5 1893.3 L 1472.1 1895.7 M 1449.7 1898.1 L 1472.1 1907.7 M 1449.7 1898.1 L 1449.7 1910.9 M 1400.0 1917.3 Q 1403.2 1933.3 1424.0 1942.9 Q 1449.7 1950.9 1476.9 1946.1 M 1384.0 1883.7 L 1452.9 1924.0 M 1459.3 1928.5 L 1472.1 1935.2 M 1459.3 1928.5 Q 1456.1 1926.9 1458.5 1924.5 L 1472.1 1930.9" fill="none" stroke="#000" stroke-width="2.07" />
<path d="M 1389.6 1877.3 Q 1390.4 1872.5 1401.6 1872.2 Q 1412.8 1872.5 1413.6 1878.1 L 1411.2 1898.1 Q 1408.0 1912.5 1395.2 1912.5 Q 1387.2 1906.1 1387.2 1898.1 Z" fill="#fff" stroke="#000" stroke-width="2.07" />
<path d="M 1389.6 1877.3 Q 1400.0 1883.7 1413.6 1878.1 M 1388.8 1902.9 Q 1396.8 1909.3 1408.0 1904.5" fill="none" stroke="#000" stroke-width="1.71" />
<path d="M1497.7 1866.1 C1502.2 1864.2 1507.8 1860.0 1513.7 1861.3 C1519.6 1862.6 1527.6 1868.8 1532.9 1874.1 C1538.2 1879.4 1542.2 1886.6 1545.7 1893.3 C1549.2 1900.0 1552.9 1908.5 1553.7 1914.1 C1554.5 1919.7 1553.4 1922.9 1550.5 1926.9 C1547.6 1930.9 1542.5 1933.6 1536.1 1938.1 C1529.7 1942.6 1518.0 1950.9 1512.1 1954.1 C1506.2 1957.3 1505.2 1958.1 1500.9 1957.3 C1496.6 1956.5 1490.8 1953.8 1486.5 1949.3 C1482.2 1944.8 1477.6 1936.5 1475.3 1930.1 C1473.0 1923.7 1472.6 1918.1 1472.9 1910.9 C1473.2 1903.7 1474.6 1893.3 1476.9 1886.9 C1479.2 1880.5 1483.0 1876.0 1486.5 1872.5 C1490.0 1869.0 1493.2 1868.0 1497.7 1866.1 Z" fill="#fff" stroke="#000" stroke-width="2.07" />
<path d="M1499.3 1866.1 C1497.2 1869.0 1489.4 1876.2 1486.5 1883.7 C1483.6 1891.2 1481.7 1902.1 1481.7 1910.9 C1481.7 1919.7 1483.6 1929.6 1486.5 1936.5 C1489.4 1943.4 1497.2 1949.8 1499.3 1952.5" fill="none" stroke="#000" stroke-width="2.07" />
<path d="M1513.7 1862.9 C1510.8 1865.3 1500.4 1870.1 1496.1 1877.3 C1491.8 1884.5 1488.4 1896.0 1488.1 1906.1 C1487.8 1916.2 1490.5 1930.4 1494.5 1938.1 C1498.5 1945.8 1509.2 1950.1 1512.1 1952.5" fill="none" stroke="#000" stroke-width="2.07" />
<path d="M1505.7 1864.5 C1503.3 1867.2 1494.8 1873.0 1491.3 1880.5 C1487.8 1888.0 1485.0 1899.7 1484.9 1909.3 C1484.8 1918.9 1487.0 1930.8 1490.5 1938.1 C1494.0 1945.4 1503.2 1950.8 1505.7 1953.3" fill="none" stroke="#000" stroke-width="1.59" />
<ellipse cx="1536.9" cy="1918.9" rx="14.7" ry="19.5" transform="rotate(10 1536.9 1918.9)" fill="#fff" stroke="#000" stroke-width="2.07"/>
<ellipse cx="1544.1" cy="1919.7" rx="8.3" ry="11.5" transform="rotate(10 1544.1 1919.7)" fill="#fff" stroke="#000" stroke-width="2.07"/>
<ellipse cx="1545.7" cy="1919.7" rx="2.9" ry="3.5" transform="rotate(0 1545.7 1919.7)" fill="#fff" stroke="#000" stroke-width="1.59"/>
<path d="M 1524.9 1907.7 Q 1520.1 1922.1 1529.7 1936.5" fill="none" stroke="#000" stroke-width="1.59" />
<path d="M 1536.9 1885.0 L 1551.3 1860.0" fill="none" stroke="#000" stroke-width="9.33" stroke-linecap="butt" stroke-linejoin="round"/>
<path d="M 1536.9 1885.0 L 1551.3 1860.0" fill="none" stroke="#fff" stroke-width="5.67" stroke-linecap="butt" stroke-linejoin="round"/>
<ellipse cx="1551.5" cy="1859.0" rx="3.8" ry="2.2" transform="rotate(-30 1551.5 1859.0)" fill="#fff" stroke="#000" stroke-width="1.83"/>
<path d="M 1425.6 1944.5 L 1424.0 1960.5 M 1465.7 1949.3 L 1466.5 1960.5 M 1424.0 1960.5 Q 1443.3 1970.1 1466.5 1960.5" fill="none" stroke="#000" stroke-width="2.07" />
<path d="M 1412.8 1958.9 Q 1416.0 1952.5 1424.8 1951.7 L 1424.0 1960.5 Q 1443.3 1970.1 1466.5 1960.5 L 1466.0 1954.1 Q 1473.7 1955.7 1474.5 1962.1 L 1474.0 1976.6 Q 1456.1 1986.2 1440.0 1984.6 Q 1420.8 1983.0 1412.8 1973.3 Z" fill="#fff" stroke="#000" stroke-width="2.07" />
<path d="M 1412.8 1965.3 Q 1441.7 1980.6 1474.0 1968.5 M 1416.0 1979.8 L 1418.4 2002.2 M 1470.5 1983.0 L 1463.3 2003.8 M 1416.8 1986.2 Q 1440.0 1998.2 1468.9 1988.1 M 1417.6 1994.2 Q 1440.0 2005.7 1466.0 1996.1 M 1418.9 2002.2 Q 1440.0 2012.6 1463.3 2004.1" fill="none" stroke="#000" stroke-width="2.07" />
<path d="M 1413.6 2000.6 L 1410.4 2011.8 L 1412.8 2023.8 M 1415.2 2029.4 L 1413.6 2043.8 Q 1432.0 2053.4 1454.5 2045.7 L 1456.1 2031.3" fill="none" stroke="#000" stroke-width="2.07" />
<path d="M 1412.8 2011.8 L 1417.6 2009.9 L 1420.0 2023.0 L 1415.2 2025.4 Z" fill="#fff" stroke="#000" stroke-width="1.83" />
<path d="M 1423.2 2016.6 L 1428.0 2014.7 L 1430.4 2027.8 L 1425.6 2030.2 Z" fill="#fff" stroke="#000" stroke-width="1.83" />
<path d="M 1435.2 2020.6 L 1440.0 2018.7 L 1442.5 2031.8 L 1437.6 2034.2 Z" fill="#fff" stroke="#000" stroke-width="1.83" />
<path d="M 1447.3 2018.2 L 1452.1 2016.3 L 1454.5 2029.4 L 1449.7 2031.8 Z" fill="#fff" stroke="#000" stroke-width="1.83" />
<path d="M 1456.1 2014.2 L 1460.9 2012.3 L 1463.3 2025.4 L 1458.5 2027.8 Z" fill="#fff" stroke="#000" stroke-width="1.83" />
<path d="M 1462.5 2005.4 L 1464.1 2016.6 L 1460.1 2026.2" fill="none" stroke="#000" stroke-width="2.07" />
<g transform="translate(1566.3 1799.8) rotate(101.2)">
<path d="M0 -10.5 L39.10617531906688 -10.5 Q42.10617531906688 -10.5 42.10617531906688 -7.5 L42.10617531906688 7.5 Q42.10617531906688 10.5 39.10617531906688 10.5 L0 10.5 Z" fill="#fff" stroke="#000" stroke-width="1.8"/>
<circle cx="26.1" cy="4.8" r="1.05" fill="#000"/>
<circle cx="15.4" cy="4.0" r="1.05" fill="#000"/>
<circle cx="37.5" cy="-4.3" r="1.05" fill="#000"/>
<circle cx="27.7" cy="2.8" r="1.05" fill="#000"/>
<circle cx="23.4" cy="-4.7" r="1.05" fill="#000"/>
<circle cx="17.1" cy="4.0" r="1.05" fill="#000"/>
<circle cx="33.3" cy="-0.6" r="1.05" fill="#000"/>
<circle cx="12.0" cy="4.9" r="1.05" fill="#000"/>
<circle cx="32.7" cy="-4.3" r="1.05" fill="#000"/>
<circle cx="26.9" cy="6.4" r="1.05" fill="#000"/>
<circle cx="36.1" cy="0.3" r="1.05" fill="#000"/>
<circle cx="23.8" cy="1.4" r="1.05" fill="#000"/>
<circle cx="15.1" cy="-4.9" r="1.05" fill="#000"/>
<circle cx="14.8" cy="3.2" r="1.05" fill="#000"/>
<circle cx="20.3" cy="1.0" r="1.05" fill="#000"/>
<circle cx="21.5" cy="0.3" r="1.05" fill="#000"/>
<circle cx="13.9" cy="-7.3" r="1.05" fill="#000"/>
<circle cx="39.5" cy="-2.0" r="1.05" fill="#000"/>
<circle cx="12.6" cy="2.1" r="1.05" fill="#000"/>
<circle cx="33.2" cy="-5.5" r="1.05" fill="#000"/>
<circle cx="27.4" cy="-2.5" r="1.05" fill="#000"/>
<circle cx="25.1" cy="-7.7" r="1.05" fill="#000"/>
<ellipse cx="0" cy="0" rx="5.8" ry="10.5" fill="#fff" stroke="#000" stroke-width="2.20"/>
<ellipse cx="0" cy="0" rx="2.6" ry="4.7" fill="none" stroke="#000" stroke-width="1.9"/>
</g>
<text transform="translate(1569.2 1997.4) scale(0.82 1)" font-size="32" text-anchor="middle" stroke="#000" stroke-width="0.9">8</text>
<path d="M 1566.3 1840.4 L 1572.2 1845.9 L 1572.2 1966.0" fill="none" stroke="#000" stroke-width="2.20" />
<g transform="translate(1366.0 1873.6) rotate(-153.5)">
<path d="M0 -10.5 L46.506565221190534 -10.5 Q49.506565221190534 -10.5 49.506565221190534 -7.5 L49.506565221190534 7.5 Q49.506565221190534 10.5 46.506565221190534 10.5 L0 10.5 Z" fill="#fff" stroke="#000" stroke-width="1.8"/>
<circle cx="10.6" cy="7.8" r="1.05" fill="#000"/>
<circle cx="42.0" cy="-0.2" r="1.05" fill="#000"/>
<circle cx="30.7" cy="-3.8" r="1.05" fill="#000"/>
<circle cx="38.7" cy="-1.2" r="1.05" fill="#000"/>
<circle cx="45.0" cy="4.3" r="1.05" fill="#000"/>
<circle cx="40.2" cy="7.4" r="1.05" fill="#000"/>
<circle cx="18.9" cy="-7.4" r="1.05" fill="#000"/>
<circle cx="16.9" cy="-5.1" r="1.05" fill="#000"/>
<circle cx="12.5" cy="-7.2" r="1.05" fill="#000"/>
<circle cx="30.3" cy="5.9" r="1.05" fill="#000"/>
<circle cx="26.6" cy="7.2" r="1.05" fill="#000"/>
<circle cx="43.6" cy="-7.0" r="1.05" fill="#000"/>
<circle cx="31.9" cy="-1.6" r="1.05" fill="#000"/>
<circle cx="13.9" cy="7.3" r="1.05" fill="#000"/>
<circle cx="19.0" cy="1.0" r="1.05" fill="#000"/>
<circle cx="33.5" cy="7.3" r="1.05" fill="#000"/>
<circle cx="34.6" cy="-1.7" r="1.05" fill="#000"/>
<circle cx="26.2" cy="-5.4" r="1.05" fill="#000"/>
<circle cx="45.7" cy="7.9" r="1.05" fill="#000"/>
<circle cx="17.7" cy="-7.4" r="1.05" fill="#000"/>
<circle cx="19.0" cy="-2.4" r="1.05" fill="#000"/>
<circle cx="43.3" cy="6.5" r="1.05" fill="#000"/>
<circle cx="40.9" cy="-7.2" r="1.05" fill="#000"/>
<circle cx="39.0" cy="3.4" r="1.05" fill="#000"/>
<circle cx="33.7" cy="7.8" r="1.05" fill="#000"/>
<ellipse cx="0" cy="0" rx="5.8" ry="10.5" fill="#fff" stroke="#000" stroke-width="2.20"/>
<ellipse cx="0" cy="0" rx="2.6" ry="4.7" fill="none" stroke="#000" stroke-width="1.9"/>
</g>
<text transform="translate(1333.9 1954.9) scale(0.82 1)" font-size="32" text-anchor="middle" stroke="#000" stroke-width="0.9">9</text>
<path d="M 1335.3 1877.3 L 1335.3 1923.5" fill="none" stroke="#000" stroke-width="2.20" />
<path d="M1524.6 1272.0 C1524.6 1310.0 1524.6 1428.7 1524.6 1500.0 C1524.6 1571.3 1523.6 1661.7 1524.6 1700.0 C1525.6 1738.3 1525.8 1716.4 1530.5 1729.6 C1535.2 1742.8 1548.9 1771.1 1552.6 1779.4" fill="none" stroke="#000" stroke-width="2.07" stroke-dasharray="60 8 4 8"/>
<path d="M 384.7 1907.1 L 480.8 1907.1 L 599.0 1918.2 L 636.0 1929.3 L 676.6 1944.1 L 687.7 1952.2 M 443.8 1929.3 L 521.4 1970.0 L 576.8 1975.5 M 412.4 1971.8 L 510.3 2025.4 M 418.0 1973.6 L 532.5 2029.1 M 351.5 2001.4 L 436.5 2054.9 M 521.4 1968.1 L 600.9 1999.5 M 255.4 1921.9 L 266.5 1977.3 L 288.7 2036.5 L 307.1 2080.8 L 321.9 2099.3 L 342.2 2108.5 M 401.4 1945.9 L 402.5 1958.9 L 412.4 1971.8 M 351.5 1984.7 Q 345.9 2006.9 358.9 2040.1 L 384.7 2077.1 M 580.5 1977.3 Q 575.0 1988.4 580.5 1997.7 L 591.6 1999.5 M 636.0 1929.3 Q 617.5 1927.5 606.4 1923.8 M 443.8 1929.3 L 436.5 1931.2 M 636.0 1994.0 L 658.1 2006.9" fill="none" stroke="#000" stroke-width="2.20" />
<path d="M 246.2 1883.1 Q 251.7 1875.7 259.1 1876.5 L 281.3 1879.4 Q 288.7 1873.2 296.1 1873.9 L 321.9 1877.6 L 355.2 1890.5 L 384.7 1907.1 L 401.4 1933.0 L 400.2 1945.9 L 384.7 1945.9 L 347.8 1940.4 L 310.8 1933.0 L 273.9 1923.8 L 255.4 1910.8 L 246.2 1896.1 Z" fill="#fff" stroke="#000" stroke-width="2.20" />
<path d="M 246.2 1896.1 L 248.0 1907.9 L 255.4 1921.9 L 273.9 1933.7 L 310.8 1944.8 L 316.4 1945.9 M 316.4 1947.8 L 316.4 1957.0 M 400.2 1945.9 L 401.4 1947.0" fill="none" stroke="#000" stroke-width="2.20" />
<ellipse cx="323.8" cy="1910.8" rx="41.4" ry="15.5" transform="rotate(18 323.8 1910.8)" fill="#fff" stroke="#000" stroke-width="2.20"/>
<ellipse cx="324.9" cy="1912.7" rx="36.9" ry="12.2" transform="rotate(18 324.9 1912.7)" fill="#fff" stroke="#000" stroke-width="1.71"/>
<ellipse cx="262.8" cy="1885.7" rx="5.9" ry="4.1" transform="rotate(0 262.8 1885.7)" fill="#fff" stroke="#000" stroke-width="1.71"/>
<ellipse cx="343.3" cy="1893.1" rx="5.9" ry="4.1" transform="rotate(0 343.3 1893.1)" fill="#fff" stroke="#000" stroke-width="1.71"/>
<ellipse cx="284.2" cy="1920.1" rx="5.9" ry="4.1" transform="rotate(0 284.2 1920.1)" fill="#fff" stroke="#000" stroke-width="1.71"/>
<ellipse cx="382.9" cy="1931.2" rx="5.9" ry="4.1" transform="rotate(0 382.9 1931.2)" fill="#fff" stroke="#000" stroke-width="1.71"/>
<path d="M 353.3 1886.8 L 381.8 1869.5 M 377.3 1899.8 L 392.1 1892.4 M 410.6 1901.6 L 461.6 1879.4 M 418.0 1910.8 L 471.6 1897.9" fill="none" stroke="#000" stroke-width="2.20" />
<ellipse cx="389.2" cy="1880.2" rx="8.1" ry="14.8" transform="rotate(-25 389.2 1880.2)" fill="#fff" stroke="#000" stroke-width="2.20"/>
<path d="M 381.8 1869.5 Q 377.3 1879.4 384.7 1892.4" fill="none" stroke="#000" stroke-width="1.71" />
<ellipse cx="469.7" cy="1888.7" rx="8.1" ry="14.0" transform="rotate(-25 469.7 1888.7)" fill="#fff" stroke="#000" stroke-width="2.20"/>
<path d="M 461.6 1879.4 Q 458.6 1888.7 465.3 1899.8" fill="none" stroke="#000" stroke-width="1.71" />
<path d="M 599.0 1918.2 L 624.9 1892.4 M 606.4 1925.6 Q 617.5 1929.3 628.6 1923.8 L 645.2 1905.3" fill="none" stroke="#000" stroke-width="2.20" />
<path d="M 624.9 1892.4 Q 630.4 1886.8 639.7 1890.5 Q 647.8 1896.8 645.2 1905.3 Q 636.0 1910.8 628.6 1905.3 Q 623.0 1899.8 624.9 1892.4 Z" fill="#fff" stroke="#000" stroke-width="2.20" />
<path d="M 633.0 1893.1 L 637.8 1896.8" fill="none" stroke="#000" stroke-width="1.59" />
<path d="M 222.2 1954.4 L 259.1 1945.9 L 262.8 1977.3 L 225.9 1988.4 Z" fill="#fff" stroke="#000" stroke-width="2.20" />
<ellipse cx="220.3" cy="1970.7" rx="10.3" ry="16.6" transform="rotate(-10 220.3 1970.7)" fill="#fff" stroke="#000" stroke-width="2.20"/>
<ellipse cx="220.3" cy="1970.7" rx="6.3" ry="11.1" transform="rotate(-10 220.3 1970.7)" fill="#fff" stroke="#000" stroke-width="1.71"/>
<path d="M 242.5 2016.1 L 279.4 2006.9 L 285.7 2038.3 L 246.2 2048.3 Z" fill="#fff" stroke="#000" stroke-width="2.20" />
<ellipse cx="239.9" cy="2032.0" rx="10.3" ry="16.6" transform="rotate(-10 239.9 2032.0)" fill="#fff" stroke="#000" stroke-width="2.20"/>
<ellipse cx="239.9" cy="2032.0" rx="6.3" ry="11.1" transform="rotate(-10 239.9 2032.0)" fill="#fff" stroke="#000" stroke-width="1.71"/>
<path d="M 295.3 2094.8 L 336.7 2106.7 L 334.9 2134.4 L 291.6 2122.2 Q 286.8 2108.5 295.3 2094.8 Z" fill="#fff" stroke="#000" stroke-width="2.20" />
<path d="M334.1 2102.6 C335.6 2099.8 338.1 2090.6 343.3 2086.0 C348.5 2081.4 356.2 2077.7 365.5 2074.9 C374.8 2072.1 389.6 2073.0 398.8 2069.3 C408.0 2065.6 412.3 2056.1 420.9 2052.7 C429.5 2049.3 441.9 2052.1 450.5 2049.0 C459.1 2045.9 464.7 2038.2 472.7 2034.2 C480.7 2030.2 489.9 2025.9 498.5 2025.0 C507.1 2024.1 517.6 2030.2 524.4 2028.7 C531.2 2027.2 533.7 2020.4 539.2 2015.8 C544.7 2011.2 550.2 2004.1 557.6 2001.0 C565.0 1997.9 576.1 1999.8 583.5 1997.3 C590.9 1994.8 596.5 1989.6 602.0 1986.2 C607.5 1982.8 609.3 1978.8 616.7 1977.0 C624.1 1975.2 638.9 1977.9 646.3 1975.1 C653.7 1972.3 655.5 1964.9 661.1 1960.3 C666.7 1955.7 671.6 1949.9 679.6 1947.4 C687.6 1945.0 704.2 1945.9 709.1 1945.6" fill="none" stroke="#000" stroke-width="2.20" />
<path d="M342.2 2108.5 C344.4 2103.0 346.3 2096.5 351.5 2091.9 C356.7 2087.3 364.4 2083.6 373.6 2080.8 C382.8 2078.0 397.6 2078.9 406.9 2075.2 C416.1 2071.5 420.5 2062.0 429.1 2058.6 C437.7 2055.2 450.0 2058.0 458.6 2054.9 C467.2 2051.8 472.8 2044.1 480.8 2040.1 C488.8 2036.1 498.1 2031.8 506.7 2030.9 C515.3 2030.0 525.7 2036.1 532.5 2034.6 C539.3 2033.1 541.8 2026.3 547.3 2021.7 C552.8 2017.1 558.4 2010.0 565.8 2006.9 C573.2 2003.8 584.2 2005.7 591.6 2003.2 C599.0 2000.7 604.6 1995.5 610.1 1992.1 C615.6 1988.7 617.5 1984.8 624.9 1982.9 C632.3 1981.1 647.0 1983.8 654.4 1981.0 C661.8 1978.2 663.7 1970.9 669.2 1966.3 C674.8 1961.7 679.7 1955.8 687.7 1953.3 C695.7 1950.8 709.2 1950.6 717.2 1951.5 C725.2 1952.4 732.3 1955.2 735.7 1958.9 C739.1 1962.6 737.3 1971.1 737.6 1973.6 C737.9 1976.0 739.2 1969.3 737.6 1973.6 C736.0 1977.9 732.9 1992.1 728.3 1999.5 C723.7 2006.9 716.7 2014.3 709.9 2018.0 C703.1 2021.7 694.5 2022.9 687.7 2021.7 C680.9 2020.5 674.8 2014.6 669.2 2010.6 C663.7 2006.6 660.5 2000.2 654.4 1997.7 C648.2 1995.2 637.8 1992.4 632.3 1995.8 C626.8 1999.2 625.5 2010.0 621.2 2018.0 C616.9 2026.0 611.3 2035.8 606.4 2043.8 C601.5 2051.8 597.1 2060.8 591.6 2066.0 C586.1 2071.2 578.7 2073.7 573.2 2075.2 C567.7 2076.7 563.0 2075.5 558.4 2075.2 C553.8 2074.9 549.7 2070.0 545.4 2073.4 C541.1 2076.8 537.7 2090.1 532.5 2095.6 C527.3 2101.1 520.1 2105.8 514.0 2106.7 C507.9 2107.6 501.1 2104.8 495.6 2101.1 C490.1 2097.4 487.0 2089.7 480.8 2084.5 C474.6 2079.3 465.4 2070.3 458.6 2069.7 C451.8 2069.1 445.0 2076.5 440.1 2080.8 C435.2 2085.1 433.4 2087.0 429.1 2095.6 C424.8 2104.2 419.2 2123.3 414.3 2132.5 C409.4 2141.7 404.4 2147.6 399.5 2151.0 C394.6 2154.4 389.6 2154.4 384.7 2152.8 C379.8 2151.2 375.5 2144.1 370.0 2141.7 C364.5 2139.2 356.8 2140.9 351.5 2138.1 C346.2 2135.3 340.1 2130.0 338.5 2125.1 C336.9 2120.2 340.0 2114.0 342.2 2108.5 Z" fill="#fff" stroke="#000" stroke-width="2.20" />
<ellipse cx="388.4" cy="2114.0" rx="16.6" ry="24.4" transform="rotate(8 388.4 2114.0)" fill="#fff" stroke="#000" stroke-width="2.20"/>
<ellipse cx="512.2" cy="2064.2" rx="16.6" ry="24.4" transform="rotate(8 512.2 2064.2)" fill="#fff" stroke="#000" stroke-width="2.20"/>
<ellipse cx="580.5" cy="2032.8" rx="16.6" ry="24.4" transform="rotate(8 580.5 2032.8)" fill="#fff" stroke="#000" stroke-width="2.20"/>
<ellipse cx="696.9" cy="1988.4" rx="16.6" ry="24.4" transform="rotate(8 696.9 1988.4)" fill="#fff" stroke="#000" stroke-width="2.20"/>
<ellipse cx="353.3" cy="2120.7" rx="4.1" ry="5.5" transform="rotate(0 353.3 2120.7)" fill="#fff" stroke="#000" stroke-width="1.71"/>
<ellipse cx="418.0" cy="2093.7" rx="4.1" ry="5.5" transform="rotate(0 418.0 2093.7)" fill="#fff" stroke="#000" stroke-width="1.71"/>
<ellipse cx="475.2" cy="2071.6" rx="4.1" ry="5.5" transform="rotate(0 475.2 2071.6)" fill="#fff" stroke="#000" stroke-width="1.71"/>
<ellipse cx="610.1" cy="2016.1" rx="4.1" ry="5.5" transform="rotate(0 610.1 2016.1)" fill="#fff" stroke="#000" stroke-width="1.71"/>
<ellipse cx="663.7" cy="1994.0" rx="4.1" ry="5.5" transform="rotate(0 663.7 1994.0)" fill="#fff" stroke="#000" stroke-width="1.71"/>
<ellipse cx="727.6" cy="1970.0" rx="4.1" ry="5.5" transform="rotate(0 727.6 1970.0)" fill="#fff" stroke="#000" stroke-width="1.71"/>
<path d="M 440.1 2081.5 L 473.4 2088.2 M 632.3 2005.0 L 656.3 2008.7" fill="none" stroke="#000" stroke-width="2.20" />
<path d="M849.4 1744.7 C842.8 1748.5 824.1 1759.0 810.0 1767.5 C795.9 1776.0 778.7 1786.2 764.7 1795.5 C750.7 1804.8 738.3 1814.0 726.0 1823.0 C713.7 1832.0 703.3 1839.4 690.8 1849.4 C678.3 1859.5 657.5 1877.7 650.8 1883.3" fill="none" stroke="#000" stroke-width="2.07" stroke-dasharray="89 9 3 10 71 8 3 9 45 50"/>
<text x="1375.5" y="2424.3" font-size="23" textLength="54.7" lengthAdjust="spacingAndGlyphs" stroke="#000" stroke-width="0.5">MOD</text>
<text x="1450.5" y="2424.3" font-size="23" textLength="63.2" lengthAdjust="spacing" stroke="#000" stroke-width="0.5">17-81</text>
<text x="1540" y="2424.3" font-size="23" textLength="57.7" lengthAdjust="spacing" stroke="#000" stroke-width="0.5">3-80</text>
<path d="M1745.8 162 L1745.8 358" stroke="#111" stroke-width="1.4" fill="none" stroke-linecap="butt"/>
<path d="M1745.8 358 L1745.8 617" stroke="#444" stroke-width="1.0" fill="none" stroke-linecap="butt" stroke-dasharray="2 14 1 22 3 30"/>
<path d="M1745.8 617 L1745.8 722" stroke="#333" stroke-width="1.0" fill="none" stroke-linecap="butt" stroke-dasharray="4 5 2 6"/>
<path d="M1745.8 722 L1745.8 1302" stroke="#222" stroke-width="1.1" fill="none" stroke-linecap="butt"/>
<path d="M1745.8 1302 L1745.8 1420" stroke="#333" stroke-width="1.0" fill="none" stroke-linecap="butt" stroke-dasharray="8 4 3 5"/>
<path d="M1745.8 1420 L1745.8 1600" stroke="#444" stroke-width="1.0" fill="none" stroke-linecap="butt" stroke-dasharray="3 8 1 10"/>
<path d="M1745.8 1600 L1745.8 2000" stroke="#555" stroke-width="1.0" fill="none" stroke-linecap="butt" stroke-dasharray="2 16 1 24"/>
<path d="M1745.8 2000 L1745.8 2330" stroke="#444" stroke-width="1.0" fill="none" stroke-linecap="butt" stroke-dasharray="4 7 2 9"/>
<path d="M1745.8 2330 L1745.8 2520" stroke="#111" stroke-width="1.5" fill="none" stroke-linecap="butt"/>
<circle cx="1290" cy="41" r="0.9" fill="#333"/>
<circle cx="1323" cy="348" r="0.9" fill="#333"/>
<circle cx="1798" cy="357" r="0.9" fill="#333"/>
<circle cx="1780" cy="1050" r="0.9" fill="#333"/>
<circle cx="1772" cy="1290" r="0.9" fill="#333"/>
<circle cx="1766" cy="1880" r="0.9" fill="#333"/>
<circle cx="1657" cy="2330" r="0.9" fill="#333"/>
<g style="mix-blend-mode:multiply">
<rect x="730" y="1010" width="337.5" height="479.4" rx="16" ry="16" fill="none" stroke="#cdd7fa" stroke-width="6.5"/>
<text x="803.4" y="1109.3" font-size="63.6" textLength="188.5" lengthAdjust="spacingAndGlyphs" style="fill:#c3cff8" stroke="#c3cff8" stroke-width="1.5">ORIGINAL</text>
<text x="753" y="1445.5" font-size="58.5" textLength="291.8" lengthAdjust="spacingAndGlyphs" style="fill:#c3cff8" stroke="#c3cff8" stroke-width="1.5">CLASSIC PARTS</text>
<circle cx="900" cy="1255.9" r="97.5" fill="none" stroke="#c3cff8" stroke-width="14"/>
<clipPath id="vwv"><path d="M780 1130 L1020 1130 L1020 1248.2 L780 1248.2 Z"/></clipPath>
<clipPath id="vww"><path d="M780 1260 H1020 V1380 H780 Z M780 1130 H872 V1261 H780 Z M928 1130 H1020 V1261 H928 Z"/></clipPath>
<clipPath id="vwc"><circle cx="900" cy="1255.9" r="92"/></clipPath>
<g clip-path="url(#vwc)"><g clip-path="url(#vwv)"><path d="M853.9 1154.4 L900.0 1251.9 L946.1 1154.4" fill="none" stroke="#c3cff8" stroke-width="22" stroke-linejoin="miter" stroke-miterlimit="6"/></g>
<g clip-path="url(#vww)"><path d="M807.6 1174.3 L868.1 1319.7 L900.0 1256.6 L931.9 1319.7 L992.4 1174.3" fill="none" stroke="#c3cff8" stroke-width="22" stroke-linejoin="miter" stroke-miterlimit="6"/></g></g>
</g>
</svg>
</body></html>
